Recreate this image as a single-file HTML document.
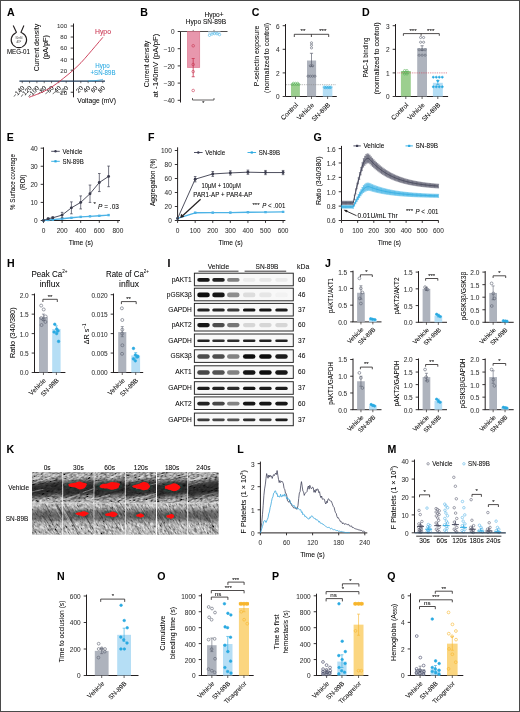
<!DOCTYPE html>
<html><head><meta charset="utf-8"><style>
html,body{margin:0;padding:0;background:#fff;}
svg{display:block;}
text{font-family:"Liberation Sans",sans-serif;}
</style></head><body>
<svg width="520" height="712" viewBox="0 0 520 712">
<rect x="0" y="0" width="520" height="712" fill="#fff"/>
<g opacity="0.999">
<text x="7.1" y="16.1" font-size="10.6" font-weight="bold" stroke="#231f20" stroke-width="0.06">A</text>
<path d="M13.2,25.5 L16.4,32.2 L15.6,33 A7.7,7.7 0 1 0 22.2,33 L21.0,32.3 L23.9,25.5" fill="none" stroke="#231f20" stroke-width="1.1" />
<text x="18.9" y="38.6" font-size="2.6" text-anchor="middle" fill="#777" stroke="#777" stroke-width="0.06">30mM</text>
<text x="18.9" y="43" font-size="2.6" text-anchor="middle" fill="#777" stroke="#777" stroke-width="0.06">ATP</text>
<text x="6.9" y="54.2" font-size="6.4" textLength="23.1" lengthAdjust="spacingAndGlyphs" stroke="#231f20" stroke-width="0.06">MEG-01</text>
<line x1="73.5" y1="23.5" x2="73.5" y2="97.3" stroke="#231f20" stroke-width="1" />
<line x1="70.7" y1="26" x2="73.5" y2="26" stroke="#231f20" stroke-width="0.9" />
<text x="67.1" y="28.4" font-size="6.1" text-anchor="end" fill="#3a3a3a" stroke="#3a3a3a" stroke-width="0.06">100</text>
<line x1="70.7" y1="37.04" x2="73.5" y2="37.04" stroke="#231f20" stroke-width="0.9" />
<text x="67.1" y="39.44" font-size="6.1" text-anchor="end" fill="#3a3a3a" stroke="#3a3a3a" stroke-width="0.06">80</text>
<line x1="70.7" y1="48.08" x2="73.5" y2="48.08" stroke="#231f20" stroke-width="0.9" />
<text x="67.1" y="50.48" font-size="6.1" text-anchor="end" fill="#3a3a3a" stroke="#3a3a3a" stroke-width="0.06">60</text>
<line x1="70.7" y1="59.12" x2="73.5" y2="59.12" stroke="#231f20" stroke-width="0.9" />
<text x="67.1" y="61.52" font-size="6.1" text-anchor="end" fill="#3a3a3a" stroke="#3a3a3a" stroke-width="0.06">40</text>
<line x1="70.7" y1="70.16" x2="73.5" y2="70.16" stroke="#231f20" stroke-width="0.9" />
<text x="67.1" y="72.56" font-size="6.1" text-anchor="end" fill="#3a3a3a" stroke="#3a3a3a" stroke-width="0.06">20</text>
<line x1="70.7" y1="92.24" x2="73.5" y2="92.24" stroke="#231f20" stroke-width="0.9" />
<text x="67.1" y="94.64" font-size="6.1" text-anchor="end" fill="#3a3a3a" stroke="#3a3a3a" stroke-width="0.06">−20</text>
<line x1="19.4" y1="81.2" x2="105" y2="81.2" stroke="#1f3a58" stroke-width="1.25" />
<line x1="22.26" y1="81.2" x2="22.26" y2="83.2" stroke="#231f20" stroke-width="0.6" />
<text x="24.86" y="88.4" font-size="6.2" text-anchor="end" transform="rotate(-45 24.86 88.4)" stroke="#231f20" stroke-width="0.06">−140</text>
<line x1="29.58" y1="81.2" x2="29.58" y2="83.2" stroke="#231f20" stroke-width="0.6" />
<text x="32.18" y="88.4" font-size="6.2" text-anchor="end" transform="rotate(-45 32.18 88.4)" stroke="#231f20" stroke-width="0.06">−120</text>
<line x1="36.9" y1="81.2" x2="36.9" y2="83.2" stroke="#231f20" stroke-width="0.6" />
<text x="39.5" y="88.4" font-size="6.2" text-anchor="end" transform="rotate(-45 39.5 88.4)" stroke="#231f20" stroke-width="0.06">−100</text>
<line x1="44.22" y1="81.2" x2="44.22" y2="83.2" stroke="#231f20" stroke-width="0.6" />
<text x="46.82" y="88.4" font-size="6.2" text-anchor="end" transform="rotate(-45 46.82 88.4)" stroke="#231f20" stroke-width="0.06">−80</text>
<line x1="51.54" y1="81.2" x2="51.54" y2="83.2" stroke="#231f20" stroke-width="0.6" />
<text x="54.14" y="88.4" font-size="6.2" text-anchor="end" transform="rotate(-45 54.14 88.4)" stroke="#231f20" stroke-width="0.06">−60</text>
<line x1="58.86" y1="81.2" x2="58.86" y2="83.2" stroke="#231f20" stroke-width="0.6" />
<text x="61.46" y="88.4" font-size="6.2" text-anchor="end" transform="rotate(-45 61.46 88.4)" stroke="#231f20" stroke-width="0.06">−40</text>
<line x1="66.18" y1="81.2" x2="66.18" y2="83.2" stroke="#231f20" stroke-width="0.6" />
<text x="68.78" y="88.4" font-size="6.2" text-anchor="end" transform="rotate(-45 68.78 88.4)" stroke="#231f20" stroke-width="0.06">−20</text>
<line x1="80.82" y1="81.2" x2="80.82" y2="83.2" stroke="#231f20" stroke-width="0.6" />
<text x="83.42" y="88.4" font-size="6.2" text-anchor="end" transform="rotate(-45 83.42 88.4)" stroke="#231f20" stroke-width="0.06">20</text>
<line x1="88.14" y1="81.2" x2="88.14" y2="83.2" stroke="#231f20" stroke-width="0.6" />
<text x="90.74" y="88.4" font-size="6.2" text-anchor="end" transform="rotate(-45 90.74 88.4)" stroke="#231f20" stroke-width="0.06">40</text>
<line x1="95.46" y1="81.2" x2="95.46" y2="83.2" stroke="#231f20" stroke-width="0.6" />
<text x="98.06" y="88.4" font-size="6.2" text-anchor="end" transform="rotate(-45 98.06 88.4)" stroke="#231f20" stroke-width="0.06">60</text>
<line x1="102.78" y1="81.2" x2="102.78" y2="83.2" stroke="#231f20" stroke-width="0.6" />
<text x="105.38" y="88.4" font-size="6.2" text-anchor="end" transform="rotate(-45 105.38 88.4)" stroke="#231f20" stroke-width="0.06">80</text>
<path d="M88,80.9 C95,80.9 99,80.3 103,79.3" fill="none" stroke="#29a9e1" stroke-width="0.7" />
<path d="M29,97.3 C31.17,96.47 38.17,94.05 42,92.3 C45.83,90.55 49,88.68 52,86.8 C55,84.92 57.5,82.9 60,81 C62.5,79.1 64.8,77.2 67,75.4 C69.2,73.6 70.87,72.32 73.2,70.2 C75.53,68.08 78.53,65.27 81,62.7 C83.47,60.13 85.67,57.48 88,54.8 C90.33,52.12 92.52,49.52 95,46.6 C97.48,43.68 101.58,38.85 102.9,37.3" fill="none" stroke="#c8334f" stroke-width="0.9" />
<text x="103" y="34.4" font-size="6.6" text-anchor="middle" fill="#c8334f" textLength="16" lengthAdjust="spacingAndGlyphs" stroke="#c8334f" stroke-width="0.06">Hypo</text>
<text x="102.5" y="68.4" font-size="6.6" text-anchor="middle" fill="#29a9e1" textLength="14.5" lengthAdjust="spacingAndGlyphs" stroke="#29a9e1" stroke-width="0.06">Hypo</text>
<text x="103" y="75.1" font-size="6.6" text-anchor="middle" fill="#29a9e1" textLength="25" lengthAdjust="spacingAndGlyphs" stroke="#29a9e1" stroke-width="0.06">+SN-89B</text>
<text x="77.3" y="102.5" font-size="7" textLength="38.7" lengthAdjust="spacingAndGlyphs" stroke="#231f20" stroke-width="0.06">Voltage (mV)</text>
<text x="38.6" y="47.5" font-size="7" text-anchor="middle" textLength="47.5" lengthAdjust="spacingAndGlyphs" transform="rotate(-90 38.6 47.5)" stroke="#231f20" stroke-width="0.06">Current density</text>
<text x="48.3" y="47.3" font-size="7" text-anchor="middle" textLength="24.5" lengthAdjust="spacingAndGlyphs" transform="rotate(-90 48.3 47.3)" stroke="#231f20" stroke-width="0.06">(pA/pF)</text>
<text x="140.3" y="16.1" font-size="10.6" font-weight="bold" stroke="#231f20" stroke-width="0.06">B</text>
<line x1="180.5" y1="31.5" x2="180.5" y2="102.5" stroke="#231f20" stroke-width="1" />
<line x1="177.7" y1="31.5" x2="180.5" y2="31.5" stroke="#231f20" stroke-width="0.9" />
<text x="174.7" y="34.44" font-size="6.5" text-anchor="end" fill="#333333" stroke="#333333" stroke-width="0.06">0</text>
<line x1="177.7" y1="48.7" x2="180.5" y2="48.7" stroke="#231f20" stroke-width="0.9" />
<text x="174.7" y="51.64" font-size="6.5" text-anchor="end" fill="#333333" stroke="#333333" stroke-width="0.06">−10</text>
<line x1="177.7" y1="65.9" x2="180.5" y2="65.9" stroke="#231f20" stroke-width="0.9" />
<text x="174.7" y="68.84" font-size="6.5" text-anchor="end" fill="#333333" stroke="#333333" stroke-width="0.06">−20</text>
<line x1="177.7" y1="83.1" x2="180.5" y2="83.1" stroke="#231f20" stroke-width="0.9" />
<text x="174.7" y="86.04" font-size="6.5" text-anchor="end" fill="#333333" stroke="#333333" stroke-width="0.06">−30</text>
<line x1="177.7" y1="100.3" x2="180.5" y2="100.3" stroke="#231f20" stroke-width="0.9" />
<text x="174.7" y="103.24" font-size="6.5" text-anchor="end" fill="#333333" stroke="#333333" stroke-width="0.06">−40</text>
<line x1="180.5" y1="31.5" x2="227.5" y2="31.5" stroke="#231f20" stroke-width="0.8" />
<line x1="193.2" y1="31.5" x2="193.2" y2="29.9" stroke="#231f20" stroke-width="0.6" />
<line x1="214" y1="31.5" x2="214" y2="29.9" stroke="#231f20" stroke-width="0.6" />
<rect x="187.4" y="31.5" width="12.4" height="36.12" fill="#e897ad" stroke="#d8657f" stroke-width="0.5" />
<line x1="193.2" y1="58.5" x2="193.2" y2="76.74" stroke="#c8334f" stroke-width="0.8" />
<line x1="191.7" y1="58.5" x2="194.7" y2="58.5" stroke="#c8334f" stroke-width="0.8" />
<line x1="191.7" y1="76.74" x2="194.7" y2="76.74" stroke="#c8334f" stroke-width="0.8" />
<circle cx="193.2" cy="45.78" r="1.3" fill="none" stroke="#c8334f" stroke-width="0.6" />
<circle cx="193.2" cy="64.52" r="1.3" fill="none" stroke="#c8334f" stroke-width="0.6" />
<circle cx="193.2" cy="71.58" r="1.3" fill="none" stroke="#c8334f" stroke-width="0.6" />
<circle cx="193.2" cy="90.5" r="1.3" fill="none" stroke="#c8334f" stroke-width="0.6" />
<rect x="208" y="31.5" width="12.5" height="2.2" fill="#d3ecfa" stroke="none" stroke-width="0.6" />
<circle cx="209.5" cy="35.28" r="1.2" fill="none" stroke="#29a9e1" stroke-width="0.5" />
<circle cx="212" cy="34.08" r="1.2" fill="none" stroke="#29a9e1" stroke-width="0.5" />
<circle cx="214.5" cy="33.56" r="1.2" fill="none" stroke="#29a9e1" stroke-width="0.5" />
<circle cx="217" cy="33.74" r="1.2" fill="none" stroke="#29a9e1" stroke-width="0.5" />
<circle cx="219.5" cy="34.6" r="1.2" fill="none" stroke="#29a9e1" stroke-width="0.5" />
<text x="193.5" y="23.8" font-size="6.6" text-anchor="middle" stroke="#231f20" stroke-width="0.06">Hypo</text>
<text x="214" y="16.6" font-size="6.6" text-anchor="middle" stroke="#231f20" stroke-width="0.06">Hypo+</text>
<text x="214.5" y="23.8" font-size="6.6" text-anchor="middle" stroke="#231f20" stroke-width="0.06">SN-89B</text>
<path d="M192.5,98 L192.5,100 L214,100 L214,98" fill="none" stroke="#231f20" stroke-width="0.7" />
<text x="203.3" y="104.5" font-size="5.5" text-anchor="middle" stroke="#231f20" stroke-width="0.06">*</text>
<text x="148.5" y="64" font-size="7" text-anchor="middle" textLength="46.5" lengthAdjust="spacingAndGlyphs" transform="rotate(-90 148.5 64)" stroke="#231f20" stroke-width="0.06">Current density</text>
<text x="158.3" y="65.6" font-size="7" text-anchor="middle" textLength="64" lengthAdjust="spacingAndGlyphs" transform="rotate(-90 158.3 65.6)" stroke="#231f20" stroke-width="0.06">at -140mV (pA/pF)</text>
<text x="251.8" y="16.1" font-size="10.6" font-weight="bold" stroke="#231f20" stroke-width="0.06">C</text>
<line x1="285.5" y1="24" x2="285.5" y2="96.5" stroke="#231f20" stroke-width="1" />
<line x1="282.7" y1="96.5" x2="285.5" y2="96.5" stroke="#231f20" stroke-width="0.9" />
<text x="279.7" y="99.44" font-size="6.5" text-anchor="end" fill="#333333" stroke="#333333" stroke-width="0.06">0</text>
<line x1="282.7" y1="72.9" x2="285.5" y2="72.9" stroke="#231f20" stroke-width="0.9" />
<text x="279.7" y="75.84" font-size="6.5" text-anchor="end" fill="#333333" stroke="#333333" stroke-width="0.06">2</text>
<line x1="282.7" y1="49.3" x2="285.5" y2="49.3" stroke="#231f20" stroke-width="0.9" />
<text x="279.7" y="52.24" font-size="6.5" text-anchor="end" fill="#333333" stroke="#333333" stroke-width="0.06">4</text>
<line x1="282.7" y1="25.7" x2="285.5" y2="25.7" stroke="#231f20" stroke-width="0.9" />
<text x="279.7" y="28.64" font-size="6.5" text-anchor="end" fill="#333333" stroke="#333333" stroke-width="0.06">6</text>
<line x1="285.5" y1="96.5" x2="336.8" y2="96.5" stroke="#231f20" stroke-width="1" />
<rect x="291" y="84.11" width="8.9" height="12.39" fill="#9ccf8f" stroke="none" stroke-width="0.6" />
<rect x="307" y="60.51" width="9.1" height="35.99" fill="#aeb3bd" stroke="none" stroke-width="0.6" />
<rect x="322.8" y="87.41" width="9.6" height="9.09" fill="#b5def5" stroke="none" stroke-width="0.6" />
<line x1="286" y1="84.7" x2="336" y2="84.7" stroke="#8a8a8a" stroke-width="0.7" stroke-dasharray="0.9 0.9"/>
<line x1="295.5" y1="96.5" x2="295.5" y2="99" stroke="#231f20" stroke-width="0.7" />
<line x1="311.5" y1="96.5" x2="311.5" y2="99" stroke="#231f20" stroke-width="0.7" />
<line x1="327.6" y1="96.5" x2="327.6" y2="99" stroke="#231f20" stroke-width="0.7" />
<line x1="311.5" y1="53.31" x2="311.5" y2="66.29" stroke="#5d6270" stroke-width="0.7" />
<line x1="309.9" y1="53.31" x2="313.1" y2="53.31" stroke="#5d6270" stroke-width="0.7" />
<line x1="309.9" y1="66.29" x2="313.1" y2="66.29" stroke="#5d6270" stroke-width="0.7" />
<circle cx="293.3" cy="83.28" r="1.1" fill="none" stroke="#5cb65a" stroke-width="0.6" />
<circle cx="295.5" cy="83.28" r="1.1" fill="none" stroke="#5cb65a" stroke-width="0.6" />
<circle cx="297.7" cy="83.28" r="1.1" fill="none" stroke="#5cb65a" stroke-width="0.6" />
<circle cx="292.2" cy="84.46" r="1.1" fill="none" stroke="#5cb65a" stroke-width="0.6" />
<circle cx="294.4" cy="84.46" r="1.1" fill="none" stroke="#5cb65a" stroke-width="0.6" />
<circle cx="296.6" cy="84.46" r="1.1" fill="none" stroke="#5cb65a" stroke-width="0.6" />
<circle cx="298.8" cy="84.46" r="1.1" fill="none" stroke="#5cb65a" stroke-width="0.6" />
<circle cx="311.5" cy="42.81" r="1.1" fill="none" stroke="#5d6270" stroke-width="0.6" />
<circle cx="311.5" cy="45.17" r="1.1" fill="none" stroke="#5d6270" stroke-width="0.6" />
<circle cx="311.5" cy="47.88" r="1.1" fill="none" stroke="#5d6270" stroke-width="0.6" />
<circle cx="310.35" cy="65.82" r="1.1" fill="none" stroke="#5d6270" stroke-width="0.6" />
<circle cx="312.65" cy="65.82" r="1.1" fill="none" stroke="#5d6270" stroke-width="0.6" />
<circle cx="308.05" cy="76.2" r="1.1" fill="none" stroke="#5d6270" stroke-width="0.6" />
<circle cx="310.35" cy="76.2" r="1.1" fill="none" stroke="#5d6270" stroke-width="0.6" />
<circle cx="312.65" cy="76.2" r="1.1" fill="none" stroke="#5d6270" stroke-width="0.6" />
<circle cx="314.95" cy="76.2" r="1.1" fill="none" stroke="#5d6270" stroke-width="0.6" />
<circle cx="324.15" cy="87.06" r="1.1" fill="none" stroke="#29a9e1" stroke-width="0.6" />
<circle cx="326.45" cy="87.06" r="1.1" fill="none" stroke="#29a9e1" stroke-width="0.6" />
<circle cx="328.75" cy="87.06" r="1.1" fill="none" stroke="#29a9e1" stroke-width="0.6" />
<circle cx="331.05" cy="87.06" r="1.1" fill="none" stroke="#29a9e1" stroke-width="0.6" />
<circle cx="325.3" cy="87.65" r="1.1" fill="none" stroke="#29a9e1" stroke-width="0.6" />
<circle cx="327.6" cy="87.65" r="1.1" fill="none" stroke="#29a9e1" stroke-width="0.6" />
<circle cx="329.9" cy="87.65" r="1.1" fill="none" stroke="#29a9e1" stroke-width="0.6" />
<path d="M294.3,37 L294.3,34.3 L328.7,34.3 L328.7,37 M311.4,34.3 L311.4,37" fill="none" stroke="#231f20" stroke-width="0.8" />
<text x="302.9" y="33.4" font-size="6.2" text-anchor="middle" stroke="#231f20" stroke-width="0.06">**</text>
<text x="322.8" y="33.4" font-size="6.2" text-anchor="middle" stroke="#231f20" stroke-width="0.06">***</text>
<text x="298.5" y="105.5" font-size="6.6" text-anchor="end" transform="rotate(-45 298.5 105.5)" stroke="#231f20" stroke-width="0.06">Control</text>
<text x="314.5" y="105.5" font-size="6.6" text-anchor="end" transform="rotate(-45 314.5 105.5)" stroke="#231f20" stroke-width="0.06">Vehicle</text>
<text x="330.6" y="105.5" font-size="6.6" text-anchor="end" transform="rotate(-45 330.6 105.5)" stroke="#231f20" stroke-width="0.06">SN-89B</text>
<text x="259.2" y="56" font-size="7.2" text-anchor="middle" textLength="60.6" lengthAdjust="spacingAndGlyphs" transform="rotate(-90 259.2 56)" stroke="#231f20" stroke-width="0.06">P-selectin exposure</text>
<text x="269" y="57.9" font-size="7.2" text-anchor="middle" textLength="70" lengthAdjust="spacingAndGlyphs" transform="rotate(-90 269 57.9)" stroke="#231f20" stroke-width="0.06">(normalized to control)</text>
<text x="362" y="16.1" font-size="10.6" font-weight="bold" stroke="#231f20" stroke-width="0.06">D</text>
<line x1="395.5" y1="24" x2="395.5" y2="96.5" stroke="#231f20" stroke-width="1" />
<line x1="392.7" y1="96.5" x2="395.5" y2="96.5" stroke="#231f20" stroke-width="0.9" />
<text x="389.7" y="99.44" font-size="6.5" text-anchor="end" fill="#333333" stroke="#333333" stroke-width="0.06">0</text>
<line x1="392.7" y1="72.9" x2="395.5" y2="72.9" stroke="#231f20" stroke-width="0.9" />
<text x="389.7" y="75.84" font-size="6.5" text-anchor="end" fill="#333333" stroke="#333333" stroke-width="0.06">1</text>
<line x1="392.7" y1="49.3" x2="395.5" y2="49.3" stroke="#231f20" stroke-width="0.9" />
<text x="389.7" y="52.24" font-size="6.5" text-anchor="end" fill="#333333" stroke="#333333" stroke-width="0.06">2</text>
<line x1="392.7" y1="25.7" x2="395.5" y2="25.7" stroke="#231f20" stroke-width="0.9" />
<text x="389.7" y="28.64" font-size="6.5" text-anchor="end" fill="#333333" stroke="#333333" stroke-width="0.06">3</text>
<line x1="395.5" y1="96.5" x2="448.1" y2="96.5" stroke="#231f20" stroke-width="1" />
<rect x="400.9" y="71.01" width="9.9" height="25.49" fill="#9ccf8f" stroke="none" stroke-width="0.6" />
<rect x="417.2" y="48.12" width="9.8" height="48.38" fill="#aeb3bd" stroke="none" stroke-width="0.6" />
<rect x="432.9" y="82.81" width="9.9" height="13.69" fill="#b5def5" stroke="none" stroke-width="0.6" />
<line x1="397.5" y1="72.9" x2="447.7" y2="72.9" stroke="#d0455a" stroke-width="0.7" stroke-dasharray="0.9 0.9"/>
<line x1="405.8" y1="96.5" x2="405.8" y2="99" stroke="#231f20" stroke-width="0.7" />
<line x1="422.1" y1="96.5" x2="422.1" y2="99" stroke="#231f20" stroke-width="0.7" />
<line x1="437.8" y1="96.5" x2="437.8" y2="99" stroke="#231f20" stroke-width="0.7" />
<line x1="422.1" y1="45.76" x2="422.1" y2="50.48" stroke="#5d6270" stroke-width="0.7" />
<line x1="420.5" y1="45.76" x2="423.7" y2="45.76" stroke="#5d6270" stroke-width="0.7" />
<line x1="420.5" y1="50.48" x2="423.7" y2="50.48" stroke="#5d6270" stroke-width="0.7" />
<line x1="437.8" y1="80.45" x2="437.8" y2="84.7" stroke="#29a9e1" stroke-width="0.7" />
<line x1="436.2" y1="80.45" x2="439.4" y2="80.45" stroke="#29a9e1" stroke-width="0.7" />
<line x1="436.2" y1="84.7" x2="439.4" y2="84.7" stroke="#29a9e1" stroke-width="0.7" />
<circle cx="404.65" cy="70.54" r="1.1" fill="none" stroke="#5cb65a" stroke-width="0.6" />
<circle cx="406.95" cy="70.54" r="1.1" fill="none" stroke="#5cb65a" stroke-width="0.6" />
<circle cx="403.5" cy="72.43" r="1.1" fill="none" stroke="#5cb65a" stroke-width="0.6" />
<circle cx="405.8" cy="72.43" r="1.1" fill="none" stroke="#5cb65a" stroke-width="0.6" />
<circle cx="408.1" cy="72.43" r="1.1" fill="none" stroke="#5cb65a" stroke-width="0.6" />
<circle cx="404.65" cy="74.08" r="1.1" fill="none" stroke="#5cb65a" stroke-width="0.6" />
<circle cx="406.95" cy="74.08" r="1.1" fill="none" stroke="#5cb65a" stroke-width="0.6" />
<circle cx="420.6" cy="37.5" r="1.1" fill="none" stroke="#5d6270" stroke-width="0.6" />
<circle cx="423.6" cy="37.5" r="1.1" fill="none" stroke="#5d6270" stroke-width="0.6" />
<circle cx="420.6" cy="42.22" r="1.1" fill="none" stroke="#5d6270" stroke-width="0.6" />
<circle cx="423.6" cy="42.22" r="1.1" fill="none" stroke="#5d6270" stroke-width="0.6" />
<circle cx="419.1" cy="49.77" r="1.1" fill="none" stroke="#5d6270" stroke-width="0.6" />
<circle cx="422.1" cy="49.77" r="1.1" fill="none" stroke="#5d6270" stroke-width="0.6" />
<circle cx="425.1" cy="49.77" r="1.1" fill="none" stroke="#5d6270" stroke-width="0.6" />
<circle cx="419.1" cy="55.2" r="1.1" fill="none" stroke="#5d6270" stroke-width="0.6" />
<circle cx="422.1" cy="55.2" r="1.1" fill="none" stroke="#5d6270" stroke-width="0.6" />
<circle cx="425.1" cy="55.2" r="1.1" fill="none" stroke="#5d6270" stroke-width="0.6" />
<circle cx="433.3" cy="77.15" r="1" fill="#29a9e1" stroke="#29a9e1" stroke-width="0.6" />
<circle cx="436.3" cy="77.15" r="1" fill="#29a9e1" stroke="#29a9e1" stroke-width="0.6" />
<circle cx="439.3" cy="77.15" r="1" fill="#29a9e1" stroke="#29a9e1" stroke-width="0.6" />
<circle cx="442.3" cy="77.15" r="1" fill="#29a9e1" stroke="#29a9e1" stroke-width="0.6" />
<circle cx="437.8" cy="80.92" r="1" fill="#29a9e1" stroke="#29a9e1" stroke-width="0.6" />
<circle cx="433.3" cy="86.82" r="1" fill="#29a9e1" stroke="#29a9e1" stroke-width="0.6" />
<circle cx="436.3" cy="86.82" r="1" fill="#29a9e1" stroke="#29a9e1" stroke-width="0.6" />
<circle cx="439.3" cy="86.82" r="1" fill="#29a9e1" stroke="#29a9e1" stroke-width="0.6" />
<circle cx="442.3" cy="86.82" r="1" fill="#29a9e1" stroke="#29a9e1" stroke-width="0.6" />
<path d="M403.4,35.8 L403.4,33.6 L439.3,33.6 L439.3,35.8 M421.1,33.6 L421.1,35.8" fill="none" stroke="#231f20" stroke-width="0.8" />
<text x="413" y="32.8" font-size="6.2" text-anchor="middle" stroke="#231f20" stroke-width="0.06">***</text>
<text x="430.7" y="32.8" font-size="6.2" text-anchor="middle" stroke="#231f20" stroke-width="0.06">***</text>
<text x="408.8" y="105.5" font-size="6.6" text-anchor="end" transform="rotate(-45 408.8 105.5)" stroke="#231f20" stroke-width="0.06">Control</text>
<text x="425.1" y="105.5" font-size="6.6" text-anchor="end" transform="rotate(-45 425.1 105.5)" stroke="#231f20" stroke-width="0.06">Vehicle</text>
<text x="440.8" y="105.5" font-size="6.6" text-anchor="end" transform="rotate(-45 440.8 105.5)" stroke="#231f20" stroke-width="0.06">SN-89B</text>
<text x="367.6" y="57.5" font-size="7.2" text-anchor="middle" textLength="40" lengthAdjust="spacingAndGlyphs" transform="rotate(-90 367.6 57.5)" stroke="#231f20" stroke-width="0.06">PAC-1 binding</text>
<text x="378.6" y="58.4" font-size="7.2" text-anchor="middle" textLength="72" lengthAdjust="spacingAndGlyphs" transform="rotate(-90 378.6 58.4)" stroke="#231f20" stroke-width="0.06">(normalized to control)</text>
<text x="6.7" y="141.3" font-size="10.6" font-weight="bold" stroke="#231f20" stroke-width="0.06">E</text>
<line x1="43.5" y1="147.3" x2="43.5" y2="220.5" stroke="#231f20" stroke-width="1" />
<line x1="40.7" y1="220.5" x2="43.5" y2="220.5" stroke="#231f20" stroke-width="0.9" />
<text x="37.7" y="223.44" font-size="6.5" text-anchor="end" fill="#333333" stroke="#333333" stroke-width="0.06">0</text>
<line x1="40.7" y1="202.42" x2="43.5" y2="202.42" stroke="#231f20" stroke-width="0.9" />
<text x="37.7" y="205.36" font-size="6.5" text-anchor="end" fill="#333333" stroke="#333333" stroke-width="0.06">10</text>
<line x1="40.7" y1="184.34" x2="43.5" y2="184.34" stroke="#231f20" stroke-width="0.9" />
<text x="37.7" y="187.28" font-size="6.5" text-anchor="end" fill="#333333" stroke="#333333" stroke-width="0.06">20</text>
<line x1="40.7" y1="166.26" x2="43.5" y2="166.26" stroke="#231f20" stroke-width="0.9" />
<text x="37.7" y="169.2" font-size="6.5" text-anchor="end" fill="#333333" stroke="#333333" stroke-width="0.06">30</text>
<line x1="40.7" y1="148.18" x2="43.5" y2="148.18" stroke="#231f20" stroke-width="0.9" />
<text x="37.7" y="151.12" font-size="6.5" text-anchor="end" fill="#333333" stroke="#333333" stroke-width="0.06">40</text>
<line x1="43.5" y1="220.5" x2="120" y2="220.5" stroke="#231f20" stroke-width="1" />
<line x1="43.5" y1="220.5" x2="43.5" y2="222.9" stroke="#231f20" stroke-width="0.9" />
<text x="43.5" y="232.58" font-size="6.5" text-anchor="middle" fill="#333333" stroke="#333333" stroke-width="0.06">0</text>
<line x1="62.1" y1="220.5" x2="62.1" y2="222.9" stroke="#231f20" stroke-width="0.9" />
<text x="62.1" y="232.58" font-size="6.5" text-anchor="middle" fill="#333333" stroke="#333333" stroke-width="0.06">200</text>
<line x1="80.7" y1="220.5" x2="80.7" y2="222.9" stroke="#231f20" stroke-width="0.9" />
<text x="80.7" y="232.58" font-size="6.5" text-anchor="middle" fill="#333333" stroke="#333333" stroke-width="0.06">400</text>
<line x1="99.3" y1="220.5" x2="99.3" y2="222.9" stroke="#231f20" stroke-width="0.9" />
<text x="99.3" y="232.58" font-size="6.5" text-anchor="middle" fill="#333333" stroke="#333333" stroke-width="0.06">600</text>
<line x1="117.9" y1="220.5" x2="117.9" y2="222.9" stroke="#231f20" stroke-width="0.9" />
<text x="117.9" y="232.58" font-size="6.5" text-anchor="middle" fill="#333333" stroke="#333333" stroke-width="0.06">800</text>
<polyline points="43.5,220.5 48.15,219.96 52.8,219.6 62.1,218.69 71.4,217.79 80.7,216.88 90,216.34 99.3,215.8 108.6,215.08" fill="none" stroke="#4cb3e6" stroke-width="1.4" stroke-linejoin="round" />
<rect x="42.3" y="219.3" width="2.4" height="2.4" fill="#4cb3e6" stroke="none" stroke-width="0.6" />
<rect x="46.95" y="218.76" width="2.4" height="2.4" fill="#4cb3e6" stroke="none" stroke-width="0.6" />
<rect x="51.6" y="218.4" width="2.4" height="2.4" fill="#4cb3e6" stroke="none" stroke-width="0.6" />
<rect x="60.9" y="217.49" width="2.4" height="2.4" fill="#4cb3e6" stroke="none" stroke-width="0.6" />
<rect x="70.2" y="216.59" width="2.4" height="2.4" fill="#4cb3e6" stroke="none" stroke-width="0.6" />
<rect x="79.5" y="215.68" width="2.4" height="2.4" fill="#4cb3e6" stroke="none" stroke-width="0.6" />
<rect x="88.8" y="215.14" width="2.4" height="2.4" fill="#4cb3e6" stroke="none" stroke-width="0.6" />
<rect x="98.1" y="214.6" width="2.4" height="2.4" fill="#4cb3e6" stroke="none" stroke-width="0.6" />
<rect x="107.4" y="213.88" width="2.4" height="2.4" fill="#4cb3e6" stroke="none" stroke-width="0.6" />
<polyline points="43.5,220.5 48.15,218.69 52.8,217.79 62.1,215.08 71.4,207.84 80.7,202.42 90,193.74 99.3,182.53 108.6,176.38" fill="none" stroke="#3a3b4c" stroke-width="0.9" stroke-linejoin="round" />
<line x1="48.15" y1="218.15" x2="48.15" y2="219.23" stroke="#3a3b4c" stroke-width="0.7" />
<line x1="46.85" y1="218.15" x2="49.45" y2="218.15" stroke="#3a3b4c" stroke-width="0.7" />
<line x1="46.85" y1="219.23" x2="49.45" y2="219.23" stroke="#3a3b4c" stroke-width="0.7" />
<line x1="52.8" y1="217.06" x2="52.8" y2="218.51" stroke="#3a3b4c" stroke-width="0.7" />
<line x1="51.5" y1="217.06" x2="54.1" y2="217.06" stroke="#3a3b4c" stroke-width="0.7" />
<line x1="51.5" y1="218.51" x2="54.1" y2="218.51" stroke="#3a3b4c" stroke-width="0.7" />
<line x1="62.1" y1="212.36" x2="62.1" y2="217.79" stroke="#3a3b4c" stroke-width="0.7" />
<line x1="60.8" y1="212.36" x2="63.4" y2="212.36" stroke="#3a3b4c" stroke-width="0.7" />
<line x1="60.8" y1="217.79" x2="63.4" y2="217.79" stroke="#3a3b4c" stroke-width="0.7" />
<line x1="71.4" y1="201.88" x2="71.4" y2="213.81" stroke="#3a3b4c" stroke-width="0.7" />
<line x1="70.1" y1="201.88" x2="72.7" y2="201.88" stroke="#3a3b4c" stroke-width="0.7" />
<line x1="70.1" y1="213.81" x2="72.7" y2="213.81" stroke="#3a3b4c" stroke-width="0.7" />
<line x1="80.7" y1="195.91" x2="80.7" y2="208.93" stroke="#3a3b4c" stroke-width="0.7" />
<line x1="79.4" y1="195.91" x2="82" y2="195.91" stroke="#3a3b4c" stroke-width="0.7" />
<line x1="79.4" y1="208.93" x2="82" y2="208.93" stroke="#3a3b4c" stroke-width="0.7" />
<line x1="90" y1="185.06" x2="90" y2="202.42" stroke="#3a3b4c" stroke-width="0.7" />
<line x1="88.7" y1="185.06" x2="91.3" y2="185.06" stroke="#3a3b4c" stroke-width="0.7" />
<line x1="88.7" y1="202.42" x2="91.3" y2="202.42" stroke="#3a3b4c" stroke-width="0.7" />
<line x1="99.3" y1="173.49" x2="99.3" y2="191.57" stroke="#3a3b4c" stroke-width="0.7" />
<line x1="98" y1="173.49" x2="100.6" y2="173.49" stroke="#3a3b4c" stroke-width="0.7" />
<line x1="98" y1="191.57" x2="100.6" y2="191.57" stroke="#3a3b4c" stroke-width="0.7" />
<line x1="108.6" y1="166.08" x2="108.6" y2="186.69" stroke="#3a3b4c" stroke-width="0.7" />
<line x1="107.3" y1="166.08" x2="109.9" y2="166.08" stroke="#3a3b4c" stroke-width="0.7" />
<line x1="107.3" y1="186.69" x2="109.9" y2="186.69" stroke="#3a3b4c" stroke-width="0.7" />
<circle cx="43.5" cy="220.5" r="1.45" fill="#3a3b4c" stroke="none" stroke-width="0.5" />
<circle cx="48.15" cy="218.69" r="1.45" fill="#3a3b4c" stroke="none" stroke-width="0.5" />
<circle cx="52.8" cy="217.79" r="1.45" fill="#3a3b4c" stroke="none" stroke-width="0.5" />
<circle cx="62.1" cy="215.08" r="1.45" fill="#3a3b4c" stroke="none" stroke-width="0.5" />
<circle cx="71.4" cy="207.84" r="1.45" fill="#3a3b4c" stroke="none" stroke-width="0.5" />
<circle cx="80.7" cy="202.42" r="1.45" fill="#3a3b4c" stroke="none" stroke-width="0.5" />
<circle cx="90" cy="193.74" r="1.45" fill="#3a3b4c" stroke="none" stroke-width="0.5" />
<circle cx="99.3" cy="182.53" r="1.45" fill="#3a3b4c" stroke="none" stroke-width="0.5" />
<circle cx="108.6" cy="176.38" r="1.45" fill="#3a3b4c" stroke="none" stroke-width="0.5" />
<line x1="51.2" y1="151.3" x2="59.8" y2="151.3" stroke="#3c3d52" stroke-width="0.9" />
<circle cx="55.5" cy="151.3" r="1.2" fill="#3c3d52" stroke="none" stroke-width="0.5" />
<text x="62.4" y="153.6" font-size="6.5" textLength="20" lengthAdjust="spacingAndGlyphs" stroke="#231f20" stroke-width="0.06">Vehicle</text>
<line x1="51.2" y1="161.3" x2="59.8" y2="161.3" stroke="#29a9e1" stroke-width="0.9" />
<rect x="54.4" y="160.2" width="2.2" height="2.2" fill="#29a9e1" stroke="none" stroke-width="0.6" />
<text x="62.4" y="163.6" font-size="6.5" textLength="21.3" lengthAdjust="spacingAndGlyphs" stroke="#231f20" stroke-width="0.06">SN-89B</text>
<text x="94.7" y="206.3" font-size="6" text-anchor="middle" stroke="#231f20" stroke-width="0.06">*</text>
<text x="98.1" y="209.2" font-size="6.5" textLength="20.8" lengthAdjust="spacingAndGlyphs" stroke="#231f20" stroke-width="0.06"><tspan font-style="italic">P</tspan> = .03</text>
<text x="68.7" y="245.2" font-size="7.5" textLength="24.3" lengthAdjust="spacingAndGlyphs" stroke="#231f20" stroke-width="0.06">Time (s)</text>
<text x="14.6" y="182" font-size="7.4" text-anchor="middle" textLength="56" lengthAdjust="spacingAndGlyphs" transform="rotate(-90 14.6 182)" stroke="#231f20" stroke-width="0.06">% Surface coverage</text>
<text x="25.2" y="182.3" font-size="7.4" text-anchor="middle" textLength="15.5" lengthAdjust="spacingAndGlyphs" transform="rotate(-90 25.2 182.3)" stroke="#231f20" stroke-width="0.06">(ROI)</text>
<text x="147.9" y="141.3" font-size="10.6" font-weight="bold" stroke="#231f20" stroke-width="0.06">F</text>
<line x1="177.6" y1="147.3" x2="177.6" y2="220.5" stroke="#231f20" stroke-width="1" />
<line x1="174.8" y1="220.5" x2="177.6" y2="220.5" stroke="#231f20" stroke-width="0.9" />
<text x="171.8" y="223.44" font-size="6.5" text-anchor="end" fill="#333333" stroke="#333333" stroke-width="0.06">0</text>
<line x1="174.8" y1="206.5" x2="177.6" y2="206.5" stroke="#231f20" stroke-width="0.9" />
<text x="171.8" y="209.44" font-size="6.5" text-anchor="end" fill="#333333" stroke="#333333" stroke-width="0.06">20</text>
<line x1="174.8" y1="192.5" x2="177.6" y2="192.5" stroke="#231f20" stroke-width="0.9" />
<text x="171.8" y="195.44" font-size="6.5" text-anchor="end" fill="#333333" stroke="#333333" stroke-width="0.06">40</text>
<line x1="174.8" y1="178.5" x2="177.6" y2="178.5" stroke="#231f20" stroke-width="0.9" />
<text x="171.8" y="181.44" font-size="6.5" text-anchor="end" fill="#333333" stroke="#333333" stroke-width="0.06">60</text>
<line x1="174.8" y1="164.5" x2="177.6" y2="164.5" stroke="#231f20" stroke-width="0.9" />
<text x="171.8" y="167.44" font-size="6.5" text-anchor="end" fill="#333333" stroke="#333333" stroke-width="0.06">80</text>
<line x1="174.8" y1="150.5" x2="177.6" y2="150.5" stroke="#231f20" stroke-width="0.9" />
<text x="171.8" y="153.44" font-size="6.5" text-anchor="end" fill="#333333" stroke="#333333" stroke-width="0.06">100</text>
<line x1="177.6" y1="220.5" x2="285.4" y2="220.5" stroke="#231f20" stroke-width="1" />
<line x1="177.6" y1="220.5" x2="177.6" y2="222.9" stroke="#231f20" stroke-width="0.9" />
<text x="177.6" y="232.58" font-size="6.5" text-anchor="middle" fill="#333333" stroke="#333333" stroke-width="0.06">0</text>
<line x1="195.18" y1="220.5" x2="195.18" y2="222.9" stroke="#231f20" stroke-width="0.9" />
<text x="195.18" y="232.58" font-size="6.5" text-anchor="middle" fill="#333333" stroke="#333333" stroke-width="0.06">100</text>
<line x1="212.76" y1="220.5" x2="212.76" y2="222.9" stroke="#231f20" stroke-width="0.9" />
<text x="212.76" y="232.58" font-size="6.5" text-anchor="middle" fill="#333333" stroke="#333333" stroke-width="0.06">200</text>
<line x1="230.34" y1="220.5" x2="230.34" y2="222.9" stroke="#231f20" stroke-width="0.9" />
<text x="230.34" y="232.58" font-size="6.5" text-anchor="middle" fill="#333333" stroke="#333333" stroke-width="0.06">300</text>
<line x1="247.92" y1="220.5" x2="247.92" y2="222.9" stroke="#231f20" stroke-width="0.9" />
<text x="247.92" y="232.58" font-size="6.5" text-anchor="middle" fill="#333333" stroke="#333333" stroke-width="0.06">400</text>
<line x1="265.5" y1="220.5" x2="265.5" y2="222.9" stroke="#231f20" stroke-width="0.9" />
<text x="265.5" y="232.58" font-size="6.5" text-anchor="middle" fill="#333333" stroke="#333333" stroke-width="0.06">500</text>
<line x1="283.08" y1="220.5" x2="283.08" y2="222.9" stroke="#231f20" stroke-width="0.9" />
<text x="283.08" y="232.58" font-size="6.5" text-anchor="middle" fill="#333333" stroke="#333333" stroke-width="0.06">600</text>
<polyline points="177.6,218.4 195.18,212.8 212.76,212.66 230.34,212.59 247.92,212.24 265.5,212.1 283.08,211.89" fill="none" stroke="#4cb3e6" stroke-width="1.4" stroke-linejoin="round" />
<line x1="195.18" y1="212.1" x2="195.18" y2="213.5" stroke="#4cb3e6" stroke-width="0.7" />
<line x1="193.88" y1="212.1" x2="196.48" y2="212.1" stroke="#4cb3e6" stroke-width="0.7" />
<line x1="193.88" y1="213.5" x2="196.48" y2="213.5" stroke="#4cb3e6" stroke-width="0.7" />
<line x1="212.76" y1="212.1" x2="212.76" y2="213.22" stroke="#4cb3e6" stroke-width="0.7" />
<line x1="211.46" y1="212.1" x2="214.06" y2="212.1" stroke="#4cb3e6" stroke-width="0.7" />
<line x1="211.46" y1="213.22" x2="214.06" y2="213.22" stroke="#4cb3e6" stroke-width="0.7" />
<line x1="230.34" y1="212.03" x2="230.34" y2="213.15" stroke="#4cb3e6" stroke-width="0.7" />
<line x1="229.04" y1="212.03" x2="231.64" y2="212.03" stroke="#4cb3e6" stroke-width="0.7" />
<line x1="229.04" y1="213.15" x2="231.64" y2="213.15" stroke="#4cb3e6" stroke-width="0.7" />
<line x1="247.92" y1="211.68" x2="247.92" y2="212.8" stroke="#4cb3e6" stroke-width="0.7" />
<line x1="246.62" y1="211.68" x2="249.22" y2="211.68" stroke="#4cb3e6" stroke-width="0.7" />
<line x1="246.62" y1="212.8" x2="249.22" y2="212.8" stroke="#4cb3e6" stroke-width="0.7" />
<line x1="265.5" y1="211.54" x2="265.5" y2="212.66" stroke="#4cb3e6" stroke-width="0.7" />
<line x1="264.2" y1="211.54" x2="266.8" y2="211.54" stroke="#4cb3e6" stroke-width="0.7" />
<line x1="264.2" y1="212.66" x2="266.8" y2="212.66" stroke="#4cb3e6" stroke-width="0.7" />
<line x1="283.08" y1="211.33" x2="283.08" y2="212.45" stroke="#4cb3e6" stroke-width="0.7" />
<line x1="281.78" y1="211.33" x2="284.38" y2="211.33" stroke="#4cb3e6" stroke-width="0.7" />
<line x1="281.78" y1="212.45" x2="284.38" y2="212.45" stroke="#4cb3e6" stroke-width="0.7" />
<rect x="176.5" y="217.3" width="2.2" height="2.2" fill="#4cb3e6" stroke="none" stroke-width="0.6" />
<rect x="194.08" y="211.7" width="2.2" height="2.2" fill="#4cb3e6" stroke="none" stroke-width="0.6" />
<rect x="211.66" y="211.56" width="2.2" height="2.2" fill="#4cb3e6" stroke="none" stroke-width="0.6" />
<rect x="229.24" y="211.49" width="2.2" height="2.2" fill="#4cb3e6" stroke="none" stroke-width="0.6" />
<rect x="246.82" y="211.14" width="2.2" height="2.2" fill="#4cb3e6" stroke="none" stroke-width="0.6" />
<rect x="264.4" y="211" width="2.2" height="2.2" fill="#4cb3e6" stroke="none" stroke-width="0.6" />
<rect x="281.98" y="210.79" width="2.2" height="2.2" fill="#4cb3e6" stroke="none" stroke-width="0.6" />
<polyline points="177.6,218.4 195.18,179.2 212.76,173.95 230.34,172.9 247.92,172.2 265.5,172.55 283.08,172.55" fill="none" stroke="#3a3b4c" stroke-width="0.9" stroke-linejoin="round" />
<line x1="195.18" y1="176.54" x2="195.18" y2="181.86" stroke="#3a3b4c" stroke-width="0.7" />
<line x1="193.88" y1="176.54" x2="196.48" y2="176.54" stroke="#3a3b4c" stroke-width="0.7" />
<line x1="193.88" y1="181.86" x2="196.48" y2="181.86" stroke="#3a3b4c" stroke-width="0.7" />
<line x1="212.76" y1="171.5" x2="212.76" y2="176.4" stroke="#3a3b4c" stroke-width="0.7" />
<line x1="211.46" y1="171.5" x2="214.06" y2="171.5" stroke="#3a3b4c" stroke-width="0.7" />
<line x1="211.46" y1="176.4" x2="214.06" y2="176.4" stroke="#3a3b4c" stroke-width="0.7" />
<line x1="230.34" y1="170.8" x2="230.34" y2="175" stroke="#3a3b4c" stroke-width="0.7" />
<line x1="229.04" y1="170.8" x2="231.64" y2="170.8" stroke="#3a3b4c" stroke-width="0.7" />
<line x1="229.04" y1="175" x2="231.64" y2="175" stroke="#3a3b4c" stroke-width="0.7" />
<line x1="247.92" y1="170.1" x2="247.92" y2="174.3" stroke="#3a3b4c" stroke-width="0.7" />
<line x1="246.62" y1="170.1" x2="249.22" y2="170.1" stroke="#3a3b4c" stroke-width="0.7" />
<line x1="246.62" y1="174.3" x2="249.22" y2="174.3" stroke="#3a3b4c" stroke-width="0.7" />
<line x1="265.5" y1="170.45" x2="265.5" y2="174.65" stroke="#3a3b4c" stroke-width="0.7" />
<line x1="264.2" y1="170.45" x2="266.8" y2="170.45" stroke="#3a3b4c" stroke-width="0.7" />
<line x1="264.2" y1="174.65" x2="266.8" y2="174.65" stroke="#3a3b4c" stroke-width="0.7" />
<line x1="283.08" y1="170.45" x2="283.08" y2="174.65" stroke="#3a3b4c" stroke-width="0.7" />
<line x1="281.78" y1="170.45" x2="284.38" y2="170.45" stroke="#3a3b4c" stroke-width="0.7" />
<line x1="281.78" y1="174.65" x2="284.38" y2="174.65" stroke="#3a3b4c" stroke-width="0.7" />
<circle cx="177.6" cy="218.4" r="1.45" fill="#3a3b4c" stroke="none" stroke-width="0.5" />
<circle cx="195.18" cy="179.2" r="1.45" fill="#3a3b4c" stroke="none" stroke-width="0.5" />
<circle cx="212.76" cy="173.95" r="1.45" fill="#3a3b4c" stroke="none" stroke-width="0.5" />
<circle cx="230.34" cy="172.9" r="1.45" fill="#3a3b4c" stroke="none" stroke-width="0.5" />
<circle cx="247.92" cy="172.2" r="1.45" fill="#3a3b4c" stroke="none" stroke-width="0.5" />
<circle cx="265.5" cy="172.55" r="1.45" fill="#3a3b4c" stroke="none" stroke-width="0.5" />
<circle cx="283.08" cy="172.55" r="1.45" fill="#3a3b4c" stroke="none" stroke-width="0.5" />
<line x1="194" y1="152.5" x2="202.6" y2="152.5" stroke="#3c3d52" stroke-width="0.9" />
<circle cx="198.3" cy="152.5" r="1.2" fill="#3c3d52" stroke="none" stroke-width="0.5" />
<text x="205.2" y="154.8" font-size="6.5" textLength="20" lengthAdjust="spacingAndGlyphs" stroke="#231f20" stroke-width="0.06">Vehicle</text>
<line x1="247.5" y1="152.5" x2="256.1" y2="152.5" stroke="#29a9e1" stroke-width="0.9" />
<rect x="250.7" y="151.4" width="2.2" height="2.2" fill="#29a9e1" stroke="none" stroke-width="0.6" />
<text x="258.7" y="154.8" font-size="6.5" textLength="21.3" lengthAdjust="spacingAndGlyphs" stroke="#231f20" stroke-width="0.06">SN-89B</text>
<text x="201.4" y="188" font-size="6.5" textLength="39.5" lengthAdjust="spacingAndGlyphs" stroke="#231f20" stroke-width="0.06">10μM + 100μM</text>
<text x="193.3" y="196.6" font-size="6.5" textLength="59" lengthAdjust="spacingAndGlyphs" stroke="#231f20" stroke-width="0.06">PAR1-AP + PAR4-AP</text>
<line x1="200.6" y1="199.2" x2="182.6" y2="215.7" stroke="#231f20" stroke-width="1.2" />
<path d="M180.2,217.9 L181.1,213.8 L184.3,216.7 Z" fill="#231f20" stroke="none" stroke-width="0.7" />
<text x="256" y="206.6" font-size="6" text-anchor="middle" stroke="#231f20" stroke-width="0.06">***</text>
<text x="262.3" y="207.8" font-size="6.5" textLength="23" lengthAdjust="spacingAndGlyphs" stroke="#231f20" stroke-width="0.06"><tspan font-style="italic">P</tspan> &lt; .001</text>
<text x="218.5" y="244.7" font-size="7.5" textLength="24.2" lengthAdjust="spacingAndGlyphs" stroke="#231f20" stroke-width="0.06">Time (s)</text>
<text x="155.4" y="182.3" font-size="7.4" text-anchor="middle" textLength="47.6" lengthAdjust="spacingAndGlyphs" transform="rotate(-90 155.4 182.3)" stroke="#231f20" stroke-width="0.06">Aggregation (%)</text>
<text x="313.4" y="141.3" font-size="10.6" font-weight="bold" stroke="#231f20" stroke-width="0.06">G</text>
<line x1="341.5" y1="145.9" x2="341.5" y2="220.5" stroke="#231f20" stroke-width="1" />
<line x1="338.7" y1="220.5" x2="341.5" y2="220.5" stroke="#231f20" stroke-width="0.9" />
<text x="335.7" y="223.44" font-size="6.5" text-anchor="end" fill="#333333" stroke="#333333" stroke-width="0.06">0.6</text>
<line x1="338.7" y1="206.12" x2="341.5" y2="206.12" stroke="#231f20" stroke-width="0.9" />
<text x="335.7" y="209.06" font-size="6.5" text-anchor="end" fill="#333333" stroke="#333333" stroke-width="0.06">0.8</text>
<line x1="338.7" y1="191.74" x2="341.5" y2="191.74" stroke="#231f20" stroke-width="0.9" />
<text x="335.7" y="194.68" font-size="6.5" text-anchor="end" fill="#333333" stroke="#333333" stroke-width="0.06">1.0</text>
<line x1="338.7" y1="177.36" x2="341.5" y2="177.36" stroke="#231f20" stroke-width="0.9" />
<text x="335.7" y="180.3" font-size="6.5" text-anchor="end" fill="#333333" stroke="#333333" stroke-width="0.06">1.2</text>
<line x1="338.7" y1="162.98" x2="341.5" y2="162.98" stroke="#231f20" stroke-width="0.9" />
<text x="335.7" y="165.92" font-size="6.5" text-anchor="end" fill="#333333" stroke="#333333" stroke-width="0.06">1.4</text>
<line x1="338.7" y1="148.6" x2="341.5" y2="148.6" stroke="#231f20" stroke-width="0.9" />
<text x="335.7" y="151.54" font-size="6.5" text-anchor="end" fill="#333333" stroke="#333333" stroke-width="0.06">1.6</text>
<line x1="341.5" y1="220.5" x2="438.6" y2="220.5" stroke="#231f20" stroke-width="1" />
<line x1="341.5" y1="220.5" x2="341.5" y2="222.9" stroke="#231f20" stroke-width="0.9" />
<text x="341.5" y="232.58" font-size="6.5" text-anchor="middle" fill="#333333" stroke="#333333" stroke-width="0.06">0</text>
<line x1="357.65" y1="220.5" x2="357.65" y2="222.9" stroke="#231f20" stroke-width="0.9" />
<text x="357.65" y="232.58" font-size="6.5" text-anchor="middle" fill="#333333" stroke="#333333" stroke-width="0.06">100</text>
<line x1="373.8" y1="220.5" x2="373.8" y2="222.9" stroke="#231f20" stroke-width="0.9" />
<text x="373.8" y="232.58" font-size="6.5" text-anchor="middle" fill="#333333" stroke="#333333" stroke-width="0.06">200</text>
<line x1="389.95" y1="220.5" x2="389.95" y2="222.9" stroke="#231f20" stroke-width="0.9" />
<text x="389.95" y="232.58" font-size="6.5" text-anchor="middle" fill="#333333" stroke="#333333" stroke-width="0.06">300</text>
<line x1="406.1" y1="220.5" x2="406.1" y2="222.9" stroke="#231f20" stroke-width="0.9" />
<text x="406.1" y="232.58" font-size="6.5" text-anchor="middle" fill="#333333" stroke="#333333" stroke-width="0.06">400</text>
<line x1="422.25" y1="220.5" x2="422.25" y2="222.9" stroke="#231f20" stroke-width="0.9" />
<text x="422.25" y="232.58" font-size="6.5" text-anchor="middle" fill="#333333" stroke="#333333" stroke-width="0.06">500</text>
<line x1="438.4" y1="220.5" x2="438.4" y2="222.9" stroke="#231f20" stroke-width="0.9" />
<text x="438.4" y="232.58" font-size="6.5" text-anchor="middle" fill="#333333" stroke="#333333" stroke-width="0.06">600</text>
<path d="M341.5,205.71 L342.15,205.71 L342.79,205.71 L343.44,205.71 L344.08,205.71 L344.73,205.71 L345.38,205.71 L346.02,205.71 L346.67,205.71 L347.31,205.71 L347.96,205.71 L348.61,205.71 L349.25,205.71 L349.9,205.71 L350.54,205.71 L351.19,205.71 L351.84,205.71 L352.48,205.61 L353.13,205.51 L353.77,204.43 L354.42,202.82 L355.07,201.37 L355.71,200 L356.36,198.68 L357,197.4 L357.65,196.16 L358.3,194.94 L358.94,193.74 L359.59,192.57 L360.23,191.41 L360.88,190.28 L361.53,189.15 L362.17,188.04 L362.82,186.95 L363.46,186.15 L364.11,185.58 L364.76,184.94 L365.4,184.41 L366.05,184.02 L366.69,183.78 L367.34,183.67 L367.99,183.64 L368.63,183.66 L369.28,183.83 L369.92,184.06 L370.57,184.35 L371.22,184.63 L371.86,184.9 L372.51,185.17 L373.15,185.43 L373.8,185.69 L374.45,185.93 L375.09,186.17 L375.74,186.41 L376.38,186.64 L377.03,186.86 L377.68,187.08 L378.32,187.29 L378.97,187.5 L379.61,187.7 L380.26,187.89 L380.91,188.08 L381.55,188.27 L382.2,188.45 L382.84,188.63 L383.49,188.8 L384.14,188.97 L384.78,189.13 L385.43,189.29 L386.07,189.44 L386.72,189.59 L387.37,189.74 L388.01,189.88 L388.66,190.02 L389.3,190.16 L389.95,190.29 L390.6,190.42 L391.24,190.54 L391.89,190.67 L392.53,190.78 L393.18,190.9 L393.83,191.01 L394.47,191.12 L395.12,191.23 L395.76,191.33 L396.41,191.44 L397.06,191.54 L397.7,191.63 L398.35,191.73 L398.99,191.82 L399.64,191.91 L400.29,191.99 L400.93,192.08 L401.58,192.16 L402.22,192.24 L402.87,192.32 L403.52,192.4 L404.16,192.47 L404.81,192.54 L405.45,192.61 L406.1,192.68 L406.75,192.75 L407.39,192.81 L408.04,192.88 L408.68,192.94 L409.33,193 L409.98,193.06 L410.62,193.12 L411.27,193.17 L411.91,193.23 L412.56,193.28 L413.21,193.33 L413.85,193.38 L414.5,193.43 L415.14,193.48 L415.79,193.52 L416.44,193.57 L417.08,193.61 L417.73,193.66 L418.37,193.7 L419.02,193.74 L419.67,193.78 L420.31,193.82 L420.96,193.85 L421.6,193.89 L422.25,193.93 L422.9,193.96 L423.54,194 L424.19,194.03 L424.83,194.06 L425.48,194.09 L426.13,194.12 L426.77,194.15 L427.42,194.18 L428.06,194.21 L428.71,194.24 L429.36,194.26 L430,194.29 L430.65,194.32 L431.29,194.34 L431.94,194.36 L432.59,194.39 L433.23,194.41 L433.88,194.43 L434.52,194.45 L435.17,194.48 L435.82,194.5 L436.46,194.52 L437.11,194.54 L437.75,194.56 L438.4,194.57 L438.4,197.14 L437.75,197.13 L437.11,197.11 L436.46,197.1 L435.82,197.09 L435.17,197.08 L434.52,197.06 L433.88,197.05 L433.23,197.04 L432.59,197.02 L431.94,197.01 L431.29,196.99 L430.65,196.98 L430,196.96 L429.36,196.94 L428.71,196.93 L428.06,196.91 L427.42,196.89 L426.77,196.87 L426.13,196.85 L425.48,196.83 L424.83,196.81 L424.19,196.79 L423.54,196.77 L422.9,196.75 L422.25,196.73 L421.6,196.7 L420.96,196.68 L420.31,196.66 L419.67,196.63 L419.02,196.61 L418.37,196.58 L417.73,196.55 L417.08,196.53 L416.44,196.5 L415.79,196.47 L415.14,196.44 L414.5,196.41 L413.85,196.37 L413.21,196.34 L412.56,196.31 L411.91,196.27 L411.27,196.24 L410.62,196.2 L409.98,196.16 L409.33,196.12 L408.68,196.08 L408.04,196.04 L407.39,196 L406.75,195.96 L406.1,195.91 L405.45,195.87 L404.81,195.82 L404.16,195.77 L403.52,195.72 L402.87,195.67 L402.22,195.62 L401.58,195.57 L400.93,195.51 L400.29,195.45 L399.64,195.39 L398.99,195.33 L398.35,195.27 L397.7,195.21 L397.06,195.14 L396.41,195.08 L395.76,195.01 L395.12,194.94 L394.47,194.86 L393.83,194.79 L393.18,194.71 L392.53,194.63 L391.89,194.55 L391.24,194.47 L390.6,194.38 L389.95,194.29 L389.3,194.2 L388.66,194.11 L388.01,194.01 L387.37,193.92 L386.72,193.82 L386.07,193.71 L385.43,193.6 L384.78,193.49 L384.14,193.38 L383.49,193.27 L382.84,193.15 L382.2,193.02 L381.55,192.9 L380.91,192.77 L380.26,192.64 L379.61,192.5 L378.97,192.36 L378.32,192.21 L377.68,192.07 L377.03,191.91 L376.38,191.76 L375.74,191.6 L375.09,191.43 L374.45,191.26 L373.8,191.09 L373.15,190.91 L372.51,190.72 L371.86,190.53 L371.22,190.34 L370.57,190.14 L369.92,189.93 L369.28,189.79 L368.63,189.71 L367.99,189.77 L367.34,189.9 L366.69,190.1 L366.05,190.44 L365.4,190.78 L364.76,191.11 L364.11,191.56 L363.46,191.94 L362.82,192.54 L362.17,193.44 L361.53,194.35 L360.88,195.28 L360.23,196.22 L359.59,197.18 L358.94,198.16 L358.3,199.16 L357.65,200.18 L357,201.23 L356.36,202.32 L355.71,203.44 L355.07,204.61 L354.42,205.87 L353.77,207.29 L353.13,208.17 L352.48,208.07 L351.84,207.97 L351.19,207.97 L350.54,207.97 L349.9,207.97 L349.25,207.97 L348.61,207.97 L347.96,207.97 L347.31,207.97 L346.67,207.97 L346.02,207.97 L345.38,207.97 L344.73,207.97 L344.08,207.97 L343.44,207.97 L342.79,207.97 L342.15,207.97 L341.5,207.97Z" fill="#29a9e1" stroke="none" stroke-width="0.7" fill-opacity="0.55"/>
<line x1="341.5" y1="205.48" x2="341.5" y2="208.2" stroke="#29a9e1" stroke-width="0.45" />
<line x1="340.8" y1="205.48" x2="342.2" y2="205.48" stroke="#29a9e1" stroke-width="0.45" />
<line x1="340.8" y1="208.2" x2="342.2" y2="208.2" stroke="#29a9e1" stroke-width="0.45" />
<line x1="342.79" y1="205.48" x2="342.79" y2="208.2" stroke="#29a9e1" stroke-width="0.45" />
<line x1="342.09" y1="205.48" x2="343.49" y2="205.48" stroke="#29a9e1" stroke-width="0.45" />
<line x1="342.09" y1="208.2" x2="343.49" y2="208.2" stroke="#29a9e1" stroke-width="0.45" />
<line x1="344.08" y1="205.48" x2="344.08" y2="208.2" stroke="#29a9e1" stroke-width="0.45" />
<line x1="343.38" y1="205.48" x2="344.78" y2="205.48" stroke="#29a9e1" stroke-width="0.45" />
<line x1="343.38" y1="208.2" x2="344.78" y2="208.2" stroke="#29a9e1" stroke-width="0.45" />
<line x1="345.38" y1="205.48" x2="345.38" y2="208.2" stroke="#29a9e1" stroke-width="0.45" />
<line x1="344.68" y1="205.48" x2="346.08" y2="205.48" stroke="#29a9e1" stroke-width="0.45" />
<line x1="344.68" y1="208.2" x2="346.08" y2="208.2" stroke="#29a9e1" stroke-width="0.45" />
<line x1="346.67" y1="205.48" x2="346.67" y2="208.2" stroke="#29a9e1" stroke-width="0.45" />
<line x1="345.97" y1="205.48" x2="347.37" y2="205.48" stroke="#29a9e1" stroke-width="0.45" />
<line x1="345.97" y1="208.2" x2="347.37" y2="208.2" stroke="#29a9e1" stroke-width="0.45" />
<line x1="347.96" y1="205.48" x2="347.96" y2="208.2" stroke="#29a9e1" stroke-width="0.45" />
<line x1="347.26" y1="205.48" x2="348.66" y2="205.48" stroke="#29a9e1" stroke-width="0.45" />
<line x1="347.26" y1="208.2" x2="348.66" y2="208.2" stroke="#29a9e1" stroke-width="0.45" />
<line x1="349.25" y1="205.48" x2="349.25" y2="208.2" stroke="#29a9e1" stroke-width="0.45" />
<line x1="348.55" y1="205.48" x2="349.95" y2="205.48" stroke="#29a9e1" stroke-width="0.45" />
<line x1="348.55" y1="208.2" x2="349.95" y2="208.2" stroke="#29a9e1" stroke-width="0.45" />
<line x1="350.54" y1="205.48" x2="350.54" y2="208.2" stroke="#29a9e1" stroke-width="0.45" />
<line x1="349.84" y1="205.48" x2="351.24" y2="205.48" stroke="#29a9e1" stroke-width="0.45" />
<line x1="349.84" y1="208.2" x2="351.24" y2="208.2" stroke="#29a9e1" stroke-width="0.45" />
<line x1="351.84" y1="205.48" x2="351.84" y2="208.2" stroke="#29a9e1" stroke-width="0.45" />
<line x1="351.14" y1="205.48" x2="352.54" y2="205.48" stroke="#29a9e1" stroke-width="0.45" />
<line x1="351.14" y1="208.2" x2="352.54" y2="208.2" stroke="#29a9e1" stroke-width="0.45" />
<line x1="353.13" y1="205.25" x2="353.13" y2="208.43" stroke="#29a9e1" stroke-width="0.45" />
<line x1="352.43" y1="205.25" x2="353.83" y2="205.25" stroke="#29a9e1" stroke-width="0.45" />
<line x1="352.43" y1="208.43" x2="353.83" y2="208.43" stroke="#29a9e1" stroke-width="0.45" />
<line x1="354.42" y1="202.52" x2="354.42" y2="206.18" stroke="#29a9e1" stroke-width="0.45" />
<line x1="353.72" y1="202.52" x2="355.12" y2="202.52" stroke="#29a9e1" stroke-width="0.45" />
<line x1="353.72" y1="206.18" x2="355.12" y2="206.18" stroke="#29a9e1" stroke-width="0.45" />
<line x1="355.71" y1="199.65" x2="355.71" y2="203.78" stroke="#29a9e1" stroke-width="0.45" />
<line x1="355.01" y1="199.65" x2="356.41" y2="199.65" stroke="#29a9e1" stroke-width="0.45" />
<line x1="355.01" y1="203.78" x2="356.41" y2="203.78" stroke="#29a9e1" stroke-width="0.45" />
<line x1="357" y1="197.02" x2="357" y2="201.62" stroke="#29a9e1" stroke-width="0.45" />
<line x1="356.3" y1="197.02" x2="357.7" y2="197.02" stroke="#29a9e1" stroke-width="0.45" />
<line x1="356.3" y1="201.62" x2="357.7" y2="201.62" stroke="#29a9e1" stroke-width="0.45" />
<line x1="358.3" y1="194.52" x2="358.3" y2="199.58" stroke="#29a9e1" stroke-width="0.45" />
<line x1="357.6" y1="194.52" x2="359" y2="194.52" stroke="#29a9e1" stroke-width="0.45" />
<line x1="357.6" y1="199.58" x2="359" y2="199.58" stroke="#29a9e1" stroke-width="0.45" />
<line x1="359.59" y1="192.11" x2="359.59" y2="197.64" stroke="#29a9e1" stroke-width="0.45" />
<line x1="358.89" y1="192.11" x2="360.29" y2="192.11" stroke="#29a9e1" stroke-width="0.45" />
<line x1="358.89" y1="197.64" x2="360.29" y2="197.64" stroke="#29a9e1" stroke-width="0.45" />
<line x1="360.88" y1="189.78" x2="360.88" y2="195.78" stroke="#29a9e1" stroke-width="0.45" />
<line x1="360.18" y1="189.78" x2="361.58" y2="189.78" stroke="#29a9e1" stroke-width="0.45" />
<line x1="360.18" y1="195.78" x2="361.58" y2="195.78" stroke="#29a9e1" stroke-width="0.45" />
<line x1="362.17" y1="187.5" x2="362.17" y2="193.98" stroke="#29a9e1" stroke-width="0.45" />
<line x1="361.47" y1="187.5" x2="362.87" y2="187.5" stroke="#29a9e1" stroke-width="0.45" />
<line x1="361.47" y1="193.98" x2="362.87" y2="193.98" stroke="#29a9e1" stroke-width="0.45" />
<line x1="363.46" y1="185.57" x2="363.46" y2="192.52" stroke="#29a9e1" stroke-width="0.45" />
<line x1="362.76" y1="185.57" x2="364.16" y2="185.57" stroke="#29a9e1" stroke-width="0.45" />
<line x1="362.76" y1="192.52" x2="364.16" y2="192.52" stroke="#29a9e1" stroke-width="0.45" />
<line x1="364.76" y1="184.32" x2="364.76" y2="191.73" stroke="#29a9e1" stroke-width="0.45" />
<line x1="364.06" y1="184.32" x2="365.46" y2="184.32" stroke="#29a9e1" stroke-width="0.45" />
<line x1="364.06" y1="191.73" x2="365.46" y2="191.73" stroke="#29a9e1" stroke-width="0.45" />
<line x1="366.05" y1="183.38" x2="366.05" y2="191.08" stroke="#29a9e1" stroke-width="0.45" />
<line x1="365.35" y1="183.38" x2="366.75" y2="183.38" stroke="#29a9e1" stroke-width="0.45" />
<line x1="365.35" y1="191.08" x2="366.75" y2="191.08" stroke="#29a9e1" stroke-width="0.45" />
<line x1="367.34" y1="183.05" x2="367.34" y2="190.53" stroke="#29a9e1" stroke-width="0.45" />
<line x1="366.64" y1="183.05" x2="368.04" y2="183.05" stroke="#29a9e1" stroke-width="0.45" />
<line x1="366.64" y1="190.53" x2="368.04" y2="190.53" stroke="#29a9e1" stroke-width="0.45" />
<line x1="368.63" y1="183.06" x2="368.63" y2="190.32" stroke="#29a9e1" stroke-width="0.45" />
<line x1="367.93" y1="183.06" x2="369.33" y2="183.06" stroke="#29a9e1" stroke-width="0.45" />
<line x1="367.93" y1="190.32" x2="369.33" y2="190.32" stroke="#29a9e1" stroke-width="0.45" />
<line x1="369.92" y1="183.47" x2="369.92" y2="190.52" stroke="#29a9e1" stroke-width="0.45" />
<line x1="369.22" y1="183.47" x2="370.62" y2="183.47" stroke="#29a9e1" stroke-width="0.45" />
<line x1="369.22" y1="190.52" x2="370.62" y2="190.52" stroke="#29a9e1" stroke-width="0.45" />
<line x1="371.22" y1="184.06" x2="371.22" y2="190.91" stroke="#29a9e1" stroke-width="0.45" />
<line x1="370.52" y1="184.06" x2="371.92" y2="184.06" stroke="#29a9e1" stroke-width="0.45" />
<line x1="370.52" y1="190.91" x2="371.92" y2="190.91" stroke="#29a9e1" stroke-width="0.45" />
<line x1="372.51" y1="184.62" x2="372.51" y2="191.28" stroke="#29a9e1" stroke-width="0.45" />
<line x1="371.81" y1="184.62" x2="373.21" y2="184.62" stroke="#29a9e1" stroke-width="0.45" />
<line x1="371.81" y1="191.28" x2="373.21" y2="191.28" stroke="#29a9e1" stroke-width="0.45" />
<line x1="373.8" y1="185.15" x2="373.8" y2="191.62" stroke="#29a9e1" stroke-width="0.45" />
<line x1="373.1" y1="185.15" x2="374.5" y2="185.15" stroke="#29a9e1" stroke-width="0.45" />
<line x1="373.1" y1="191.62" x2="374.5" y2="191.62" stroke="#29a9e1" stroke-width="0.45" />
<line x1="375.09" y1="185.65" x2="375.09" y2="191.96" stroke="#29a9e1" stroke-width="0.45" />
<line x1="374.39" y1="185.65" x2="375.79" y2="185.65" stroke="#29a9e1" stroke-width="0.45" />
<line x1="374.39" y1="191.96" x2="375.79" y2="191.96" stroke="#29a9e1" stroke-width="0.45" />
<line x1="376.38" y1="186.13" x2="376.38" y2="192.27" stroke="#29a9e1" stroke-width="0.45" />
<line x1="375.68" y1="186.13" x2="377.08" y2="186.13" stroke="#29a9e1" stroke-width="0.45" />
<line x1="375.68" y1="192.27" x2="377.08" y2="192.27" stroke="#29a9e1" stroke-width="0.45" />
<line x1="377.68" y1="186.58" x2="377.68" y2="192.56" stroke="#29a9e1" stroke-width="0.45" />
<line x1="376.98" y1="186.58" x2="378.38" y2="186.58" stroke="#29a9e1" stroke-width="0.45" />
<line x1="376.98" y1="192.56" x2="378.38" y2="192.56" stroke="#29a9e1" stroke-width="0.45" />
<line x1="378.97" y1="187.01" x2="378.97" y2="192.84" stroke="#29a9e1" stroke-width="0.45" />
<line x1="378.27" y1="187.01" x2="379.67" y2="187.01" stroke="#29a9e1" stroke-width="0.45" />
<line x1="378.27" y1="192.84" x2="379.67" y2="192.84" stroke="#29a9e1" stroke-width="0.45" />
<line x1="380.26" y1="187.42" x2="380.26" y2="193.11" stroke="#29a9e1" stroke-width="0.45" />
<line x1="379.56" y1="187.42" x2="380.96" y2="187.42" stroke="#29a9e1" stroke-width="0.45" />
<line x1="379.56" y1="193.11" x2="380.96" y2="193.11" stroke="#29a9e1" stroke-width="0.45" />
<line x1="381.55" y1="187.81" x2="381.55" y2="193.36" stroke="#29a9e1" stroke-width="0.45" />
<line x1="380.85" y1="187.81" x2="382.25" y2="187.81" stroke="#29a9e1" stroke-width="0.45" />
<line x1="380.85" y1="193.36" x2="382.25" y2="193.36" stroke="#29a9e1" stroke-width="0.45" />
<line x1="382.84" y1="188.17" x2="382.84" y2="193.6" stroke="#29a9e1" stroke-width="0.45" />
<line x1="382.14" y1="188.17" x2="383.54" y2="188.17" stroke="#29a9e1" stroke-width="0.45" />
<line x1="382.14" y1="193.6" x2="383.54" y2="193.6" stroke="#29a9e1" stroke-width="0.45" />
<line x1="384.14" y1="188.52" x2="384.14" y2="193.82" stroke="#29a9e1" stroke-width="0.45" />
<line x1="383.44" y1="188.52" x2="384.84" y2="188.52" stroke="#29a9e1" stroke-width="0.45" />
<line x1="383.44" y1="193.82" x2="384.84" y2="193.82" stroke="#29a9e1" stroke-width="0.45" />
<line x1="385.43" y1="188.86" x2="385.43" y2="194.04" stroke="#29a9e1" stroke-width="0.45" />
<line x1="384.73" y1="188.86" x2="386.13" y2="188.86" stroke="#29a9e1" stroke-width="0.45" />
<line x1="384.73" y1="194.04" x2="386.13" y2="194.04" stroke="#29a9e1" stroke-width="0.45" />
<line x1="386.72" y1="189.17" x2="386.72" y2="194.24" stroke="#29a9e1" stroke-width="0.45" />
<line x1="386.02" y1="189.17" x2="387.42" y2="189.17" stroke="#29a9e1" stroke-width="0.45" />
<line x1="386.02" y1="194.24" x2="387.42" y2="194.24" stroke="#29a9e1" stroke-width="0.45" />
<line x1="388.01" y1="189.47" x2="388.01" y2="194.43" stroke="#29a9e1" stroke-width="0.45" />
<line x1="387.31" y1="189.47" x2="388.71" y2="189.47" stroke="#29a9e1" stroke-width="0.45" />
<line x1="387.31" y1="194.43" x2="388.71" y2="194.43" stroke="#29a9e1" stroke-width="0.45" />
<line x1="389.3" y1="189.75" x2="389.3" y2="194.61" stroke="#29a9e1" stroke-width="0.45" />
<line x1="388.6" y1="189.75" x2="390" y2="189.75" stroke="#29a9e1" stroke-width="0.45" />
<line x1="388.6" y1="194.61" x2="390" y2="194.61" stroke="#29a9e1" stroke-width="0.45" />
<line x1="390.6" y1="190.02" x2="390.6" y2="194.78" stroke="#29a9e1" stroke-width="0.45" />
<line x1="389.9" y1="190.02" x2="391.3" y2="190.02" stroke="#29a9e1" stroke-width="0.45" />
<line x1="389.9" y1="194.78" x2="391.3" y2="194.78" stroke="#29a9e1" stroke-width="0.45" />
<line x1="391.89" y1="190.28" x2="391.89" y2="194.94" stroke="#29a9e1" stroke-width="0.45" />
<line x1="391.19" y1="190.28" x2="392.59" y2="190.28" stroke="#29a9e1" stroke-width="0.45" />
<line x1="391.19" y1="194.94" x2="392.59" y2="194.94" stroke="#29a9e1" stroke-width="0.45" />
<line x1="393.18" y1="190.52" x2="393.18" y2="195.09" stroke="#29a9e1" stroke-width="0.45" />
<line x1="392.48" y1="190.52" x2="393.88" y2="190.52" stroke="#29a9e1" stroke-width="0.45" />
<line x1="392.48" y1="195.09" x2="393.88" y2="195.09" stroke="#29a9e1" stroke-width="0.45" />
<line x1="394.47" y1="190.75" x2="394.47" y2="195.24" stroke="#29a9e1" stroke-width="0.45" />
<line x1="393.77" y1="190.75" x2="395.17" y2="190.75" stroke="#29a9e1" stroke-width="0.45" />
<line x1="393.77" y1="195.24" x2="395.17" y2="195.24" stroke="#29a9e1" stroke-width="0.45" />
<line x1="395.76" y1="190.97" x2="395.76" y2="195.38" stroke="#29a9e1" stroke-width="0.45" />
<line x1="395.06" y1="190.97" x2="396.46" y2="190.97" stroke="#29a9e1" stroke-width="0.45" />
<line x1="395.06" y1="195.38" x2="396.46" y2="195.38" stroke="#29a9e1" stroke-width="0.45" />
<line x1="397.06" y1="191.17" x2="397.06" y2="195.5" stroke="#29a9e1" stroke-width="0.45" />
<line x1="396.36" y1="191.17" x2="397.76" y2="191.17" stroke="#29a9e1" stroke-width="0.45" />
<line x1="396.36" y1="195.5" x2="397.76" y2="195.5" stroke="#29a9e1" stroke-width="0.45" />
<line x1="398.35" y1="191.37" x2="398.35" y2="195.63" stroke="#29a9e1" stroke-width="0.45" />
<line x1="397.65" y1="191.37" x2="399.05" y2="191.37" stroke="#29a9e1" stroke-width="0.45" />
<line x1="397.65" y1="195.63" x2="399.05" y2="195.63" stroke="#29a9e1" stroke-width="0.45" />
<line x1="399.64" y1="191.56" x2="399.64" y2="195.74" stroke="#29a9e1" stroke-width="0.45" />
<line x1="398.94" y1="191.56" x2="400.34" y2="191.56" stroke="#29a9e1" stroke-width="0.45" />
<line x1="398.94" y1="195.74" x2="400.34" y2="195.74" stroke="#29a9e1" stroke-width="0.45" />
<line x1="400.93" y1="191.74" x2="400.93" y2="195.85" stroke="#29a9e1" stroke-width="0.45" />
<line x1="400.23" y1="191.74" x2="401.63" y2="191.74" stroke="#29a9e1" stroke-width="0.45" />
<line x1="400.23" y1="195.85" x2="401.63" y2="195.85" stroke="#29a9e1" stroke-width="0.45" />
<line x1="402.22" y1="191.9" x2="402.22" y2="195.96" stroke="#29a9e1" stroke-width="0.45" />
<line x1="401.52" y1="191.9" x2="402.92" y2="191.9" stroke="#29a9e1" stroke-width="0.45" />
<line x1="401.52" y1="195.96" x2="402.92" y2="195.96" stroke="#29a9e1" stroke-width="0.45" />
<line x1="403.52" y1="192.06" x2="403.52" y2="196.06" stroke="#29a9e1" stroke-width="0.45" />
<line x1="402.82" y1="192.06" x2="404.22" y2="192.06" stroke="#29a9e1" stroke-width="0.45" />
<line x1="402.82" y1="196.06" x2="404.22" y2="196.06" stroke="#29a9e1" stroke-width="0.45" />
<line x1="404.81" y1="192.21" x2="404.81" y2="196.15" stroke="#29a9e1" stroke-width="0.45" />
<line x1="404.11" y1="192.21" x2="405.51" y2="192.21" stroke="#29a9e1" stroke-width="0.45" />
<line x1="404.11" y1="196.15" x2="405.51" y2="196.15" stroke="#29a9e1" stroke-width="0.45" />
<line x1="406.1" y1="192.36" x2="406.1" y2="196.24" stroke="#29a9e1" stroke-width="0.45" />
<line x1="405.4" y1="192.36" x2="406.8" y2="192.36" stroke="#29a9e1" stroke-width="0.45" />
<line x1="405.4" y1="196.24" x2="406.8" y2="196.24" stroke="#29a9e1" stroke-width="0.45" />
<line x1="407.39" y1="192.5" x2="407.39" y2="196.32" stroke="#29a9e1" stroke-width="0.45" />
<line x1="406.69" y1="192.5" x2="408.09" y2="192.5" stroke="#29a9e1" stroke-width="0.45" />
<line x1="406.69" y1="196.32" x2="408.09" y2="196.32" stroke="#29a9e1" stroke-width="0.45" />
<line x1="408.68" y1="192.62" x2="408.68" y2="196.4" stroke="#29a9e1" stroke-width="0.45" />
<line x1="407.98" y1="192.62" x2="409.38" y2="192.62" stroke="#29a9e1" stroke-width="0.45" />
<line x1="407.98" y1="196.4" x2="409.38" y2="196.4" stroke="#29a9e1" stroke-width="0.45" />
<line x1="409.98" y1="192.75" x2="409.98" y2="196.47" stroke="#29a9e1" stroke-width="0.45" />
<line x1="409.28" y1="192.75" x2="410.68" y2="192.75" stroke="#29a9e1" stroke-width="0.45" />
<line x1="409.28" y1="196.47" x2="410.68" y2="196.47" stroke="#29a9e1" stroke-width="0.45" />
<line x1="411.27" y1="192.86" x2="411.27" y2="196.54" stroke="#29a9e1" stroke-width="0.45" />
<line x1="410.57" y1="192.86" x2="411.97" y2="192.86" stroke="#29a9e1" stroke-width="0.45" />
<line x1="410.57" y1="196.54" x2="411.97" y2="196.54" stroke="#29a9e1" stroke-width="0.45" />
<line x1="412.56" y1="192.98" x2="412.56" y2="196.61" stroke="#29a9e1" stroke-width="0.45" />
<line x1="411.86" y1="192.98" x2="413.26" y2="192.98" stroke="#29a9e1" stroke-width="0.45" />
<line x1="411.86" y1="196.61" x2="413.26" y2="196.61" stroke="#29a9e1" stroke-width="0.45" />
<line x1="413.85" y1="193.08" x2="413.85" y2="196.67" stroke="#29a9e1" stroke-width="0.45" />
<line x1="413.15" y1="193.08" x2="414.55" y2="193.08" stroke="#29a9e1" stroke-width="0.45" />
<line x1="413.15" y1="196.67" x2="414.55" y2="196.67" stroke="#29a9e1" stroke-width="0.45" />
<line x1="415.14" y1="193.18" x2="415.14" y2="196.73" stroke="#29a9e1" stroke-width="0.45" />
<line x1="414.44" y1="193.18" x2="415.84" y2="193.18" stroke="#29a9e1" stroke-width="0.45" />
<line x1="414.44" y1="196.73" x2="415.84" y2="196.73" stroke="#29a9e1" stroke-width="0.45" />
<line x1="416.44" y1="193.28" x2="416.44" y2="196.79" stroke="#29a9e1" stroke-width="0.45" />
<line x1="415.74" y1="193.28" x2="417.14" y2="193.28" stroke="#29a9e1" stroke-width="0.45" />
<line x1="415.74" y1="196.79" x2="417.14" y2="196.79" stroke="#29a9e1" stroke-width="0.45" />
<line x1="417.73" y1="193.37" x2="417.73" y2="196.84" stroke="#29a9e1" stroke-width="0.45" />
<line x1="417.03" y1="193.37" x2="418.43" y2="193.37" stroke="#29a9e1" stroke-width="0.45" />
<line x1="417.03" y1="196.84" x2="418.43" y2="196.84" stroke="#29a9e1" stroke-width="0.45" />
<line x1="419.02" y1="193.45" x2="419.02" y2="196.89" stroke="#29a9e1" stroke-width="0.45" />
<line x1="418.32" y1="193.45" x2="419.72" y2="193.45" stroke="#29a9e1" stroke-width="0.45" />
<line x1="418.32" y1="196.89" x2="419.72" y2="196.89" stroke="#29a9e1" stroke-width="0.45" />
<line x1="420.31" y1="193.53" x2="420.31" y2="196.94" stroke="#29a9e1" stroke-width="0.45" />
<line x1="419.61" y1="193.53" x2="421.01" y2="193.53" stroke="#29a9e1" stroke-width="0.45" />
<line x1="419.61" y1="196.94" x2="421.01" y2="196.94" stroke="#29a9e1" stroke-width="0.45" />
<line x1="421.6" y1="193.61" x2="421.6" y2="196.99" stroke="#29a9e1" stroke-width="0.45" />
<line x1="420.9" y1="193.61" x2="422.3" y2="193.61" stroke="#29a9e1" stroke-width="0.45" />
<line x1="420.9" y1="196.99" x2="422.3" y2="196.99" stroke="#29a9e1" stroke-width="0.45" />
<line x1="422.9" y1="193.68" x2="422.9" y2="197.03" stroke="#29a9e1" stroke-width="0.45" />
<line x1="422.2" y1="193.68" x2="423.6" y2="193.68" stroke="#29a9e1" stroke-width="0.45" />
<line x1="422.2" y1="197.03" x2="423.6" y2="197.03" stroke="#29a9e1" stroke-width="0.45" />
<line x1="424.19" y1="193.75" x2="424.19" y2="197.07" stroke="#29a9e1" stroke-width="0.45" />
<line x1="423.49" y1="193.75" x2="424.89" y2="193.75" stroke="#29a9e1" stroke-width="0.45" />
<line x1="423.49" y1="197.07" x2="424.89" y2="197.07" stroke="#29a9e1" stroke-width="0.45" />
<line x1="425.48" y1="193.82" x2="425.48" y2="197.11" stroke="#29a9e1" stroke-width="0.45" />
<line x1="424.78" y1="193.82" x2="426.18" y2="193.82" stroke="#29a9e1" stroke-width="0.45" />
<line x1="424.78" y1="197.11" x2="426.18" y2="197.11" stroke="#29a9e1" stroke-width="0.45" />
<line x1="426.77" y1="193.88" x2="426.77" y2="197.14" stroke="#29a9e1" stroke-width="0.45" />
<line x1="426.07" y1="193.88" x2="427.47" y2="193.88" stroke="#29a9e1" stroke-width="0.45" />
<line x1="426.07" y1="197.14" x2="427.47" y2="197.14" stroke="#29a9e1" stroke-width="0.45" />
<line x1="428.06" y1="193.94" x2="428.06" y2="197.18" stroke="#29a9e1" stroke-width="0.45" />
<line x1="427.36" y1="193.94" x2="428.76" y2="193.94" stroke="#29a9e1" stroke-width="0.45" />
<line x1="427.36" y1="197.18" x2="428.76" y2="197.18" stroke="#29a9e1" stroke-width="0.45" />
<line x1="429.36" y1="194" x2="429.36" y2="197.21" stroke="#29a9e1" stroke-width="0.45" />
<line x1="428.66" y1="194" x2="430.06" y2="194" stroke="#29a9e1" stroke-width="0.45" />
<line x1="428.66" y1="197.21" x2="430.06" y2="197.21" stroke="#29a9e1" stroke-width="0.45" />
<line x1="430.65" y1="194.05" x2="430.65" y2="197.24" stroke="#29a9e1" stroke-width="0.45" />
<line x1="429.95" y1="194.05" x2="431.35" y2="194.05" stroke="#29a9e1" stroke-width="0.45" />
<line x1="429.95" y1="197.24" x2="431.35" y2="197.24" stroke="#29a9e1" stroke-width="0.45" />
<line x1="431.94" y1="194.1" x2="431.94" y2="197.27" stroke="#29a9e1" stroke-width="0.45" />
<line x1="431.24" y1="194.1" x2="432.64" y2="194.1" stroke="#29a9e1" stroke-width="0.45" />
<line x1="431.24" y1="197.27" x2="432.64" y2="197.27" stroke="#29a9e1" stroke-width="0.45" />
<line x1="433.23" y1="194.15" x2="433.23" y2="197.3" stroke="#29a9e1" stroke-width="0.45" />
<line x1="432.53" y1="194.15" x2="433.93" y2="194.15" stroke="#29a9e1" stroke-width="0.45" />
<line x1="432.53" y1="197.3" x2="433.93" y2="197.3" stroke="#29a9e1" stroke-width="0.45" />
<line x1="434.52" y1="194.19" x2="434.52" y2="197.32" stroke="#29a9e1" stroke-width="0.45" />
<line x1="433.82" y1="194.19" x2="435.22" y2="194.19" stroke="#29a9e1" stroke-width="0.45" />
<line x1="433.82" y1="197.32" x2="435.22" y2="197.32" stroke="#29a9e1" stroke-width="0.45" />
<line x1="435.82" y1="194.24" x2="435.82" y2="197.35" stroke="#29a9e1" stroke-width="0.45" />
<line x1="435.12" y1="194.24" x2="436.52" y2="194.24" stroke="#29a9e1" stroke-width="0.45" />
<line x1="435.12" y1="197.35" x2="436.52" y2="197.35" stroke="#29a9e1" stroke-width="0.45" />
<line x1="437.11" y1="194.28" x2="437.11" y2="197.37" stroke="#29a9e1" stroke-width="0.45" />
<line x1="436.41" y1="194.28" x2="437.81" y2="194.28" stroke="#29a9e1" stroke-width="0.45" />
<line x1="436.41" y1="197.37" x2="437.81" y2="197.37" stroke="#29a9e1" stroke-width="0.45" />
<line x1="438.4" y1="194.32" x2="438.4" y2="197.39" stroke="#29a9e1" stroke-width="0.45" />
<line x1="437.7" y1="194.32" x2="439.1" y2="194.32" stroke="#29a9e1" stroke-width="0.45" />
<line x1="437.7" y1="197.39" x2="439.1" y2="197.39" stroke="#29a9e1" stroke-width="0.45" />
<polyline points="341.5,206.84 342.15,206.84 342.79,206.84 343.44,206.84 344.08,206.84 344.73,206.84 345.38,206.84 346.02,206.84 346.67,206.84 347.31,206.84 347.96,206.84 348.61,206.84 349.25,206.84 349.9,206.84 350.54,206.84 351.19,206.84 351.84,206.84 352.48,206.84 353.13,206.84 353.77,205.86 354.42,204.35 355.07,202.99 355.71,201.72 356.36,200.5 357,199.32 357.65,198.17 358.3,197.05 358.94,195.95 359.59,194.88 360.23,193.82 360.88,192.78 361.53,191.75 362.17,190.74 362.82,189.74 363.46,189.04 364.11,188.57 364.76,188.03 365.4,187.59 366.05,187.23 366.69,186.94 367.34,186.79 367.99,186.71 368.63,186.69 369.28,186.81 369.92,186.99 370.57,187.24 371.22,187.48 371.86,187.72 372.51,187.95 373.15,188.17 373.8,188.39 374.45,188.6 375.09,188.8 375.74,189 376.38,189.2 377.03,189.39 377.68,189.57 378.32,189.75 378.97,189.93 379.61,190.1 380.26,190.26 380.91,190.43 381.55,190.58 382.2,190.74 382.84,190.89 383.49,191.03 384.14,191.17 384.78,191.31 385.43,191.45 386.07,191.58 386.72,191.7 387.37,191.83 388.01,191.95 388.66,192.07 389.3,192.18 389.95,192.29 390.6,192.4 391.24,192.51 391.89,192.61 392.53,192.71 393.18,192.81 393.83,192.9 394.47,192.99 395.12,193.08 395.76,193.17 396.41,193.26 397.06,193.34 397.7,193.42 398.35,193.5 398.99,193.58 399.64,193.65 400.29,193.72 400.93,193.79 401.58,193.86 402.22,193.93 402.87,194 403.52,194.06 404.16,194.12 404.81,194.18 405.45,194.24 406.1,194.3 406.75,194.35 407.39,194.41 408.04,194.46 408.68,194.51 409.33,194.56 409.98,194.61 410.62,194.66 411.27,194.7 411.91,194.75 412.56,194.79 413.21,194.84 413.85,194.88 414.5,194.92 415.14,194.96 415.79,194.99 416.44,195.03 417.08,195.07 417.73,195.1 418.37,195.14 419.02,195.17 419.67,195.2 420.31,195.24 420.96,195.27 421.6,195.3 422.25,195.33 422.9,195.36 423.54,195.38 424.19,195.41 424.83,195.44 425.48,195.46 426.13,195.49 426.77,195.51 427.42,195.54 428.06,195.56 428.71,195.58 429.36,195.6 430,195.62 430.65,195.65 431.29,195.67 431.94,195.69 432.59,195.7 433.23,195.72 433.88,195.74 434.52,195.76 435.17,195.78 435.82,195.79 436.46,195.81 437.11,195.83 437.75,195.84 438.4,195.86" fill="none" stroke="#29a9e1" stroke-width="0.8" stroke-linejoin="round" />
<path d="M341.5,201.5 L342.15,201.5 L342.79,201.5 L343.44,201.5 L344.08,201.5 L344.73,201.5 L345.38,201.5 L346.02,201.5 L346.67,201.5 L347.31,201.5 L347.96,201.5 L348.61,201.5 L349.25,201.5 L349.9,201.5 L350.54,201.5 L351.19,201.5 L351.84,201.5 L352.48,201.38 L353.13,201.26 L353.77,198.94 L354.42,195.41 L355.07,192.25 L355.71,189.26 L356.36,186.4 L357,183.62 L357.65,180.92 L358.3,178.28 L358.94,175.69 L359.59,173.15 L360.23,170.65 L360.88,168.19 L361.53,165.76 L362.17,163.37 L362.82,161 L363.46,159.36 L364.11,158.26 L364.76,156.99 L365.4,155.99 L366.05,155.25 L366.69,154.76 L367.34,154.61 L367.99,154.63 L368.63,154.79 L369.28,155.29 L369.92,155.93 L370.57,156.73 L371.22,157.5 L371.86,158.26 L372.51,158.99 L373.15,159.71 L373.8,160.4 L374.45,161.08 L375.09,161.74 L375.74,162.38 L376.38,163.01 L377.03,163.62 L377.68,164.22 L378.32,164.79 L378.97,165.36 L379.61,165.91 L380.26,166.44 L380.91,166.96 L381.55,167.47 L382.2,167.96 L382.84,168.44 L383.49,168.91 L384.14,169.37 L384.78,169.81 L385.43,170.24 L386.07,170.67 L386.72,171.08 L387.37,171.48 L388.01,171.86 L388.66,172.24 L389.3,172.61 L389.95,172.97 L390.6,173.32 L391.24,173.66 L391.89,174 L392.53,174.32 L393.18,174.63 L393.83,174.94 L394.47,175.24 L395.12,175.53 L395.76,175.81 L396.41,176.09 L397.06,176.36 L397.7,176.62 L398.35,176.88 L398.99,177.12 L399.64,177.37 L400.29,177.6 L400.93,177.83 L401.58,178.05 L402.22,178.27 L402.87,178.48 L403.52,178.69 L404.16,178.89 L404.81,179.09 L405.45,179.28 L406.1,179.46 L406.75,179.64 L407.39,179.82 L408.04,179.99 L408.68,180.16 L409.33,180.32 L409.98,180.48 L410.62,180.63 L411.27,180.78 L411.91,180.93 L412.56,181.07 L413.21,181.21 L413.85,181.35 L414.5,181.48 L415.14,181.61 L415.79,181.73 L416.44,181.85 L417.08,181.97 L417.73,182.09 L418.37,182.2 L419.02,182.31 L419.67,182.41 L420.31,182.52 L420.96,182.62 L421.6,182.72 L422.25,182.81 L422.9,182.91 L423.54,183 L424.19,183.09 L424.83,183.17 L425.48,183.26 L426.13,183.34 L426.77,183.42 L427.42,183.5 L428.06,183.57 L428.71,183.65 L429.36,183.72 L430,183.79 L430.65,183.86 L431.29,183.92 L431.94,183.99 L432.59,184.05 L433.23,184.11 L433.88,184.17 L434.52,184.23 L435.17,184.28 L435.82,184.34 L436.46,184.39 L437.11,184.45 L437.75,184.5 L438.4,184.55 L438.4,187.68 L437.75,187.64 L437.11,187.6 L436.46,187.55 L435.82,187.51 L435.17,187.46 L434.52,187.42 L433.88,187.37 L433.23,187.32 L432.59,187.27 L431.94,187.22 L431.29,187.16 L430.65,187.11 L430,187.05 L429.36,186.99 L428.71,186.93 L428.06,186.87 L427.42,186.81 L426.77,186.74 L426.13,186.68 L425.48,186.61 L424.83,186.54 L424.19,186.47 L423.54,186.39 L422.9,186.32 L422.25,186.24 L421.6,186.16 L420.96,186.08 L420.31,185.99 L419.67,185.9 L419.02,185.81 L418.37,185.72 L417.73,185.63 L417.08,185.53 L416.44,185.43 L415.79,185.33 L415.14,185.22 L414.5,185.12 L413.85,185 L413.21,184.89 L412.56,184.77 L411.91,184.65 L411.27,184.53 L410.62,184.4 L409.98,184.27 L409.33,184.14 L408.68,184 L408.04,183.86 L407.39,183.71 L406.75,183.57 L406.1,183.41 L405.45,183.25 L404.81,183.09 L404.16,182.93 L403.52,182.76 L402.87,182.58 L402.22,182.4 L401.58,182.21 L400.93,182.02 L400.29,181.83 L399.64,181.63 L398.99,181.42 L398.35,181.21 L397.7,180.99 L397.06,180.77 L396.41,180.54 L395.76,180.3 L395.12,180.06 L394.47,179.81 L393.83,179.56 L393.18,179.29 L392.53,179.02 L391.89,178.75 L391.24,178.46 L390.6,178.17 L389.95,177.87 L389.3,177.56 L388.66,177.24 L388.01,176.92 L387.37,176.58 L386.72,176.24 L386.07,175.88 L385.43,175.52 L384.78,175.15 L384.14,174.76 L383.49,174.37 L382.84,173.97 L382.2,173.55 L381.55,173.13 L380.91,172.69 L380.26,172.24 L379.61,171.77 L378.97,171.3 L378.32,170.81 L377.68,170.31 L377.03,169.79 L376.38,169.27 L375.74,168.72 L375.09,168.16 L374.45,167.59 L373.8,167 L373.15,166.4 L372.51,165.77 L371.86,165.14 L371.22,164.48 L370.57,163.8 L369.92,163.11 L369.28,162.57 L368.63,162.19 L367.99,162.13 L367.34,162.23 L366.69,162.5 L366.05,163.1 L365.4,163.78 L364.76,164.54 L364.11,165.57 L363.46,166.43 L362.82,167.83 L362.17,169.96 L361.53,172.12 L360.88,174.31 L360.23,176.53 L359.59,178.79 L358.94,181.09 L358.3,183.44 L357.65,185.84 L357,188.31 L356.36,190.84 L355.71,193.46 L355.07,196.21 L354.42,199.14 L353.77,202.42 L353.13,204.51 L352.48,204.39 L351.84,204.27 L351.19,204.27 L350.54,204.27 L349.9,204.27 L349.25,204.27 L348.61,204.27 L347.96,204.27 L347.31,204.27 L346.67,204.27 L346.02,204.27 L345.38,204.27 L344.73,204.27 L344.08,204.27 L343.44,204.27 L342.79,204.27 L342.15,204.27 L341.5,204.27Z" fill="#3c3d52" stroke="none" stroke-width="0.7" fill-opacity="0.5"/>
<line x1="341.5" y1="201.22" x2="341.5" y2="204.55" stroke="#3c3d52" stroke-width="0.45" />
<line x1="340.8" y1="201.22" x2="342.2" y2="201.22" stroke="#3c3d52" stroke-width="0.45" />
<line x1="340.8" y1="204.55" x2="342.2" y2="204.55" stroke="#3c3d52" stroke-width="0.45" />
<line x1="342.79" y1="201.22" x2="342.79" y2="204.55" stroke="#3c3d52" stroke-width="0.45" />
<line x1="342.09" y1="201.22" x2="343.49" y2="201.22" stroke="#3c3d52" stroke-width="0.45" />
<line x1="342.09" y1="204.55" x2="343.49" y2="204.55" stroke="#3c3d52" stroke-width="0.45" />
<line x1="344.08" y1="201.22" x2="344.08" y2="204.55" stroke="#3c3d52" stroke-width="0.45" />
<line x1="343.38" y1="201.22" x2="344.78" y2="201.22" stroke="#3c3d52" stroke-width="0.45" />
<line x1="343.38" y1="204.55" x2="344.78" y2="204.55" stroke="#3c3d52" stroke-width="0.45" />
<line x1="345.38" y1="201.22" x2="345.38" y2="204.55" stroke="#3c3d52" stroke-width="0.45" />
<line x1="344.68" y1="201.22" x2="346.08" y2="201.22" stroke="#3c3d52" stroke-width="0.45" />
<line x1="344.68" y1="204.55" x2="346.08" y2="204.55" stroke="#3c3d52" stroke-width="0.45" />
<line x1="346.67" y1="201.22" x2="346.67" y2="204.55" stroke="#3c3d52" stroke-width="0.45" />
<line x1="345.97" y1="201.22" x2="347.37" y2="201.22" stroke="#3c3d52" stroke-width="0.45" />
<line x1="345.97" y1="204.55" x2="347.37" y2="204.55" stroke="#3c3d52" stroke-width="0.45" />
<line x1="347.96" y1="201.22" x2="347.96" y2="204.55" stroke="#3c3d52" stroke-width="0.45" />
<line x1="347.26" y1="201.22" x2="348.66" y2="201.22" stroke="#3c3d52" stroke-width="0.45" />
<line x1="347.26" y1="204.55" x2="348.66" y2="204.55" stroke="#3c3d52" stroke-width="0.45" />
<line x1="349.25" y1="201.22" x2="349.25" y2="204.55" stroke="#3c3d52" stroke-width="0.45" />
<line x1="348.55" y1="201.22" x2="349.95" y2="201.22" stroke="#3c3d52" stroke-width="0.45" />
<line x1="348.55" y1="204.55" x2="349.95" y2="204.55" stroke="#3c3d52" stroke-width="0.45" />
<line x1="350.54" y1="201.22" x2="350.54" y2="204.55" stroke="#3c3d52" stroke-width="0.45" />
<line x1="349.84" y1="201.22" x2="351.24" y2="201.22" stroke="#3c3d52" stroke-width="0.45" />
<line x1="349.84" y1="204.55" x2="351.24" y2="204.55" stroke="#3c3d52" stroke-width="0.45" />
<line x1="351.84" y1="201.22" x2="351.84" y2="204.55" stroke="#3c3d52" stroke-width="0.45" />
<line x1="351.14" y1="201.22" x2="352.54" y2="201.22" stroke="#3c3d52" stroke-width="0.45" />
<line x1="351.14" y1="204.55" x2="352.54" y2="204.55" stroke="#3c3d52" stroke-width="0.45" />
<line x1="353.13" y1="200.94" x2="353.13" y2="204.83" stroke="#3c3d52" stroke-width="0.45" />
<line x1="352.43" y1="200.94" x2="353.83" y2="200.94" stroke="#3c3d52" stroke-width="0.45" />
<line x1="352.43" y1="204.83" x2="353.83" y2="204.83" stroke="#3c3d52" stroke-width="0.45" />
<line x1="354.42" y1="195.04" x2="354.42" y2="199.51" stroke="#3c3d52" stroke-width="0.45" />
<line x1="353.72" y1="195.04" x2="355.12" y2="195.04" stroke="#3c3d52" stroke-width="0.45" />
<line x1="353.72" y1="199.51" x2="355.12" y2="199.51" stroke="#3c3d52" stroke-width="0.45" />
<line x1="355.71" y1="188.84" x2="355.71" y2="193.88" stroke="#3c3d52" stroke-width="0.45" />
<line x1="355.01" y1="188.84" x2="356.41" y2="188.84" stroke="#3c3d52" stroke-width="0.45" />
<line x1="355.01" y1="193.88" x2="356.41" y2="193.88" stroke="#3c3d52" stroke-width="0.45" />
<line x1="357" y1="183.16" x2="357" y2="188.77" stroke="#3c3d52" stroke-width="0.45" />
<line x1="356.3" y1="183.16" x2="357.7" y2="183.16" stroke="#3c3d52" stroke-width="0.45" />
<line x1="356.3" y1="188.77" x2="357.7" y2="188.77" stroke="#3c3d52" stroke-width="0.45" />
<line x1="358.3" y1="177.77" x2="358.3" y2="183.96" stroke="#3c3d52" stroke-width="0.45" />
<line x1="357.6" y1="177.77" x2="359" y2="177.77" stroke="#3c3d52" stroke-width="0.45" />
<line x1="357.6" y1="183.96" x2="359" y2="183.96" stroke="#3c3d52" stroke-width="0.45" />
<line x1="359.59" y1="172.58" x2="359.59" y2="179.35" stroke="#3c3d52" stroke-width="0.45" />
<line x1="358.89" y1="172.58" x2="360.29" y2="172.58" stroke="#3c3d52" stroke-width="0.45" />
<line x1="358.89" y1="179.35" x2="360.29" y2="179.35" stroke="#3c3d52" stroke-width="0.45" />
<line x1="360.88" y1="167.58" x2="360.88" y2="174.92" stroke="#3c3d52" stroke-width="0.45" />
<line x1="360.18" y1="167.58" x2="361.58" y2="167.58" stroke="#3c3d52" stroke-width="0.45" />
<line x1="360.18" y1="174.92" x2="361.58" y2="174.92" stroke="#3c3d52" stroke-width="0.45" />
<line x1="362.17" y1="162.71" x2="362.17" y2="170.62" stroke="#3c3d52" stroke-width="0.45" />
<line x1="361.47" y1="162.71" x2="362.87" y2="162.71" stroke="#3c3d52" stroke-width="0.45" />
<line x1="361.47" y1="170.62" x2="362.87" y2="170.62" stroke="#3c3d52" stroke-width="0.45" />
<line x1="363.46" y1="158.65" x2="363.46" y2="167.14" stroke="#3c3d52" stroke-width="0.45" />
<line x1="362.76" y1="158.65" x2="364.16" y2="158.65" stroke="#3c3d52" stroke-width="0.45" />
<line x1="362.76" y1="167.14" x2="364.16" y2="167.14" stroke="#3c3d52" stroke-width="0.45" />
<line x1="364.76" y1="156.24" x2="364.76" y2="165.3" stroke="#3c3d52" stroke-width="0.45" />
<line x1="364.06" y1="156.24" x2="365.46" y2="156.24" stroke="#3c3d52" stroke-width="0.45" />
<line x1="364.06" y1="165.3" x2="365.46" y2="165.3" stroke="#3c3d52" stroke-width="0.45" />
<line x1="366.05" y1="154.46" x2="366.05" y2="163.88" stroke="#3c3d52" stroke-width="0.45" />
<line x1="365.35" y1="154.46" x2="366.75" y2="154.46" stroke="#3c3d52" stroke-width="0.45" />
<line x1="365.35" y1="163.88" x2="366.75" y2="163.88" stroke="#3c3d52" stroke-width="0.45" />
<line x1="367.34" y1="153.85" x2="367.34" y2="162.99" stroke="#3c3d52" stroke-width="0.45" />
<line x1="366.64" y1="153.85" x2="368.04" y2="153.85" stroke="#3c3d52" stroke-width="0.45" />
<line x1="366.64" y1="162.99" x2="368.04" y2="162.99" stroke="#3c3d52" stroke-width="0.45" />
<line x1="368.63" y1="154.05" x2="368.63" y2="162.93" stroke="#3c3d52" stroke-width="0.45" />
<line x1="367.93" y1="154.05" x2="369.33" y2="154.05" stroke="#3c3d52" stroke-width="0.45" />
<line x1="367.93" y1="162.93" x2="369.33" y2="162.93" stroke="#3c3d52" stroke-width="0.45" />
<line x1="369.92" y1="155.21" x2="369.92" y2="163.83" stroke="#3c3d52" stroke-width="0.45" />
<line x1="369.22" y1="155.21" x2="370.62" y2="155.21" stroke="#3c3d52" stroke-width="0.45" />
<line x1="369.22" y1="163.83" x2="370.62" y2="163.83" stroke="#3c3d52" stroke-width="0.45" />
<line x1="371.22" y1="156.8" x2="371.22" y2="165.18" stroke="#3c3d52" stroke-width="0.45" />
<line x1="370.52" y1="156.8" x2="371.92" y2="156.8" stroke="#3c3d52" stroke-width="0.45" />
<line x1="370.52" y1="165.18" x2="371.92" y2="165.18" stroke="#3c3d52" stroke-width="0.45" />
<line x1="372.51" y1="158.31" x2="372.51" y2="166.45" stroke="#3c3d52" stroke-width="0.45" />
<line x1="371.81" y1="158.31" x2="373.21" y2="158.31" stroke="#3c3d52" stroke-width="0.45" />
<line x1="371.81" y1="166.45" x2="373.21" y2="166.45" stroke="#3c3d52" stroke-width="0.45" />
<line x1="373.8" y1="159.74" x2="373.8" y2="167.66" stroke="#3c3d52" stroke-width="0.45" />
<line x1="373.1" y1="159.74" x2="374.5" y2="159.74" stroke="#3c3d52" stroke-width="0.45" />
<line x1="373.1" y1="167.66" x2="374.5" y2="167.66" stroke="#3c3d52" stroke-width="0.45" />
<line x1="375.09" y1="161.1" x2="375.09" y2="168.81" stroke="#3c3d52" stroke-width="0.45" />
<line x1="374.39" y1="161.1" x2="375.79" y2="161.1" stroke="#3c3d52" stroke-width="0.45" />
<line x1="374.39" y1="168.81" x2="375.79" y2="168.81" stroke="#3c3d52" stroke-width="0.45" />
<line x1="376.38" y1="162.39" x2="376.38" y2="169.89" stroke="#3c3d52" stroke-width="0.45" />
<line x1="375.68" y1="162.39" x2="377.08" y2="162.39" stroke="#3c3d52" stroke-width="0.45" />
<line x1="375.68" y1="169.89" x2="377.08" y2="169.89" stroke="#3c3d52" stroke-width="0.45" />
<line x1="377.68" y1="163.61" x2="377.68" y2="170.92" stroke="#3c3d52" stroke-width="0.45" />
<line x1="376.98" y1="163.61" x2="378.38" y2="163.61" stroke="#3c3d52" stroke-width="0.45" />
<line x1="376.98" y1="170.92" x2="378.38" y2="170.92" stroke="#3c3d52" stroke-width="0.45" />
<line x1="378.97" y1="164.76" x2="378.97" y2="171.89" stroke="#3c3d52" stroke-width="0.45" />
<line x1="378.27" y1="164.76" x2="379.67" y2="164.76" stroke="#3c3d52" stroke-width="0.45" />
<line x1="378.27" y1="171.89" x2="379.67" y2="171.89" stroke="#3c3d52" stroke-width="0.45" />
<line x1="380.26" y1="165.86" x2="380.26" y2="172.82" stroke="#3c3d52" stroke-width="0.45" />
<line x1="379.56" y1="165.86" x2="380.96" y2="165.86" stroke="#3c3d52" stroke-width="0.45" />
<line x1="379.56" y1="172.82" x2="380.96" y2="172.82" stroke="#3c3d52" stroke-width="0.45" />
<line x1="381.55" y1="166.9" x2="381.55" y2="173.69" stroke="#3c3d52" stroke-width="0.45" />
<line x1="380.85" y1="166.9" x2="382.25" y2="166.9" stroke="#3c3d52" stroke-width="0.45" />
<line x1="380.85" y1="173.69" x2="382.25" y2="173.69" stroke="#3c3d52" stroke-width="0.45" />
<line x1="382.84" y1="167.89" x2="382.84" y2="174.52" stroke="#3c3d52" stroke-width="0.45" />
<line x1="382.14" y1="167.89" x2="383.54" y2="167.89" stroke="#3c3d52" stroke-width="0.45" />
<line x1="382.14" y1="174.52" x2="383.54" y2="174.52" stroke="#3c3d52" stroke-width="0.45" />
<line x1="384.14" y1="168.83" x2="384.14" y2="175.3" stroke="#3c3d52" stroke-width="0.45" />
<line x1="383.44" y1="168.83" x2="384.84" y2="168.83" stroke="#3c3d52" stroke-width="0.45" />
<line x1="383.44" y1="175.3" x2="384.84" y2="175.3" stroke="#3c3d52" stroke-width="0.45" />
<line x1="385.43" y1="169.72" x2="385.43" y2="176.05" stroke="#3c3d52" stroke-width="0.45" />
<line x1="384.73" y1="169.72" x2="386.13" y2="169.72" stroke="#3c3d52" stroke-width="0.45" />
<line x1="384.73" y1="176.05" x2="386.13" y2="176.05" stroke="#3c3d52" stroke-width="0.45" />
<line x1="386.72" y1="170.56" x2="386.72" y2="176.75" stroke="#3c3d52" stroke-width="0.45" />
<line x1="386.02" y1="170.56" x2="387.42" y2="170.56" stroke="#3c3d52" stroke-width="0.45" />
<line x1="386.02" y1="176.75" x2="387.42" y2="176.75" stroke="#3c3d52" stroke-width="0.45" />
<line x1="388.01" y1="171.36" x2="388.01" y2="177.42" stroke="#3c3d52" stroke-width="0.45" />
<line x1="387.31" y1="171.36" x2="388.71" y2="171.36" stroke="#3c3d52" stroke-width="0.45" />
<line x1="387.31" y1="177.42" x2="388.71" y2="177.42" stroke="#3c3d52" stroke-width="0.45" />
<line x1="389.3" y1="172.12" x2="389.3" y2="178.05" stroke="#3c3d52" stroke-width="0.45" />
<line x1="388.6" y1="172.12" x2="390" y2="172.12" stroke="#3c3d52" stroke-width="0.45" />
<line x1="388.6" y1="178.05" x2="390" y2="178.05" stroke="#3c3d52" stroke-width="0.45" />
<line x1="390.6" y1="172.84" x2="390.6" y2="178.65" stroke="#3c3d52" stroke-width="0.45" />
<line x1="389.9" y1="172.84" x2="391.3" y2="172.84" stroke="#3c3d52" stroke-width="0.45" />
<line x1="389.9" y1="178.65" x2="391.3" y2="178.65" stroke="#3c3d52" stroke-width="0.45" />
<line x1="391.89" y1="173.52" x2="391.89" y2="179.22" stroke="#3c3d52" stroke-width="0.45" />
<line x1="391.19" y1="173.52" x2="392.59" y2="173.52" stroke="#3c3d52" stroke-width="0.45" />
<line x1="391.19" y1="179.22" x2="392.59" y2="179.22" stroke="#3c3d52" stroke-width="0.45" />
<line x1="393.18" y1="174.17" x2="393.18" y2="179.76" stroke="#3c3d52" stroke-width="0.45" />
<line x1="392.48" y1="174.17" x2="393.88" y2="174.17" stroke="#3c3d52" stroke-width="0.45" />
<line x1="392.48" y1="179.76" x2="393.88" y2="179.76" stroke="#3c3d52" stroke-width="0.45" />
<line x1="394.47" y1="174.78" x2="394.47" y2="180.27" stroke="#3c3d52" stroke-width="0.45" />
<line x1="393.77" y1="174.78" x2="395.17" y2="174.78" stroke="#3c3d52" stroke-width="0.45" />
<line x1="393.77" y1="180.27" x2="395.17" y2="180.27" stroke="#3c3d52" stroke-width="0.45" />
<line x1="395.76" y1="175.36" x2="395.76" y2="180.75" stroke="#3c3d52" stroke-width="0.45" />
<line x1="395.06" y1="175.36" x2="396.46" y2="175.36" stroke="#3c3d52" stroke-width="0.45" />
<line x1="395.06" y1="180.75" x2="396.46" y2="180.75" stroke="#3c3d52" stroke-width="0.45" />
<line x1="397.06" y1="175.92" x2="397.06" y2="181.21" stroke="#3c3d52" stroke-width="0.45" />
<line x1="396.36" y1="175.92" x2="397.76" y2="175.92" stroke="#3c3d52" stroke-width="0.45" />
<line x1="396.36" y1="181.21" x2="397.76" y2="181.21" stroke="#3c3d52" stroke-width="0.45" />
<line x1="398.35" y1="176.44" x2="398.35" y2="181.64" stroke="#3c3d52" stroke-width="0.45" />
<line x1="397.65" y1="176.44" x2="399.05" y2="176.44" stroke="#3c3d52" stroke-width="0.45" />
<line x1="397.65" y1="181.64" x2="399.05" y2="181.64" stroke="#3c3d52" stroke-width="0.45" />
<line x1="399.64" y1="176.94" x2="399.64" y2="182.05" stroke="#3c3d52" stroke-width="0.45" />
<line x1="398.94" y1="176.94" x2="400.34" y2="176.94" stroke="#3c3d52" stroke-width="0.45" />
<line x1="398.94" y1="182.05" x2="400.34" y2="182.05" stroke="#3c3d52" stroke-width="0.45" />
<line x1="400.93" y1="177.41" x2="400.93" y2="182.44" stroke="#3c3d52" stroke-width="0.45" />
<line x1="400.23" y1="177.41" x2="401.63" y2="177.41" stroke="#3c3d52" stroke-width="0.45" />
<line x1="400.23" y1="182.44" x2="401.63" y2="182.44" stroke="#3c3d52" stroke-width="0.45" />
<line x1="402.22" y1="177.86" x2="402.22" y2="182.81" stroke="#3c3d52" stroke-width="0.45" />
<line x1="401.52" y1="177.86" x2="402.92" y2="177.86" stroke="#3c3d52" stroke-width="0.45" />
<line x1="401.52" y1="182.81" x2="402.92" y2="182.81" stroke="#3c3d52" stroke-width="0.45" />
<line x1="403.52" y1="178.28" x2="403.52" y2="183.16" stroke="#3c3d52" stroke-width="0.45" />
<line x1="402.82" y1="178.28" x2="404.22" y2="178.28" stroke="#3c3d52" stroke-width="0.45" />
<line x1="402.82" y1="183.16" x2="404.22" y2="183.16" stroke="#3c3d52" stroke-width="0.45" />
<line x1="404.81" y1="178.69" x2="404.81" y2="183.49" stroke="#3c3d52" stroke-width="0.45" />
<line x1="404.11" y1="178.69" x2="405.51" y2="178.69" stroke="#3c3d52" stroke-width="0.45" />
<line x1="404.11" y1="183.49" x2="405.51" y2="183.49" stroke="#3c3d52" stroke-width="0.45" />
<line x1="406.1" y1="179.07" x2="406.1" y2="183.81" stroke="#3c3d52" stroke-width="0.45" />
<line x1="405.4" y1="179.07" x2="406.8" y2="179.07" stroke="#3c3d52" stroke-width="0.45" />
<line x1="405.4" y1="183.81" x2="406.8" y2="183.81" stroke="#3c3d52" stroke-width="0.45" />
<line x1="407.39" y1="179.43" x2="407.39" y2="184.1" stroke="#3c3d52" stroke-width="0.45" />
<line x1="406.69" y1="179.43" x2="408.09" y2="179.43" stroke="#3c3d52" stroke-width="0.45" />
<line x1="406.69" y1="184.1" x2="408.09" y2="184.1" stroke="#3c3d52" stroke-width="0.45" />
<line x1="408.68" y1="179.77" x2="408.68" y2="184.39" stroke="#3c3d52" stroke-width="0.45" />
<line x1="407.98" y1="179.77" x2="409.38" y2="179.77" stroke="#3c3d52" stroke-width="0.45" />
<line x1="407.98" y1="184.39" x2="409.38" y2="184.39" stroke="#3c3d52" stroke-width="0.45" />
<line x1="409.98" y1="180.1" x2="409.98" y2="184.65" stroke="#3c3d52" stroke-width="0.45" />
<line x1="409.28" y1="180.1" x2="410.68" y2="180.1" stroke="#3c3d52" stroke-width="0.45" />
<line x1="409.28" y1="184.65" x2="410.68" y2="184.65" stroke="#3c3d52" stroke-width="0.45" />
<line x1="411.27" y1="180.41" x2="411.27" y2="184.9" stroke="#3c3d52" stroke-width="0.45" />
<line x1="410.57" y1="180.41" x2="411.97" y2="180.41" stroke="#3c3d52" stroke-width="0.45" />
<line x1="410.57" y1="184.9" x2="411.97" y2="184.9" stroke="#3c3d52" stroke-width="0.45" />
<line x1="412.56" y1="180.7" x2="412.56" y2="185.14" stroke="#3c3d52" stroke-width="0.45" />
<line x1="411.86" y1="180.7" x2="413.26" y2="180.7" stroke="#3c3d52" stroke-width="0.45" />
<line x1="411.86" y1="185.14" x2="413.26" y2="185.14" stroke="#3c3d52" stroke-width="0.45" />
<line x1="413.85" y1="180.98" x2="413.85" y2="185.37" stroke="#3c3d52" stroke-width="0.45" />
<line x1="413.15" y1="180.98" x2="414.55" y2="180.98" stroke="#3c3d52" stroke-width="0.45" />
<line x1="413.15" y1="185.37" x2="414.55" y2="185.37" stroke="#3c3d52" stroke-width="0.45" />
<line x1="415.14" y1="181.24" x2="415.14" y2="185.59" stroke="#3c3d52" stroke-width="0.45" />
<line x1="414.44" y1="181.24" x2="415.84" y2="181.24" stroke="#3c3d52" stroke-width="0.45" />
<line x1="414.44" y1="185.59" x2="415.84" y2="185.59" stroke="#3c3d52" stroke-width="0.45" />
<line x1="416.44" y1="181.49" x2="416.44" y2="185.79" stroke="#3c3d52" stroke-width="0.45" />
<line x1="415.74" y1="181.49" x2="417.14" y2="181.49" stroke="#3c3d52" stroke-width="0.45" />
<line x1="415.74" y1="185.79" x2="417.14" y2="185.79" stroke="#3c3d52" stroke-width="0.45" />
<line x1="417.73" y1="181.73" x2="417.73" y2="185.98" stroke="#3c3d52" stroke-width="0.45" />
<line x1="417.03" y1="181.73" x2="418.43" y2="181.73" stroke="#3c3d52" stroke-width="0.45" />
<line x1="417.03" y1="185.98" x2="418.43" y2="185.98" stroke="#3c3d52" stroke-width="0.45" />
<line x1="419.02" y1="181.96" x2="419.02" y2="186.16" stroke="#3c3d52" stroke-width="0.45" />
<line x1="418.32" y1="181.96" x2="419.72" y2="181.96" stroke="#3c3d52" stroke-width="0.45" />
<line x1="418.32" y1="186.16" x2="419.72" y2="186.16" stroke="#3c3d52" stroke-width="0.45" />
<line x1="420.31" y1="182.17" x2="420.31" y2="186.34" stroke="#3c3d52" stroke-width="0.45" />
<line x1="419.61" y1="182.17" x2="421.01" y2="182.17" stroke="#3c3d52" stroke-width="0.45" />
<line x1="419.61" y1="186.34" x2="421.01" y2="186.34" stroke="#3c3d52" stroke-width="0.45" />
<line x1="421.6" y1="182.37" x2="421.6" y2="186.5" stroke="#3c3d52" stroke-width="0.45" />
<line x1="420.9" y1="182.37" x2="422.3" y2="182.37" stroke="#3c3d52" stroke-width="0.45" />
<line x1="420.9" y1="186.5" x2="422.3" y2="186.5" stroke="#3c3d52" stroke-width="0.45" />
<line x1="422.9" y1="182.57" x2="422.9" y2="186.66" stroke="#3c3d52" stroke-width="0.45" />
<line x1="422.2" y1="182.57" x2="423.6" y2="182.57" stroke="#3c3d52" stroke-width="0.45" />
<line x1="422.2" y1="186.66" x2="423.6" y2="186.66" stroke="#3c3d52" stroke-width="0.45" />
<line x1="424.19" y1="182.75" x2="424.19" y2="186.8" stroke="#3c3d52" stroke-width="0.45" />
<line x1="423.49" y1="182.75" x2="424.89" y2="182.75" stroke="#3c3d52" stroke-width="0.45" />
<line x1="423.49" y1="186.8" x2="424.89" y2="186.8" stroke="#3c3d52" stroke-width="0.45" />
<line x1="425.48" y1="182.92" x2="425.48" y2="186.94" stroke="#3c3d52" stroke-width="0.45" />
<line x1="424.78" y1="182.92" x2="426.18" y2="182.92" stroke="#3c3d52" stroke-width="0.45" />
<line x1="424.78" y1="186.94" x2="426.18" y2="186.94" stroke="#3c3d52" stroke-width="0.45" />
<line x1="426.77" y1="183.09" x2="426.77" y2="187.08" stroke="#3c3d52" stroke-width="0.45" />
<line x1="426.07" y1="183.09" x2="427.47" y2="183.09" stroke="#3c3d52" stroke-width="0.45" />
<line x1="426.07" y1="187.08" x2="427.47" y2="187.08" stroke="#3c3d52" stroke-width="0.45" />
<line x1="428.06" y1="183.24" x2="428.06" y2="187.2" stroke="#3c3d52" stroke-width="0.45" />
<line x1="427.36" y1="183.24" x2="428.76" y2="183.24" stroke="#3c3d52" stroke-width="0.45" />
<line x1="427.36" y1="187.2" x2="428.76" y2="187.2" stroke="#3c3d52" stroke-width="0.45" />
<line x1="429.36" y1="183.39" x2="429.36" y2="187.32" stroke="#3c3d52" stroke-width="0.45" />
<line x1="428.66" y1="183.39" x2="430.06" y2="183.39" stroke="#3c3d52" stroke-width="0.45" />
<line x1="428.66" y1="187.32" x2="430.06" y2="187.32" stroke="#3c3d52" stroke-width="0.45" />
<line x1="430.65" y1="183.53" x2="430.65" y2="187.43" stroke="#3c3d52" stroke-width="0.45" />
<line x1="429.95" y1="183.53" x2="431.35" y2="183.53" stroke="#3c3d52" stroke-width="0.45" />
<line x1="429.95" y1="187.43" x2="431.35" y2="187.43" stroke="#3c3d52" stroke-width="0.45" />
<line x1="431.94" y1="183.66" x2="431.94" y2="187.54" stroke="#3c3d52" stroke-width="0.45" />
<line x1="431.24" y1="183.66" x2="432.64" y2="183.66" stroke="#3c3d52" stroke-width="0.45" />
<line x1="431.24" y1="187.54" x2="432.64" y2="187.54" stroke="#3c3d52" stroke-width="0.45" />
<line x1="433.23" y1="183.79" x2="433.23" y2="187.64" stroke="#3c3d52" stroke-width="0.45" />
<line x1="432.53" y1="183.79" x2="433.93" y2="183.79" stroke="#3c3d52" stroke-width="0.45" />
<line x1="432.53" y1="187.64" x2="433.93" y2="187.64" stroke="#3c3d52" stroke-width="0.45" />
<line x1="434.52" y1="183.91" x2="434.52" y2="187.73" stroke="#3c3d52" stroke-width="0.45" />
<line x1="433.82" y1="183.91" x2="435.22" y2="183.91" stroke="#3c3d52" stroke-width="0.45" />
<line x1="433.82" y1="187.73" x2="435.22" y2="187.73" stroke="#3c3d52" stroke-width="0.45" />
<line x1="435.82" y1="184.02" x2="435.82" y2="187.82" stroke="#3c3d52" stroke-width="0.45" />
<line x1="435.12" y1="184.02" x2="436.52" y2="184.02" stroke="#3c3d52" stroke-width="0.45" />
<line x1="435.12" y1="187.82" x2="436.52" y2="187.82" stroke="#3c3d52" stroke-width="0.45" />
<line x1="437.11" y1="184.13" x2="437.11" y2="187.91" stroke="#3c3d52" stroke-width="0.45" />
<line x1="436.41" y1="184.13" x2="437.81" y2="184.13" stroke="#3c3d52" stroke-width="0.45" />
<line x1="436.41" y1="187.91" x2="437.81" y2="187.91" stroke="#3c3d52" stroke-width="0.45" />
<line x1="438.4" y1="184.23" x2="438.4" y2="187.99" stroke="#3c3d52" stroke-width="0.45" />
<line x1="437.7" y1="184.23" x2="439.1" y2="184.23" stroke="#3c3d52" stroke-width="0.45" />
<line x1="437.7" y1="187.99" x2="439.1" y2="187.99" stroke="#3c3d52" stroke-width="0.45" />
<polyline points="341.5,202.88 342.15,202.88 342.79,202.88 343.44,202.88 344.08,202.88 344.73,202.88 345.38,202.88 346.02,202.88 346.67,202.88 347.31,202.88 347.96,202.88 348.61,202.88 349.25,202.88 349.9,202.88 350.54,202.88 351.19,202.88 351.84,202.88 352.48,202.88 353.13,202.88 353.77,200.68 354.42,197.28 355.07,194.23 355.71,191.36 356.36,188.62 357,185.96 357.65,183.38 358.3,180.86 358.94,178.39 359.59,175.97 360.23,173.59 360.88,171.25 361.53,168.94 362.17,166.66 362.82,164.41 363.46,162.9 364.11,161.92 364.76,160.77 365.4,159.88 366.05,159.17 366.69,158.63 367.34,158.42 367.99,158.38 368.63,158.49 369.28,158.93 369.92,159.52 370.57,160.27 371.22,160.99 371.86,161.7 372.51,162.38 373.15,163.05 373.8,163.7 374.45,164.34 375.09,164.95 375.74,165.55 376.38,166.14 377.03,166.71 377.68,167.26 378.32,167.8 378.97,168.33 379.61,168.84 380.26,169.34 380.91,169.82 381.55,170.3 382.2,170.76 382.84,171.21 383.49,171.64 384.14,172.07 384.78,172.48 385.43,172.88 386.07,173.27 386.72,173.66 387.37,174.03 388.01,174.39 388.66,174.74 389.3,175.09 389.95,175.42 390.6,175.75 391.24,176.06 391.89,176.37 392.53,176.67 393.18,176.96 393.83,177.25 394.47,177.53 395.12,177.8 395.76,178.06 396.41,178.31 397.06,178.56 397.7,178.81 398.35,179.04 398.99,179.27 399.64,179.5 400.29,179.71 400.93,179.93 401.58,180.13 402.22,180.34 402.87,180.53 403.52,180.72 404.16,180.91 404.81,181.09 405.45,181.27 406.1,181.44 406.75,181.6 407.39,181.77 408.04,181.93 408.68,182.08 409.33,182.23 409.98,182.38 410.62,182.52 411.27,182.66 411.91,182.79 412.56,182.92 413.21,183.05 413.85,183.18 414.5,183.3 415.14,183.41 415.79,183.53 416.44,183.64 417.08,183.75 417.73,183.86 418.37,183.96 419.02,184.06 419.67,184.16 420.31,184.25 420.96,184.35 421.6,184.44 422.25,184.53 422.9,184.61 423.54,184.7 424.19,184.78 424.83,184.86 425.48,184.93 426.13,185.01 426.77,185.08 427.42,185.15 428.06,185.22 428.71,185.29 429.36,185.35 430,185.42 430.65,185.48 431.29,185.54 431.94,185.6 432.59,185.66 433.23,185.71 433.88,185.77 434.52,185.82 435.17,185.87 435.82,185.92 436.46,185.97 437.11,186.02 437.75,186.07 438.4,186.11" fill="none" stroke="#3c3d52" stroke-width="0.8" stroke-linejoin="round" />
<line x1="353.4" y1="145.9" x2="360.8" y2="145.9" stroke="#3c3d52" stroke-width="0.9" />
<rect x="356" y="144.8" width="2.2" height="2.2" fill="#3c3d52" stroke="none" stroke-width="0.6" />
<text x="363.4" y="148.2" font-size="6.3" textLength="21" lengthAdjust="spacingAndGlyphs" stroke="#231f20" stroke-width="0.06">Vehicle</text>
<line x1="405.5" y1="145.9" x2="412.9" y2="145.9" stroke="#29a9e1" stroke-width="0.9" />
<rect x="408.1" y="144.8" width="2.2" height="2.2" fill="#29a9e1" stroke="none" stroke-width="0.6" />
<text x="415.5" y="148.2" font-size="6.3" textLength="22.5" lengthAdjust="spacingAndGlyphs" stroke="#231f20" stroke-width="0.06">SN-89B</text>
<text x="357.6" y="218.4" font-size="6.3" textLength="40" lengthAdjust="spacingAndGlyphs" stroke="#231f20" stroke-width="0.06">0.01U/mL Thr</text>
<line x1="356.5" y1="215.7" x2="346" y2="210.9" stroke="#231f20" stroke-width="0.9" />
<path d="M343.6,209.8 L347.6,209.9 L346.3,212.6 Z" fill="#231f20" stroke="none" stroke-width="0.7" />
<text x="409.5" y="213" font-size="6" text-anchor="middle" stroke="#231f20" stroke-width="0.06">***</text>
<text x="415.5" y="214.3" font-size="6.3" textLength="23" lengthAdjust="spacingAndGlyphs" stroke="#231f20" stroke-width="0.06"><tspan font-style="italic">P</tspan> &lt; .001</text>
<text x="377.7" y="245.3" font-size="7.5" textLength="23.3" lengthAdjust="spacingAndGlyphs" stroke="#231f20" stroke-width="0.06">Time (s)</text>
<text x="320.8" y="180.7" font-size="7.4" text-anchor="middle" textLength="48.7" lengthAdjust="spacingAndGlyphs" transform="rotate(-90 320.8 180.7)" stroke="#231f20" stroke-width="0.06">Ratio (340/380)</text>
<text x="7" y="267.4" font-size="10.6" font-weight="bold" stroke="#231f20" stroke-width="0.06">H</text>
<text x="31.5" y="276.5" font-size="8.8" textLength="36" lengthAdjust="spacingAndGlyphs" stroke="#231f20" stroke-width="0.06">Peak Ca<tspan font-size="5" dy="-3.2">2+</tspan></text>
<text x="49.7" y="286.5" font-size="8.8" text-anchor="middle" textLength="20" lengthAdjust="spacingAndGlyphs" stroke="#231f20" stroke-width="0.06">influx</text>
<line x1="34.5" y1="293.5" x2="34.5" y2="372.5" stroke="#231f20" stroke-width="1" />
<line x1="31.7" y1="372.5" x2="34.5" y2="372.5" stroke="#231f20" stroke-width="0.9" />
<text x="28.7" y="375.44" font-size="6.5" text-anchor="end" fill="#333333" stroke="#333333" stroke-width="0.06">0.0</text>
<line x1="31.7" y1="353.05" x2="34.5" y2="353.05" stroke="#231f20" stroke-width="0.9" />
<text x="28.7" y="355.99" font-size="6.5" text-anchor="end" fill="#333333" stroke="#333333" stroke-width="0.06">0.5</text>
<line x1="31.7" y1="333.6" x2="34.5" y2="333.6" stroke="#231f20" stroke-width="0.9" />
<text x="28.7" y="336.54" font-size="6.5" text-anchor="end" fill="#333333" stroke="#333333" stroke-width="0.06">1.0</text>
<line x1="31.7" y1="314.15" x2="34.5" y2="314.15" stroke="#231f20" stroke-width="0.9" />
<text x="28.7" y="317.09" font-size="6.5" text-anchor="end" fill="#333333" stroke="#333333" stroke-width="0.06">1.5</text>
<line x1="31.7" y1="294.7" x2="34.5" y2="294.7" stroke="#231f20" stroke-width="0.9" />
<text x="28.7" y="297.64" font-size="6.5" text-anchor="end" fill="#333333" stroke="#333333" stroke-width="0.06">2.0</text>
<line x1="34" y1="372.5" x2="65.4" y2="372.5" stroke="#231f20" stroke-width="1" />
<rect x="39" y="317.26" width="8.9" height="55.24" fill="#aeb3bd" stroke="none" stroke-width="0.5" />
<rect x="52.2" y="328.93" width="8.4" height="43.57" fill="#b5def5" stroke="none" stroke-width="0.5" />
<line x1="43.45" y1="372.5" x2="43.45" y2="375" stroke="#231f20" stroke-width="0.7" />
<line x1="43.45" y1="314.15" x2="43.45" y2="320.37" stroke="#5d6270" stroke-width="0.6" />
<line x1="41.95" y1="314.15" x2="44.95" y2="314.15" stroke="#5d6270" stroke-width="0.6" />
<line x1="41.95" y1="320.37" x2="44.95" y2="320.37" stroke="#5d6270" stroke-width="0.6" />
<circle cx="41.16" cy="305.59" r="1.5" fill="none" stroke="#5d6270" stroke-width="0.6" />
<circle cx="43.73" cy="309.48" r="1.5" fill="none" stroke="#5d6270" stroke-width="0.6" />
<circle cx="45.66" cy="316.48" r="1.5" fill="none" stroke="#5d6270" stroke-width="0.6" />
<circle cx="41.25" cy="318.04" r="1.5" fill="none" stroke="#5d6270" stroke-width="0.6" />
<circle cx="43.45" cy="319.6" r="1.5" fill="none" stroke="#5d6270" stroke-width="0.6" />
<circle cx="45.41" cy="321.93" r="1.5" fill="none" stroke="#5d6270" stroke-width="0.6" />
<circle cx="41.57" cy="325.04" r="1.5" fill="none" stroke="#5d6270" stroke-width="0.6" />
<line x1="56.4" y1="372.5" x2="56.4" y2="375" stroke="#231f20" stroke-width="0.7" />
<line x1="56.4" y1="325.82" x2="56.4" y2="332.04" stroke="#29a9e1" stroke-width="0.6" />
<line x1="54.9" y1="325.82" x2="57.9" y2="325.82" stroke="#29a9e1" stroke-width="0.6" />
<line x1="54.9" y1="332.04" x2="57.9" y2="332.04" stroke="#29a9e1" stroke-width="0.6" />
<circle cx="54.76" cy="324.26" r="1.3" fill="#29a9e1" stroke="#29a9e1" stroke-width="0.6" />
<circle cx="56.76" cy="328.93" r="1.3" fill="#29a9e1" stroke="#29a9e1" stroke-width="0.6" />
<circle cx="58.05" cy="330.88" r="1.3" fill="#29a9e1" stroke="#29a9e1" stroke-width="0.6" />
<circle cx="54.07" cy="332.04" r="1.3" fill="#29a9e1" stroke="#29a9e1" stroke-width="0.6" />
<circle cx="56.67" cy="333.6" r="1.3" fill="#29a9e1" stroke="#29a9e1" stroke-width="0.6" />
<circle cx="58.59" cy="341.38" r="1.3" fill="#29a9e1" stroke="#29a9e1" stroke-width="0.6" />
<text x="46.45" y="380.9" font-size="6.5" text-anchor="end" transform="rotate(-45 46.45 380.9)" stroke="#231f20" stroke-width="0.06">Vehicle</text>
<text x="59.4" y="380.9" font-size="6.5" text-anchor="end" transform="rotate(-45 59.4 380.9)" stroke="#231f20" stroke-width="0.06">SN-89B</text>
<path d="M42.9,302 L42.9,299.3 L57.3,299.3 L57.3,302" fill="none" stroke="#231f20" stroke-width="0.8" />
<text x="50" y="299" font-size="6" text-anchor="middle" stroke="#231f20" stroke-width="0.06">**</text>
<text x="14.6" y="332.7" font-size="7.4" text-anchor="middle" textLength="50.7" lengthAdjust="spacingAndGlyphs" transform="rotate(-90 14.6 332.7)" stroke="#231f20" stroke-width="0.06">Ratio (340/380)</text>
<text x="106" y="276.5" font-size="8.8" textLength="43" lengthAdjust="spacingAndGlyphs" stroke="#231f20" stroke-width="0.06">Rate of Ca<tspan font-size="5" dy="-3.2">2+</tspan></text>
<text x="129" y="286.5" font-size="8.8" text-anchor="middle" textLength="20" lengthAdjust="spacingAndGlyphs" stroke="#231f20" stroke-width="0.06">influx</text>
<line x1="113.5" y1="293.5" x2="113.5" y2="372.5" stroke="#231f20" stroke-width="1" />
<line x1="110.7" y1="372.5" x2="113.5" y2="372.5" stroke="#231f20" stroke-width="0.9" />
<text x="107.7" y="375.44" font-size="6.5" text-anchor="end" fill="#333333" stroke="#333333" stroke-width="0.06">0.000</text>
<line x1="110.7" y1="353.05" x2="113.5" y2="353.05" stroke="#231f20" stroke-width="0.9" />
<text x="107.7" y="355.99" font-size="6.5" text-anchor="end" fill="#333333" stroke="#333333" stroke-width="0.06">0.005</text>
<line x1="110.7" y1="333.6" x2="113.5" y2="333.6" stroke="#231f20" stroke-width="0.9" />
<text x="107.7" y="336.54" font-size="6.5" text-anchor="end" fill="#333333" stroke="#333333" stroke-width="0.06">0.010</text>
<line x1="110.7" y1="314.15" x2="113.5" y2="314.15" stroke="#231f20" stroke-width="0.9" />
<text x="107.7" y="317.09" font-size="6.5" text-anchor="end" fill="#333333" stroke="#333333" stroke-width="0.06">0.015</text>
<line x1="110.7" y1="294.7" x2="113.5" y2="294.7" stroke="#231f20" stroke-width="0.9" />
<text x="107.7" y="297.64" font-size="6.5" text-anchor="end" fill="#333333" stroke="#333333" stroke-width="0.06">0.020</text>
<line x1="113" y1="372.5" x2="143.2" y2="372.5" stroke="#231f20" stroke-width="1" />
<rect x="118.2" y="332.04" width="8.1" height="40.46" fill="#aeb3bd" stroke="none" stroke-width="0.5" />
<rect x="131.3" y="355.38" width="8.8" height="17.12" fill="#b5def5" stroke="none" stroke-width="0.5" />
<line x1="122.25" y1="372.5" x2="122.25" y2="375" stroke="#231f20" stroke-width="0.7" />
<line x1="122.25" y1="326.6" x2="122.25" y2="336.71" stroke="#5d6270" stroke-width="0.6" />
<line x1="120.75" y1="326.6" x2="123.75" y2="326.6" stroke="#5d6270" stroke-width="0.6" />
<line x1="120.75" y1="336.71" x2="123.75" y2="336.71" stroke="#5d6270" stroke-width="0.6" />
<circle cx="121.89" cy="308.31" r="1.5" fill="none" stroke="#5d6270" stroke-width="0.6" />
<circle cx="122.29" cy="319.99" r="1.5" fill="none" stroke="#5d6270" stroke-width="0.6" />
<circle cx="122.3" cy="329.71" r="1.5" fill="none" stroke="#5d6270" stroke-width="0.6" />
<circle cx="122.18" cy="333.6" r="1.5" fill="none" stroke="#5d6270" stroke-width="0.6" />
<circle cx="122.35" cy="345.27" r="1.5" fill="none" stroke="#5d6270" stroke-width="0.6" />
<circle cx="122.05" cy="353.83" r="1.5" fill="none" stroke="#5d6270" stroke-width="0.6" />
<line x1="135.7" y1="372.5" x2="135.7" y2="375" stroke="#231f20" stroke-width="0.7" />
<line x1="135.7" y1="352.66" x2="135.7" y2="358.11" stroke="#29a9e1" stroke-width="0.6" />
<line x1="134.2" y1="352.66" x2="137.2" y2="352.66" stroke="#29a9e1" stroke-width="0.6" />
<line x1="134.2" y1="358.11" x2="137.2" y2="358.11" stroke="#29a9e1" stroke-width="0.6" />
<circle cx="133.49" cy="348.38" r="1.3" fill="#29a9e1" stroke="#29a9e1" stroke-width="0.6" />
<circle cx="135.38" cy="355" r="1.3" fill="#29a9e1" stroke="#29a9e1" stroke-width="0.6" />
<circle cx="137.62" cy="356.94" r="1.3" fill="#29a9e1" stroke="#29a9e1" stroke-width="0.6" />
<circle cx="133.42" cy="358.88" r="1.3" fill="#29a9e1" stroke="#29a9e1" stroke-width="0.6" />
<circle cx="135.35" cy="360.83" r="1.3" fill="#29a9e1" stroke="#29a9e1" stroke-width="0.6" />
<circle cx="137.62" cy="356.16" r="1.3" fill="#29a9e1" stroke="#29a9e1" stroke-width="0.6" />
<text x="125.25" y="380.9" font-size="6.5" text-anchor="end" transform="rotate(-45 125.25 380.9)" stroke="#231f20" stroke-width="0.06">Vehicle</text>
<text x="138.7" y="380.9" font-size="6.5" text-anchor="end" transform="rotate(-45 138.7 380.9)" stroke="#231f20" stroke-width="0.06">SN-89B</text>
<path d="M121.4,304.1 L121.4,301.6 L136.2,301.6 L136.2,304.1" fill="none" stroke="#231f20" stroke-width="0.8" />
<text x="128.5" y="301" font-size="6" text-anchor="middle" stroke="#231f20" stroke-width="0.06">**</text>
<text x="88.6" y="333.8" font-size="7.2" text-anchor="middle" transform="rotate(-90 88.6 333.8)" stroke="#231f20" stroke-width="0.06">ΔR s<tspan font-size="4.5" dy="-2.8">−1</tspan></text>
<defs><filter id="bl" x="-30%" y="-100%" width="160%" height="300%"><feGaussianBlur stdDeviation="0.55"/></filter></defs>
<text x="167.4" y="267.4" font-size="10.6" font-weight="bold" stroke="#231f20" stroke-width="0.06">I</text>
<text x="218.5" y="268.8" font-size="6.8" text-anchor="middle" textLength="21.5" lengthAdjust="spacingAndGlyphs" stroke="#231f20" stroke-width="0.06">Vehicle</text>
<text x="267" y="268.8" font-size="6.8" text-anchor="middle" textLength="23" lengthAdjust="spacingAndGlyphs" stroke="#231f20" stroke-width="0.06">SN-89B</text>
<line x1="198.5" y1="271.2" x2="238.5" y2="271.2" stroke="#231f20" stroke-width="0.9" />
<line x1="244.6" y1="271.2" x2="286.2" y2="271.2" stroke="#231f20" stroke-width="0.9" />
<text x="297" y="268.8" font-size="6.8" textLength="12.2" lengthAdjust="spacingAndGlyphs" stroke="#231f20" stroke-width="0.06">kDa</text>
<rect x="194.4" y="273.2" width="98.9" height="12.6" fill="#f8f8f8" stroke="#2a2a2a" stroke-width="1" />
<rect x="197.25" y="278.1" width="12.5" height="3.6" rx="1.8" fill="rgb(22,22,22)" filter="url(#bl)"/>
<rect x="212.25" y="278.1" width="12.5" height="3.6" rx="1.8" fill="rgb(34,34,34)" filter="url(#bl)"/>
<rect x="227.05" y="278.1" width="12.5" height="3.6" rx="1.8" fill="rgb(130,130,130)" filter="url(#bl)"/>
<rect x="242.95" y="278.1" width="12.5" height="3.6" rx="1.8" fill="rgb(235,235,235)" filter="url(#bl)"/>
<rect x="259.15" y="278.1" width="12.5" height="3.6" rx="1.8" fill="rgb(230,230,230)" filter="url(#bl)"/>
<rect x="275.25" y="278.1" width="12.5" height="3.6" rx="1.8" fill="rgb(235,235,235)" filter="url(#bl)"/>
<text x="191.8" y="281.8" font-size="6.6" text-anchor="end" stroke="#231f20" stroke-width="0.06">pAKT1</text>
<text x="298" y="281.8" font-size="6.6" stroke="#231f20" stroke-width="0.06">60</text>
<rect x="194.4" y="288.2" width="98.9" height="12.6" fill="#f8f8f8" stroke="#2a2a2a" stroke-width="1" />
<rect x="197.25" y="292.6" width="12.5" height="4.6" rx="2.3" fill="rgb(10,10,10)" filter="url(#bl)"/>
<rect x="212.25" y="292.6" width="12.5" height="4.6" rx="2.3" fill="rgb(22,22,22)" filter="url(#bl)"/>
<rect x="227.05" y="292.6" width="12.5" height="4.6" rx="2.3" fill="rgb(142,142,142)" filter="url(#bl)"/>
<rect x="242.95" y="292.6" width="12.5" height="4.6" rx="2.3" fill="rgb(221,221,221)" filter="url(#bl)"/>
<rect x="259.15" y="292.6" width="12.5" height="4.6" rx="2.3" fill="rgb(230,230,230)" filter="url(#bl)"/>
<rect x="275.25" y="292.6" width="12.5" height="4.6" rx="2.3" fill="rgb(242,242,242)" filter="url(#bl)"/>
<text x="191.8" y="296.8" font-size="6.6" text-anchor="end" stroke="#231f20" stroke-width="0.06">pGSK3β</text>
<text x="298" y="296.8" font-size="6.6" stroke="#231f20" stroke-width="0.06">46</text>
<rect x="194.4" y="303.4" width="98.9" height="12.6" fill="#f8f8f8" stroke="#2a2a2a" stroke-width="1" />
<rect x="197.25" y="308.6" width="12.5" height="3" rx="1.5" fill="rgb(34,34,34)" filter="url(#bl)"/>
<rect x="212.25" y="308.6" width="12.5" height="3" rx="1.5" fill="rgb(38,38,38)" filter="url(#bl)"/>
<rect x="227.05" y="308.6" width="12.5" height="3" rx="1.5" fill="rgb(58,58,58)" filter="url(#bl)"/>
<rect x="242.95" y="308.6" width="12.5" height="3" rx="1.5" fill="rgb(22,22,22)" filter="url(#bl)"/>
<rect x="259.15" y="308.6" width="12.5" height="3" rx="1.5" fill="rgb(22,22,22)" filter="url(#bl)"/>
<rect x="275.25" y="308.6" width="12.5" height="3" rx="1.5" fill="rgb(29,29,29)" filter="url(#bl)"/>
<text x="191.8" y="312" font-size="6.6" text-anchor="end" stroke="#231f20" stroke-width="0.06">GAPDH</text>
<text x="298" y="312" font-size="6.6" stroke="#231f20" stroke-width="0.06">37</text>
<rect x="194.4" y="318.4" width="98.9" height="12.6" fill="#f8f8f8" stroke="#2a2a2a" stroke-width="1" />
<rect x="197.25" y="323" width="12.5" height="4.2" rx="2.1" fill="rgb(22,22,22)" filter="url(#bl)"/>
<rect x="212.25" y="323" width="12.5" height="4.2" rx="2.1" fill="rgb(77,77,77)" filter="url(#bl)"/>
<rect x="227.05" y="323" width="12.5" height="4.2" rx="2.1" fill="rgb(118,118,118)" filter="url(#bl)"/>
<rect x="242.95" y="323" width="12.5" height="4.2" rx="2.1" fill="rgb(214,214,214)" filter="url(#bl)"/>
<rect x="259.15" y="323" width="12.5" height="4.2" rx="2.1" fill="rgb(214,214,214)" filter="url(#bl)"/>
<rect x="275.25" y="323" width="12.5" height="4.2" rx="2.1" fill="rgb(214,214,214)" filter="url(#bl)"/>
<text x="191.8" y="327" font-size="6.6" text-anchor="end" stroke="#231f20" stroke-width="0.06">pAKT2</text>
<text x="298" y="327" font-size="6.6" stroke="#231f20" stroke-width="0.06">60</text>
<rect x="194.4" y="334" width="98.9" height="12.6" fill="#f8f8f8" stroke="#2a2a2a" stroke-width="1" />
<rect x="197.25" y="339.4" width="12.5" height="2.6" rx="1.3" fill="rgb(34,34,34)" filter="url(#bl)"/>
<rect x="212.25" y="339.4" width="12.5" height="2.6" rx="1.3" fill="rgb(46,46,46)" filter="url(#bl)"/>
<rect x="227.05" y="339.4" width="12.5" height="2.6" rx="1.3" fill="rgb(46,46,46)" filter="url(#bl)"/>
<rect x="242.95" y="339.4" width="12.5" height="2.6" rx="1.3" fill="rgb(34,34,34)" filter="url(#bl)"/>
<rect x="259.15" y="339.4" width="12.5" height="2.6" rx="1.3" fill="rgb(34,34,34)" filter="url(#bl)"/>
<rect x="275.25" y="339.4" width="12.5" height="2.6" rx="1.3" fill="rgb(34,34,34)" filter="url(#bl)"/>
<text x="191.8" y="342.6" font-size="6.6" text-anchor="end" stroke="#231f20" stroke-width="0.06">GAPDH</text>
<text x="298" y="342.6" font-size="6.6" stroke="#231f20" stroke-width="0.06">37</text>
<rect x="194.4" y="349.8" width="98.9" height="12.6" fill="#f8f8f8" stroke="#2a2a2a" stroke-width="1" />
<rect x="197.25" y="354.2" width="12.5" height="4.6" rx="2.3" fill="rgb(77,77,77)" filter="url(#bl)"/>
<rect x="212.25" y="354.2" width="12.5" height="4.6" rx="2.3" fill="rgb(77,77,77)" filter="url(#bl)"/>
<rect x="227.05" y="354.2" width="12.5" height="4.6" rx="2.3" fill="rgb(130,130,130)" filter="url(#bl)"/>
<rect x="242.95" y="354.2" width="12.5" height="4.6" rx="2.3" fill="rgb(17,17,17)" filter="url(#bl)"/>
<rect x="259.15" y="354.2" width="12.5" height="4.6" rx="2.3" fill="rgb(17,17,17)" filter="url(#bl)"/>
<rect x="275.25" y="354.2" width="12.5" height="4.6" rx="2.3" fill="rgb(26,26,26)" filter="url(#bl)"/>
<text x="191.8" y="358.4" font-size="6.6" text-anchor="end" stroke="#231f20" stroke-width="0.06">GSK3β</text>
<text x="298" y="358.4" font-size="6.6" stroke="#231f20" stroke-width="0.06">46</text>
<rect x="194.4" y="365.8" width="98.9" height="12.6" fill="#f8f8f8" stroke="#2a2a2a" stroke-width="1" />
<rect x="197.25" y="370.3" width="12.5" height="4.4" rx="2.2" fill="rgb(70,70,70)" filter="url(#bl)"/>
<rect x="212.25" y="370.3" width="12.5" height="4.4" rx="2.2" fill="rgb(82,82,82)" filter="url(#bl)"/>
<rect x="227.05" y="370.3" width="12.5" height="4.4" rx="2.2" fill="rgb(130,130,130)" filter="url(#bl)"/>
<rect x="242.95" y="370.3" width="12.5" height="4.4" rx="2.2" fill="rgb(19,19,19)" filter="url(#bl)"/>
<rect x="259.15" y="370.3" width="12.5" height="4.4" rx="2.2" fill="rgb(10,10,10)" filter="url(#bl)"/>
<rect x="275.25" y="370.3" width="12.5" height="4.4" rx="2.2" fill="rgb(19,19,19)" filter="url(#bl)"/>
<text x="191.8" y="374.4" font-size="6.6" text-anchor="end" stroke="#231f20" stroke-width="0.06">AKT1</text>
<text x="298" y="374.4" font-size="6.6" stroke="#231f20" stroke-width="0.06">60</text>
<rect x="194.4" y="381.7" width="98.9" height="12.6" fill="#f8f8f8" stroke="#2a2a2a" stroke-width="1" />
<rect x="197.25" y="386.8" width="12.5" height="3.2" rx="1.6" fill="rgb(29,29,29)" filter="url(#bl)"/>
<rect x="212.25" y="386.8" width="12.5" height="3.2" rx="1.6" fill="rgb(34,34,34)" filter="url(#bl)"/>
<rect x="227.05" y="386.8" width="12.5" height="3.2" rx="1.6" fill="rgb(46,46,46)" filter="url(#bl)"/>
<rect x="242.95" y="386.8" width="12.5" height="3.2" rx="1.6" fill="rgb(22,22,22)" filter="url(#bl)"/>
<rect x="259.15" y="386.8" width="12.5" height="3.2" rx="1.6" fill="rgb(29,29,29)" filter="url(#bl)"/>
<rect x="275.25" y="386.8" width="12.5" height="3.2" rx="1.6" fill="rgb(29,29,29)" filter="url(#bl)"/>
<text x="191.8" y="390.3" font-size="6.6" text-anchor="end" stroke="#231f20" stroke-width="0.06">GAPDH</text>
<text x="298" y="390.3" font-size="6.6" stroke="#231f20" stroke-width="0.06">37</text>
<rect x="194.4" y="396.9" width="98.9" height="12.6" fill="#f8f8f8" stroke="#2a2a2a" stroke-width="1" />
<rect x="197.25" y="401.7" width="12.5" height="3.8" rx="1.9" fill="rgb(34,34,34)" filter="url(#bl)"/>
<rect x="212.25" y="401.7" width="12.5" height="3.8" rx="1.9" fill="rgb(70,70,70)" filter="url(#bl)"/>
<rect x="227.05" y="401.7" width="12.5" height="3.8" rx="1.9" fill="rgb(130,130,130)" filter="url(#bl)"/>
<rect x="242.95" y="401.7" width="12.5" height="3.8" rx="1.9" fill="rgb(19,19,19)" filter="url(#bl)"/>
<rect x="259.15" y="401.7" width="12.5" height="3.8" rx="1.9" fill="rgb(19,19,19)" filter="url(#bl)"/>
<rect x="275.25" y="401.7" width="12.5" height="3.8" rx="1.9" fill="rgb(19,19,19)" filter="url(#bl)"/>
<text x="191.8" y="405.5" font-size="6.6" text-anchor="end" stroke="#231f20" stroke-width="0.06">AKT2</text>
<text x="298" y="405.5" font-size="6.6" stroke="#231f20" stroke-width="0.06">60</text>
<rect x="194.4" y="413.1" width="98.9" height="12.6" fill="#f8f8f8" stroke="#2a2a2a" stroke-width="1" />
<rect x="197.25" y="418.4" width="12.5" height="2.8" rx="1.4" fill="rgb(58,58,58)" filter="url(#bl)"/>
<rect x="212.25" y="418.4" width="12.5" height="2.8" rx="1.4" fill="rgb(70,70,70)" filter="url(#bl)"/>
<rect x="227.05" y="418.4" width="12.5" height="2.8" rx="1.4" fill="rgb(82,82,82)" filter="url(#bl)"/>
<rect x="242.95" y="418.4" width="12.5" height="2.8" rx="1.4" fill="rgb(46,46,46)" filter="url(#bl)"/>
<rect x="259.15" y="418.4" width="12.5" height="2.8" rx="1.4" fill="rgb(58,58,58)" filter="url(#bl)"/>
<rect x="275.25" y="418.4" width="12.5" height="2.8" rx="1.4" fill="rgb(29,29,29)" filter="url(#bl)"/>
<text x="191.8" y="421.7" font-size="6.6" text-anchor="end" stroke="#231f20" stroke-width="0.06">GAPDH</text>
<text x="298" y="421.7" font-size="6.6" stroke="#231f20" stroke-width="0.06">37</text>
<text x="324.9" y="267.4" font-size="10.6" font-weight="bold" stroke="#231f20" stroke-width="0.06">J</text>
<line x1="353" y1="270.7" x2="353" y2="321.9" stroke="#231f20" stroke-width="1" />
<line x1="350.2" y1="321.9" x2="353" y2="321.9" stroke="#231f20" stroke-width="0.9" />
<text x="347.2" y="324.84" font-size="6.5" text-anchor="end" fill="#333333" stroke="#333333" stroke-width="0.06">0.0</text>
<line x1="350.2" y1="305.17" x2="353" y2="305.17" stroke="#231f20" stroke-width="0.9" />
<text x="347.2" y="308.11" font-size="6.5" text-anchor="end" fill="#333333" stroke="#333333" stroke-width="0.06">0.5</text>
<line x1="350.2" y1="288.43" x2="353" y2="288.43" stroke="#231f20" stroke-width="0.9" />
<text x="347.2" y="291.37" font-size="6.5" text-anchor="end" fill="#333333" stroke="#333333" stroke-width="0.06">1.0</text>
<line x1="350.2" y1="271.7" x2="353" y2="271.7" stroke="#231f20" stroke-width="0.9" />
<text x="347.2" y="274.64" font-size="6.5" text-anchor="end" fill="#333333" stroke="#333333" stroke-width="0.06">1.5</text>
<line x1="352.5" y1="321.9" x2="381.5" y2="321.9" stroke="#231f20" stroke-width="1" />
<rect x="357.1" y="292.78" width="7.7" height="29.12" fill="#aeb3bd" stroke="none" stroke-width="0.5" />
<rect x="369" y="319.22" width="7.7" height="2.68" fill="#b5def5" stroke="none" stroke-width="0.5" />
<line x1="360.95" y1="321.9" x2="360.95" y2="324.4" stroke="#231f20" stroke-width="0.7" />
<line x1="360.95" y1="285.76" x2="360.95" y2="299.14" stroke="#5d6270" stroke-width="0.6" />
<line x1="359.45" y1="285.76" x2="362.45" y2="285.76" stroke="#5d6270" stroke-width="0.6" />
<line x1="359.45" y1="299.14" x2="362.45" y2="299.14" stroke="#5d6270" stroke-width="0.6" />
<circle cx="359.38" cy="278.39" r="1.4" fill="none" stroke="#5d6270" stroke-width="0.6" />
<circle cx="360.85" cy="288.43" r="1.4" fill="none" stroke="#5d6270" stroke-width="0.6" />
<circle cx="362.38" cy="292.45" r="1.4" fill="none" stroke="#5d6270" stroke-width="0.6" />
<circle cx="359.78" cy="298.47" r="1.4" fill="none" stroke="#5d6270" stroke-width="0.6" />
<circle cx="360.87" cy="303.49" r="1.4" fill="none" stroke="#5d6270" stroke-width="0.6" />
<line x1="372.85" y1="321.9" x2="372.85" y2="324.4" stroke="#231f20" stroke-width="0.7" />
<line x1="372.85" y1="318.69" x2="372.85" y2="319.76" stroke="#29a9e1" stroke-width="0.6" />
<line x1="371.35" y1="318.69" x2="374.35" y2="318.69" stroke="#29a9e1" stroke-width="0.6" />
<line x1="371.35" y1="319.76" x2="374.35" y2="319.76" stroke="#29a9e1" stroke-width="0.6" />
<circle cx="370.67" cy="318.69" r="1.2" fill="#29a9e1" stroke="#29a9e1" stroke-width="0.6" />
<circle cx="372.55" cy="319.22" r="1.2" fill="#29a9e1" stroke="#29a9e1" stroke-width="0.6" />
<circle cx="374.9" cy="319.62" r="1.2" fill="#29a9e1" stroke="#29a9e1" stroke-width="0.6" />
<text x="363.95" y="329.9" font-size="6.2" text-anchor="end" transform="rotate(-45 363.95 329.9)" stroke="#231f20" stroke-width="0.06">Vehicle</text>
<text x="375.85" y="329.9" font-size="6.2" text-anchor="end" transform="rotate(-45 375.85 329.9)" stroke="#231f20" stroke-width="0.06">SN-89B</text>
<path d="M360.4,277 L360.4,274.8 L372.3,274.8 L372.3,277" fill="none" stroke="#231f20" stroke-width="0.8" />
<text x="366.35" y="274" font-size="6" text-anchor="middle" stroke="#231f20" stroke-width="0.06">*</text>
<text x="333.1" y="295.6" font-size="6.6" text-anchor="middle" textLength="35" lengthAdjust="spacingAndGlyphs" transform="rotate(-90 333.1 295.6)" stroke="#231f20" stroke-width="0.06">pAKT1/AKT1</text>
<line x1="418.5" y1="271.1" x2="418.5" y2="322.3" stroke="#231f20" stroke-width="1" />
<line x1="415.7" y1="322.3" x2="418.5" y2="322.3" stroke="#231f20" stroke-width="0.9" />
<text x="412.7" y="325.24" font-size="6.5" text-anchor="end" fill="#333333" stroke="#333333" stroke-width="0.06">0.0</text>
<line x1="415.7" y1="305.57" x2="418.5" y2="305.57" stroke="#231f20" stroke-width="0.9" />
<text x="412.7" y="308.51" font-size="6.5" text-anchor="end" fill="#333333" stroke="#333333" stroke-width="0.06">0.5</text>
<line x1="415.7" y1="288.83" x2="418.5" y2="288.83" stroke="#231f20" stroke-width="0.9" />
<text x="412.7" y="291.77" font-size="6.5" text-anchor="end" fill="#333333" stroke="#333333" stroke-width="0.06">1.0</text>
<line x1="415.7" y1="272.1" x2="418.5" y2="272.1" stroke="#231f20" stroke-width="0.9" />
<text x="412.7" y="275.04" font-size="6.5" text-anchor="end" fill="#333333" stroke="#333333" stroke-width="0.06">1.5</text>
<line x1="418" y1="322.3" x2="447" y2="322.3" stroke="#231f20" stroke-width="1" />
<rect x="422.6" y="288.83" width="7.7" height="33.47" fill="#aeb3bd" stroke="none" stroke-width="0.5" />
<rect x="434.5" y="315.61" width="7.7" height="6.69" fill="#b5def5" stroke="none" stroke-width="0.5" />
<line x1="426.45" y1="322.3" x2="426.45" y2="324.8" stroke="#231f20" stroke-width="0.7" />
<line x1="426.45" y1="287.16" x2="426.45" y2="290.51" stroke="#5d6270" stroke-width="0.6" />
<line x1="424.95" y1="287.16" x2="427.95" y2="287.16" stroke="#5d6270" stroke-width="0.6" />
<line x1="424.95" y1="290.51" x2="427.95" y2="290.51" stroke="#5d6270" stroke-width="0.6" />
<circle cx="425.06" cy="287.16" r="1.4" fill="none" stroke="#5d6270" stroke-width="0.6" />
<circle cx="426.14" cy="288.83" r="1.4" fill="none" stroke="#5d6270" stroke-width="0.6" />
<circle cx="427.41" cy="289.5" r="1.4" fill="none" stroke="#5d6270" stroke-width="0.6" />
<line x1="438.35" y1="322.3" x2="438.35" y2="324.8" stroke="#231f20" stroke-width="0.7" />
<line x1="438.35" y1="314.27" x2="438.35" y2="316.95" stroke="#29a9e1" stroke-width="0.6" />
<line x1="436.85" y1="314.27" x2="439.85" y2="314.27" stroke="#29a9e1" stroke-width="0.6" />
<line x1="436.85" y1="316.95" x2="439.85" y2="316.95" stroke="#29a9e1" stroke-width="0.6" />
<circle cx="436.65" cy="314.27" r="1.2" fill="#29a9e1" stroke="#29a9e1" stroke-width="0.6" />
<circle cx="438.6" cy="315.61" r="1.2" fill="#29a9e1" stroke="#29a9e1" stroke-width="0.6" />
<circle cx="440.29" cy="316.61" r="1.2" fill="#29a9e1" stroke="#29a9e1" stroke-width="0.6" />
<text x="429.45" y="330.3" font-size="6.2" text-anchor="end" transform="rotate(-45 429.45 330.3)" stroke="#231f20" stroke-width="0.06">Vehicle</text>
<text x="441.35" y="330.3" font-size="6.2" text-anchor="end" transform="rotate(-45 441.35 330.3)" stroke="#231f20" stroke-width="0.06">SN-89B</text>
<path d="M425.6,280.7 L425.6,278.5 L437.8,278.5 L437.8,280.7" fill="none" stroke="#231f20" stroke-width="0.8" />
<text x="431.7" y="277.7" font-size="6" text-anchor="middle" stroke="#231f20" stroke-width="0.06">***</text>
<text x="398.8" y="296" font-size="6.6" text-anchor="middle" textLength="37" lengthAdjust="spacingAndGlyphs" transform="rotate(-90 398.8 296)" stroke="#231f20" stroke-width="0.06">pAKT2/AKT2</text>
<line x1="485.2" y1="271.1" x2="485.2" y2="322.3" stroke="#231f20" stroke-width="1" />
<line x1="482.4" y1="322.3" x2="485.2" y2="322.3" stroke="#231f20" stroke-width="0.9" />
<text x="479.4" y="325.24" font-size="6.5" text-anchor="end" fill="#333333" stroke="#333333" stroke-width="0.06">0.0</text>
<line x1="482.4" y1="309.75" x2="485.2" y2="309.75" stroke="#231f20" stroke-width="0.9" />
<text x="479.4" y="312.69" font-size="6.5" text-anchor="end" fill="#333333" stroke="#333333" stroke-width="0.06">0.5</text>
<line x1="482.4" y1="297.2" x2="485.2" y2="297.2" stroke="#231f20" stroke-width="0.9" />
<text x="479.4" y="300.14" font-size="6.5" text-anchor="end" fill="#333333" stroke="#333333" stroke-width="0.06">1.0</text>
<line x1="482.4" y1="284.65" x2="485.2" y2="284.65" stroke="#231f20" stroke-width="0.9" />
<text x="479.4" y="287.59" font-size="6.5" text-anchor="end" fill="#333333" stroke="#333333" stroke-width="0.06">1.5</text>
<line x1="482.4" y1="272.1" x2="485.2" y2="272.1" stroke="#231f20" stroke-width="0.9" />
<text x="479.4" y="275.04" font-size="6.5" text-anchor="end" fill="#333333" stroke="#333333" stroke-width="0.06">2.0</text>
<line x1="484.7" y1="322.3" x2="513.7" y2="322.3" stroke="#231f20" stroke-width="1" />
<rect x="489.3" y="292.93" width="7.7" height="29.37" fill="#aeb3bd" stroke="none" stroke-width="0.5" />
<rect x="501.2" y="321.05" width="7.7" height="1.25" fill="#b5def5" stroke="none" stroke-width="0.5" />
<line x1="493.15" y1="322.3" x2="493.15" y2="324.8" stroke="#231f20" stroke-width="0.7" />
<line x1="493.15" y1="285.91" x2="493.15" y2="299.71" stroke="#5d6270" stroke-width="0.6" />
<line x1="491.65" y1="285.91" x2="494.65" y2="285.91" stroke="#5d6270" stroke-width="0.6" />
<line x1="491.65" y1="299.71" x2="494.65" y2="299.71" stroke="#5d6270" stroke-width="0.6" />
<circle cx="491.61" cy="283.39" r="1.4" fill="none" stroke="#5d6270" stroke-width="0.6" />
<circle cx="493.36" cy="293.44" r="1.4" fill="none" stroke="#5d6270" stroke-width="0.6" />
<circle cx="494.39" cy="298.46" r="1.4" fill="none" stroke="#5d6270" stroke-width="0.6" />
<circle cx="491.77" cy="305.99" r="1.4" fill="none" stroke="#5d6270" stroke-width="0.6" />
<line x1="505.05" y1="322.3" x2="505.05" y2="324.8" stroke="#231f20" stroke-width="0.7" />
<line x1="505.05" y1="320.79" x2="505.05" y2="321.3" stroke="#29a9e1" stroke-width="0.6" />
<line x1="503.55" y1="320.79" x2="506.55" y2="320.79" stroke="#29a9e1" stroke-width="0.6" />
<line x1="503.55" y1="321.3" x2="506.55" y2="321.3" stroke="#29a9e1" stroke-width="0.6" />
<circle cx="503.35" cy="320.79" r="1.2" fill="#29a9e1" stroke="#29a9e1" stroke-width="0.6" />
<circle cx="505.3" cy="321.05" r="1.2" fill="#29a9e1" stroke="#29a9e1" stroke-width="0.6" />
<circle cx="506.99" cy="321.23" r="1.2" fill="#29a9e1" stroke="#29a9e1" stroke-width="0.6" />
<text x="496.15" y="330.3" font-size="6.2" text-anchor="end" transform="rotate(-45 496.15 330.3)" stroke="#231f20" stroke-width="0.06">Vehicle</text>
<text x="508.05" y="330.3" font-size="6.2" text-anchor="end" transform="rotate(-45 508.05 330.3)" stroke="#231f20" stroke-width="0.06">SN-89B</text>
<path d="M493.1,278 L493.1,275.8 L505.7,275.8 L505.7,278" fill="none" stroke="#231f20" stroke-width="0.8" />
<text x="499.4" y="275" font-size="6" text-anchor="middle" stroke="#231f20" stroke-width="0.06">*</text>
<text x="465.5" y="296" font-size="6.6" text-anchor="middle" textLength="48.4" lengthAdjust="spacingAndGlyphs" transform="rotate(-90 465.5 296)" stroke="#231f20" stroke-width="0.06">pGSK3β/GSK3β</text>
<line x1="353" y1="358.5" x2="353" y2="409.7" stroke="#231f20" stroke-width="1" />
<line x1="350.2" y1="409.7" x2="353" y2="409.7" stroke="#231f20" stroke-width="0.9" />
<text x="347.2" y="412.64" font-size="6.5" text-anchor="end" fill="#333333" stroke="#333333" stroke-width="0.06">0.0</text>
<line x1="350.2" y1="392.97" x2="353" y2="392.97" stroke="#231f20" stroke-width="0.9" />
<text x="347.2" y="395.91" font-size="6.5" text-anchor="end" fill="#333333" stroke="#333333" stroke-width="0.06">0.5</text>
<line x1="350.2" y1="376.23" x2="353" y2="376.23" stroke="#231f20" stroke-width="0.9" />
<text x="347.2" y="379.17" font-size="6.5" text-anchor="end" fill="#333333" stroke="#333333" stroke-width="0.06">1.0</text>
<line x1="350.2" y1="359.5" x2="353" y2="359.5" stroke="#231f20" stroke-width="0.9" />
<text x="347.2" y="362.44" font-size="6.5" text-anchor="end" fill="#333333" stroke="#333333" stroke-width="0.06">1.5</text>
<line x1="352.5" y1="409.7" x2="381.5" y2="409.7" stroke="#231f20" stroke-width="1" />
<rect x="357.1" y="381.25" width="7.7" height="28.45" fill="#aeb3bd" stroke="none" stroke-width="0.5" />
<rect x="369" y="405.35" width="7.7" height="4.35" fill="#b5def5" stroke="none" stroke-width="0.5" />
<line x1="360.95" y1="409.7" x2="360.95" y2="412.2" stroke="#231f20" stroke-width="0.7" />
<line x1="360.95" y1="376.23" x2="360.95" y2="386.27" stroke="#5d6270" stroke-width="0.6" />
<line x1="359.45" y1="376.23" x2="362.45" y2="376.23" stroke="#5d6270" stroke-width="0.6" />
<line x1="359.45" y1="386.27" x2="362.45" y2="386.27" stroke="#5d6270" stroke-width="0.6" />
<circle cx="359.38" cy="372.89" r="1.4" fill="none" stroke="#5d6270" stroke-width="0.6" />
<circle cx="360.85" cy="377.91" r="1.4" fill="none" stroke="#5d6270" stroke-width="0.6" />
<circle cx="362.38" cy="387.95" r="1.4" fill="none" stroke="#5d6270" stroke-width="0.6" />
<line x1="372.85" y1="409.7" x2="372.85" y2="412.2" stroke="#231f20" stroke-width="0.7" />
<line x1="372.85" y1="404.48" x2="372.85" y2="406.22" stroke="#29a9e1" stroke-width="0.6" />
<line x1="371.35" y1="404.48" x2="374.35" y2="404.48" stroke="#29a9e1" stroke-width="0.6" />
<line x1="371.35" y1="406.22" x2="374.35" y2="406.22" stroke="#29a9e1" stroke-width="0.6" />
<circle cx="371.11" cy="404.48" r="1.2" fill="#29a9e1" stroke="#29a9e1" stroke-width="0.6" />
<circle cx="372.89" cy="405.35" r="1.2" fill="#29a9e1" stroke="#29a9e1" stroke-width="0.6" />
<circle cx="374.57" cy="406" r="1.2" fill="#29a9e1" stroke="#29a9e1" stroke-width="0.6" />
<text x="363.95" y="417.7" font-size="6.2" text-anchor="end" transform="rotate(-45 363.95 417.7)" stroke="#231f20" stroke-width="0.06">Vehicle</text>
<text x="375.85" y="417.7" font-size="6.2" text-anchor="end" transform="rotate(-45 375.85 417.7)" stroke="#231f20" stroke-width="0.06">SN-89B</text>
<path d="M360.4,369.3 L360.4,367.1 L372.3,367.1 L372.3,369.3" fill="none" stroke="#231f20" stroke-width="0.8" />
<text x="366.35" y="366.3" font-size="6" text-anchor="middle" stroke="#231f20" stroke-width="0.06">**</text>
<text x="333" y="383.4" font-size="6.6" text-anchor="middle" textLength="42.5" lengthAdjust="spacingAndGlyphs" transform="rotate(-90 333 383.4)" stroke="#231f20" stroke-width="0.06">pAKT1/GAPDH</text>
<line x1="418.5" y1="358.5" x2="418.5" y2="409.7" stroke="#231f20" stroke-width="1" />
<line x1="415.7" y1="409.7" x2="418.5" y2="409.7" stroke="#231f20" stroke-width="0.9" />
<text x="412.7" y="412.64" font-size="6.5" text-anchor="end" fill="#333333" stroke="#333333" stroke-width="0.06">0.0</text>
<line x1="415.7" y1="397.15" x2="418.5" y2="397.15" stroke="#231f20" stroke-width="0.9" />
<text x="412.7" y="400.09" font-size="6.5" text-anchor="end" fill="#333333" stroke="#333333" stroke-width="0.06">0.5</text>
<line x1="415.7" y1="384.6" x2="418.5" y2="384.6" stroke="#231f20" stroke-width="0.9" />
<text x="412.7" y="387.54" font-size="6.5" text-anchor="end" fill="#333333" stroke="#333333" stroke-width="0.06">1.0</text>
<line x1="415.7" y1="372.05" x2="418.5" y2="372.05" stroke="#231f20" stroke-width="0.9" />
<text x="412.7" y="374.99" font-size="6.5" text-anchor="end" fill="#333333" stroke="#333333" stroke-width="0.06">1.5</text>
<line x1="415.7" y1="359.5" x2="418.5" y2="359.5" stroke="#231f20" stroke-width="0.9" />
<text x="412.7" y="362.44" font-size="6.5" text-anchor="end" fill="#333333" stroke="#333333" stroke-width="0.06">2.0</text>
<line x1="418" y1="409.7" x2="447" y2="409.7" stroke="#231f20" stroke-width="1" />
<rect x="422.6" y="377.07" width="7.7" height="32.63" fill="#aeb3bd" stroke="none" stroke-width="0.5" />
<rect x="434.5" y="400.91" width="7.7" height="8.79" fill="#b5def5" stroke="none" stroke-width="0.5" />
<line x1="426.45" y1="409.7" x2="426.45" y2="412.2" stroke="#231f20" stroke-width="0.7" />
<line x1="426.45" y1="373.31" x2="426.45" y2="380.83" stroke="#5d6270" stroke-width="0.6" />
<line x1="424.95" y1="373.31" x2="427.95" y2="373.31" stroke="#5d6270" stroke-width="0.6" />
<line x1="424.95" y1="380.83" x2="427.95" y2="380.83" stroke="#5d6270" stroke-width="0.6" />
<circle cx="425.06" cy="369.54" r="1.4" fill="none" stroke="#5d6270" stroke-width="0.6" />
<circle cx="426.14" cy="377.07" r="1.4" fill="none" stroke="#5d6270" stroke-width="0.6" />
<circle cx="427.41" cy="380.83" r="1.4" fill="none" stroke="#5d6270" stroke-width="0.6" />
<line x1="438.35" y1="409.7" x2="438.35" y2="412.2" stroke="#231f20" stroke-width="0.7" />
<line x1="438.35" y1="399.16" x2="438.35" y2="402.67" stroke="#29a9e1" stroke-width="0.6" />
<line x1="436.85" y1="399.16" x2="439.85" y2="399.16" stroke="#29a9e1" stroke-width="0.6" />
<line x1="436.85" y1="402.67" x2="439.85" y2="402.67" stroke="#29a9e1" stroke-width="0.6" />
<circle cx="436.61" cy="399.16" r="1.2" fill="#29a9e1" stroke="#29a9e1" stroke-width="0.6" />
<circle cx="438.39" cy="400.91" r="1.2" fill="#29a9e1" stroke="#29a9e1" stroke-width="0.6" />
<circle cx="440.07" cy="402.23" r="1.2" fill="#29a9e1" stroke="#29a9e1" stroke-width="0.6" />
<text x="429.45" y="417.7" font-size="6.2" text-anchor="end" transform="rotate(-45 429.45 417.7)" stroke="#231f20" stroke-width="0.06">Vehicle</text>
<text x="441.35" y="417.7" font-size="6.2" text-anchor="end" transform="rotate(-45 441.35 417.7)" stroke="#231f20" stroke-width="0.06">SN-89B</text>
<path d="M425.6,366.7 L425.6,364.5 L437.8,364.5 L437.8,366.7" fill="none" stroke="#231f20" stroke-width="0.8" />
<text x="431.7" y="363.7" font-size="6" text-anchor="middle" stroke="#231f20" stroke-width="0.06">**</text>
<text x="398.8" y="383.4" font-size="6.6" text-anchor="middle" textLength="46" lengthAdjust="spacingAndGlyphs" transform="rotate(-90 398.8 383.4)" stroke="#231f20" stroke-width="0.06">pAKT2/GAPDH</text>
<line x1="485.2" y1="358.5" x2="485.2" y2="409.7" stroke="#231f20" stroke-width="1" />
<line x1="482.4" y1="409.7" x2="485.2" y2="409.7" stroke="#231f20" stroke-width="0.9" />
<text x="479.4" y="412.64" font-size="6.5" text-anchor="end" fill="#333333" stroke="#333333" stroke-width="0.06">0.0</text>
<line x1="482.4" y1="397.15" x2="485.2" y2="397.15" stroke="#231f20" stroke-width="0.9" />
<text x="479.4" y="400.09" font-size="6.5" text-anchor="end" fill="#333333" stroke="#333333" stroke-width="0.06">0.5</text>
<line x1="482.4" y1="384.6" x2="485.2" y2="384.6" stroke="#231f20" stroke-width="0.9" />
<text x="479.4" y="387.54" font-size="6.5" text-anchor="end" fill="#333333" stroke="#333333" stroke-width="0.06">1.0</text>
<line x1="482.4" y1="372.05" x2="485.2" y2="372.05" stroke="#231f20" stroke-width="0.9" />
<text x="479.4" y="374.99" font-size="6.5" text-anchor="end" fill="#333333" stroke="#333333" stroke-width="0.06">1.5</text>
<line x1="482.4" y1="359.5" x2="485.2" y2="359.5" stroke="#231f20" stroke-width="0.9" />
<text x="479.4" y="362.44" font-size="6.5" text-anchor="end" fill="#333333" stroke="#333333" stroke-width="0.06">2.0</text>
<line x1="484.7" y1="409.7" x2="513.7" y2="409.7" stroke="#231f20" stroke-width="1" />
<rect x="489.3" y="377.07" width="7.7" height="32.63" fill="#aeb3bd" stroke="none" stroke-width="0.5" />
<rect x="501.2" y="407.69" width="7.7" height="2.01" fill="#b5def5" stroke="none" stroke-width="0.5" />
<line x1="493.15" y1="409.7" x2="493.15" y2="412.2" stroke="#231f20" stroke-width="0.7" />
<line x1="493.15" y1="370.79" x2="493.15" y2="383.34" stroke="#5d6270" stroke-width="0.6" />
<line x1="491.65" y1="370.79" x2="494.65" y2="370.79" stroke="#5d6270" stroke-width="0.6" />
<line x1="491.65" y1="383.34" x2="494.65" y2="383.34" stroke="#5d6270" stroke-width="0.6" />
<circle cx="491.61" cy="369.54" r="1.4" fill="none" stroke="#5d6270" stroke-width="0.6" />
<circle cx="493.36" cy="379.58" r="1.4" fill="none" stroke="#5d6270" stroke-width="0.6" />
<circle cx="494.39" cy="385.86" r="1.4" fill="none" stroke="#5d6270" stroke-width="0.6" />
<line x1="505.05" y1="409.7" x2="505.05" y2="412.2" stroke="#231f20" stroke-width="0.7" />
<line x1="505.05" y1="407.29" x2="505.05" y2="408.09" stroke="#29a9e1" stroke-width="0.6" />
<line x1="503.55" y1="407.29" x2="506.55" y2="407.29" stroke="#29a9e1" stroke-width="0.6" />
<line x1="503.55" y1="408.09" x2="506.55" y2="408.09" stroke="#29a9e1" stroke-width="0.6" />
<circle cx="503.31" cy="407.29" r="1.2" fill="#29a9e1" stroke="#29a9e1" stroke-width="0.6" />
<circle cx="505.09" cy="407.69" r="1.2" fill="#29a9e1" stroke="#29a9e1" stroke-width="0.6" />
<circle cx="506.77" cy="407.99" r="1.2" fill="#29a9e1" stroke="#29a9e1" stroke-width="0.6" />
<text x="496.15" y="417.7" font-size="6.2" text-anchor="end" transform="rotate(-45 496.15 417.7)" stroke="#231f20" stroke-width="0.06">Vehicle</text>
<text x="508.05" y="417.7" font-size="6.2" text-anchor="end" transform="rotate(-45 508.05 417.7)" stroke="#231f20" stroke-width="0.06">SN-89B</text>
<path d="M493.1,365.7 L493.1,363.5 L505.7,363.5 L505.7,365.7" fill="none" stroke="#231f20" stroke-width="0.8" />
<text x="499.4" y="362.7" font-size="6" text-anchor="middle" stroke="#231f20" stroke-width="0.06">*</text>
<text x="465.5" y="383.4" font-size="6.6" text-anchor="middle" textLength="50" lengthAdjust="spacingAndGlyphs" transform="rotate(-90 465.5 383.4)" stroke="#231f20" stroke-width="0.06">pGSK3β/GAPDH</text>
<defs><filter id="tv0" x="0" y="0" width="100%" height="100%"><feTurbulence type="fractalNoise" baseFrequency="0.3 1.2" numOctaves="2" seed="3"/><feColorMatrix type="matrix" values="1.7 0 0 0 -0.46  1.7 0 0 0 -0.46  1.7 0 0 0 -0.46  0 0 0 0 1"/></filter><filter id="ts0" x="0" y="0" width="100%" height="100%"><feTurbulence type="fractalNoise" baseFrequency="0.3 1.1" numOctaves="2" seed="11"/><feColorMatrix type="matrix" values="1.6 0 0 0 -0.33  1.6 0 0 0 -0.33  1.6 0 0 0 -0.33  0 0 0 0 1"/></filter><filter id="tv1" x="0" y="0" width="100%" height="100%"><feTurbulence type="fractalNoise" baseFrequency="0.3 1.2" numOctaves="2" seed="4"/><feColorMatrix type="matrix" values="1.7 0 0 0 -0.46  1.7 0 0 0 -0.46  1.7 0 0 0 -0.46  0 0 0 0 1"/></filter><filter id="ts1" x="0" y="0" width="100%" height="100%"><feTurbulence type="fractalNoise" baseFrequency="0.3 1.1" numOctaves="2" seed="12"/><feColorMatrix type="matrix" values="1.6 0 0 0 -0.33  1.6 0 0 0 -0.33  1.6 0 0 0 -0.33  0 0 0 0 1"/></filter><filter id="tv2" x="0" y="0" width="100%" height="100%"><feTurbulence type="fractalNoise" baseFrequency="0.3 1.2" numOctaves="2" seed="5"/><feColorMatrix type="matrix" values="1.7 0 0 0 -0.46  1.7 0 0 0 -0.46  1.7 0 0 0 -0.46  0 0 0 0 1"/></filter><filter id="ts2" x="0" y="0" width="100%" height="100%"><feTurbulence type="fractalNoise" baseFrequency="0.3 1.1" numOctaves="2" seed="13"/><feColorMatrix type="matrix" values="1.6 0 0 0 -0.33  1.6 0 0 0 -0.33  1.6 0 0 0 -0.33  0 0 0 0 1"/></filter><filter id="bl2" x="-20%" y="-50%" width="140%" height="200%"><feGaussianBlur stdDeviation="2"/></filter><filter id="bl3" x="-20%" y="-50%" width="140%" height="200%"><feGaussianBlur stdDeviation="0.35"/></filter></defs>
<text x="6.6" y="453.3" font-size="10.6" font-weight="bold" stroke="#231f20" stroke-width="0.06">K</text>
<text x="47.12" y="469.8" font-size="6.6" text-anchor="middle" stroke="#231f20" stroke-width="0.06">0s</text>
<text x="78.38" y="469.8" font-size="6.6" text-anchor="middle" stroke="#231f20" stroke-width="0.06">30s</text>
<text x="109.62" y="469.8" font-size="6.6" text-anchor="middle" stroke="#231f20" stroke-width="0.06">60s</text>
<text x="140.88" y="469.8" font-size="6.6" text-anchor="middle" stroke="#231f20" stroke-width="0.06">120s</text>
<text x="172.12" y="469.8" font-size="6.6" text-anchor="middle" stroke="#231f20" stroke-width="0.06">180s</text>
<text x="203.38" y="469.8" font-size="6.6" text-anchor="middle" stroke="#231f20" stroke-width="0.06">240s</text>
<text x="8.2" y="490" font-size="6.6" textLength="21" lengthAdjust="spacingAndGlyphs" stroke="#231f20" stroke-width="0.06">Vehicle</text>
<text x="5.8" y="521.2" font-size="6.6" textLength="22.5" lengthAdjust="spacingAndGlyphs" stroke="#231f20" stroke-width="0.06">SN-89B</text>
<clipPath id="k100"><rect x="32" y="472.2" width="30.25" height="30.3"/></clipPath>
<g clip-path="url(#k100)">
<rect x="32" y="472.2" width="30.25" height="30.3" fill="#6e6e6e" stroke="none" stroke-width="0.6" />
<g transform="rotate(-14 47.12 487.35)"><rect x="17.12" y="457.35" width="60" height="60" filter="url(#tv1)"/></g>
<rect x="27" y="481.29" width="40.25" height="15.15" fill="#101010" opacity="0.8" filter="url(#bl2)" transform="rotate(-6 47.12 487.35)"/>
<line x1="52.51" y1="478.95" x2="74.49" y2="472.14" stroke="rgb(30,30,30)" stroke-width="0.68" opacity="0.5"/>
<line x1="36.65" y1="476.27" x2="59.98" y2="467.95" stroke="rgb(235,235,235)" stroke-width="0.88" opacity="0.5"/>
<line x1="25.26" y1="485.71" x2="57.06" y2="475.15" stroke="rgb(245,245,245)" stroke-width="0.97" opacity="0.5"/>
<line x1="49.95" y1="485.34" x2="72.79" y2="479.93" stroke="rgb(30,30,30)" stroke-width="0.48" opacity="0.5"/>
<line x1="32.6" y1="507.51" x2="65.66" y2="496.31" stroke="rgb(225,225,225)" stroke-width="0.97" opacity="0.5"/>
<line x1="27.69" y1="492.92" x2="43.4" y2="489.24" stroke="rgb(245,245,245)" stroke-width="0.78" opacity="0.5"/>
<line x1="50.55" y1="505" x2="68.43" y2="499.74" stroke="rgb(30,30,30)" stroke-width="0.52" opacity="0.5"/>
</g>
<clipPath id="k200"><rect x="32" y="503.5" width="30.25" height="31"/></clipPath>
<g clip-path="url(#k200)">
<rect x="32" y="503.5" width="30.25" height="31" fill="#7a7a7a" stroke="none" stroke-width="0.6" />
<g transform="rotate(58 47.12 519)"><rect x="17.12" y="489" width="60" height="60" filter="url(#ts2)"/></g>
<rect x="27" y="509.7" width="40.25" height="11.16" fill="#2a2a2a" opacity="0.6" filter="url(#bl2)"/>
<line x1="48.84" y1="488.64" x2="62.41" y2="514.6" stroke="rgb(15,15,15)" stroke-width="0.94" opacity="0.5"/>
<line x1="48.57" y1="516.63" x2="60.89" y2="537.55" stroke="rgb(15,15,15)" stroke-width="0.82" opacity="0.5"/>
<line x1="51.73" y1="498.08" x2="68.1" y2="525.13" stroke="rgb(25,25,25)" stroke-width="0.52" opacity="0.5"/>
<line x1="32.54" y1="526.59" x2="42.13" y2="544.42" stroke="rgb(15,15,15)" stroke-width="0.68" opacity="0.5"/>
<line x1="42.13" y1="498.95" x2="50.82" y2="513.93" stroke="rgb(25,25,25)" stroke-width="0.92" opacity="0.5"/>
<line x1="43.08" y1="515.68" x2="54.59" y2="533.39" stroke="rgb(15,15,15)" stroke-width="0.74" opacity="0.5"/>
<line x1="41.56" y1="485.35" x2="61.92" y2="519.04" stroke="rgb(230,230,230)" stroke-width="0.79" opacity="0.5"/>
</g>
<clipPath id="k101"><rect x="63.25" y="472.2" width="30.25" height="30.3"/></clipPath>
<g clip-path="url(#k101)">
<rect x="63.25" y="472.2" width="30.25" height="30.3" fill="#6e6e6e" stroke="none" stroke-width="0.6" />
<g transform="rotate(-14 78.38 487.35)"><rect x="48.38" y="457.35" width="60" height="60" filter="url(#tv2)"/></g>
<rect x="58.25" y="481.29" width="40.25" height="15.15" fill="#101010" opacity="0.8" filter="url(#bl2)" transform="rotate(-6 78.38 487.35)"/>
<line x1="82.8" y1="492.47" x2="103.56" y2="485.07" stroke="rgb(235,235,235)" stroke-width="0.91" opacity="0.5"/>
<line x1="53.39" y1="484.6" x2="83.19" y2="474.75" stroke="rgb(235,235,235)" stroke-width="0.53" opacity="0.5"/>
<line x1="51.22" y1="477.35" x2="83.3" y2="467.5" stroke="rgb(225,225,225)" stroke-width="0.44" opacity="0.5"/>
<line x1="57.68" y1="501.9" x2="80.14" y2="493.94" stroke="rgb(225,225,225)" stroke-width="0.87" opacity="0.5"/>
<line x1="49.25" y1="503.02" x2="79.28" y2="495.16" stroke="rgb(225,225,225)" stroke-width="0.58" opacity="0.5"/>
<line x1="62.71" y1="487.5" x2="85.28" y2="481.6" stroke="rgb(40,40,40)" stroke-width="0.64" opacity="0.5"/>
<line x1="51.72" y1="477.66" x2="84.49" y2="467.62" stroke="rgb(20,20,20)" stroke-width="0.92" opacity="0.5"/>
<ellipse cx="77.2" cy="485.3" rx="11.75" ry="5" fill="#1f4a3e" opacity="0.35" filter="url(#bl)"/>
<path d="M86.55,485.3 C86.37,485.57 85.92,486.35 85.44,486.89 C84.95,487.43 84.62,488.11 83.65,488.54 C82.67,488.97 80.97,489.64 79.58,489.48 C78.19,489.32 76.55,487.97 75.3,487.56 C74.04,487.16 73.11,487.25 72.05,487.05 C70.99,486.85 69.47,486.67 68.91,486.38 C68.36,486.09 68.76,485.67 68.7,485.3 C68.63,484.93 68.07,484.5 68.52,484.17 C68.97,483.84 70.29,483.55 71.39,483.32 C72.48,483.1 73.76,483.11 75.1,482.8 C76.43,482.49 78.1,481.52 79.38,481.47 C80.66,481.42 81.58,482.16 82.77,482.5 C83.97,482.84 85.93,483.03 86.56,483.49 C87.19,483.96 86.55,485 86.55,485.3" fill="#ff1010" filter="url(#bl3)"/>
</g>
<clipPath id="k201"><rect x="63.25" y="503.5" width="30.25" height="31"/></clipPath>
<g clip-path="url(#k201)">
<rect x="63.25" y="503.5" width="30.25" height="31" fill="#7a7a7a" stroke="none" stroke-width="0.6" />
<g transform="rotate(58 78.38 519)"><rect x="48.38" y="489" width="60" height="60" filter="url(#ts0)"/></g>
<rect x="58.25" y="509.7" width="40.25" height="11.16" fill="#2a2a2a" opacity="0.6" filter="url(#bl2)"/>
<line x1="70.46" y1="520.06" x2="80.51" y2="538.65" stroke="rgb(15,15,15)" stroke-width="0.83" opacity="0.5"/>
<line x1="63.11" y1="506.39" x2="77.02" y2="530.29" stroke="rgb(40,40,40)" stroke-width="0.77" opacity="0.5"/>
<line x1="54.14" y1="492.3" x2="70.87" y2="525.69" stroke="rgb(230,230,230)" stroke-width="0.99" opacity="0.5"/>
<line x1="64.93" y1="502.84" x2="72.94" y2="517.91" stroke="rgb(15,15,15)" stroke-width="0.58" opacity="0.5"/>
<line x1="84.54" y1="514.72" x2="100.61" y2="542.56" stroke="rgb(15,15,15)" stroke-width="0.94" opacity="0.5"/>
<line x1="63.86" y1="491.69" x2="77.91" y2="516.3" stroke="rgb(230,230,230)" stroke-width="0.81" opacity="0.5"/>
<line x1="58.92" y1="501.99" x2="75.18" y2="529.43" stroke="rgb(230,230,230)" stroke-width="0.93" opacity="0.5"/>
<ellipse cx="81.5" cy="513.8" rx="8.75" ry="3.95" fill="#1f4a3e" opacity="0.35" filter="url(#bl)"/>
<path d="M88.87,513.8 C88.54,513.97 87.42,514.49 86.87,514.84 C86.32,515.18 86.21,515.56 85.59,515.85 C84.96,516.15 84.03,516.66 83.1,516.61 C82.17,516.56 80.92,515.8 80.03,515.55 C79.14,515.29 78.35,515.25 77.75,515.07 C77.14,514.9 76.78,514.68 76.38,514.47 C75.98,514.26 75.38,514.02 75.36,513.8 C75.35,513.58 75.93,513.34 76.3,513.12 C76.67,512.9 76.93,512.61 77.59,512.47 C78.24,512.33 79.33,512.45 80.21,512.27 C81.09,512.08 81.96,511.47 82.89,511.37 C83.81,511.27 84.91,511.47 85.75,511.67 C86.58,511.87 87.36,512.21 87.88,512.57 C88.4,512.92 88.71,513.59 88.87,513.8" fill="#ff1010" filter="url(#bl3)"/>
</g>
<clipPath id="k102"><rect x="94.5" y="472.2" width="30.25" height="30.3"/></clipPath>
<g clip-path="url(#k102)">
<rect x="94.5" y="472.2" width="30.25" height="30.3" fill="#6e6e6e" stroke="none" stroke-width="0.6" />
<g transform="rotate(-14 109.62 487.35)"><rect x="79.62" y="457.35" width="60" height="60" filter="url(#tv0)"/></g>
<rect x="89.5" y="481.29" width="40.25" height="15.15" fill="#101010" opacity="0.8" filter="url(#bl2)" transform="rotate(-6 109.62 487.35)"/>
<line x1="90.02" y1="494.18" x2="118.95" y2="484.48" stroke="rgb(30,30,30)" stroke-width="0.81" opacity="0.5"/>
<line x1="99.06" y1="474.25" x2="124.99" y2="467.29" stroke="rgb(40,40,40)" stroke-width="0.77" opacity="0.5"/>
<line x1="86.5" y1="501.25" x2="109.93" y2="494.57" stroke="rgb(235,235,235)" stroke-width="0.93" opacity="0.5"/>
<line x1="104.79" y1="494.67" x2="128.22" y2="487.96" stroke="rgb(20,20,20)" stroke-width="0.89" opacity="0.5"/>
<line x1="99.25" y1="490.29" x2="121.86" y2="483.74" stroke="rgb(30,30,30)" stroke-width="0.83" opacity="0.5"/>
<line x1="79.81" y1="485.57" x2="109.86" y2="477" stroke="rgb(20,20,20)" stroke-width="0.55" opacity="0.5"/>
<line x1="105.45" y1="479.12" x2="138.46" y2="468.97" stroke="rgb(245,245,245)" stroke-width="0.76" opacity="0.5"/>
<ellipse cx="109.2" cy="486" rx="13" ry="5.2" fill="#1f4a3e" opacity="0.35" filter="url(#bl)"/>
<path d="M119.05,486 C118.95,486.28 119,487.16 118.44,487.67 C117.88,488.18 116.85,488.73 115.68,489.06 C114.51,489.39 112.88,489.76 111.42,489.67 C109.97,489.57 108.46,488.75 106.96,488.49 C105.47,488.24 103.64,488.38 102.46,488.15 C101.27,487.93 100.27,487.51 99.85,487.15 C99.42,486.79 99.76,486.36 99.91,486 C100.05,485.64 100.25,485.3 100.73,484.96 C101.21,484.62 101.72,484.19 102.76,483.94 C103.8,483.7 105.47,483.82 106.95,483.49 C108.43,483.16 110.04,482.13 111.64,481.97 C113.24,481.81 115.15,482.19 116.55,482.53 C117.96,482.87 119.66,483.45 120.08,484.03 C120.5,484.61 119.22,485.67 119.05,486" fill="#ff1010" filter="url(#bl3)"/>
</g>
<clipPath id="k202"><rect x="94.5" y="503.5" width="30.25" height="31"/></clipPath>
<g clip-path="url(#k202)">
<rect x="94.5" y="503.5" width="30.25" height="31" fill="#7a7a7a" stroke="none" stroke-width="0.6" />
<g transform="rotate(58 109.62 519)"><rect x="79.62" y="489" width="60" height="60" filter="url(#ts1)"/></g>
<rect x="89.5" y="509.7" width="40.25" height="11.16" fill="#2a2a2a" opacity="0.6" filter="url(#bl2)"/>
<line x1="99.5" y1="493.95" x2="113.18" y2="521.71" stroke="rgb(40,40,40)" stroke-width="0.79" opacity="0.5"/>
<line x1="102.25" y1="524.82" x2="113.47" y2="542.72" stroke="rgb(40,40,40)" stroke-width="0.67" opacity="0.5"/>
<line x1="108.95" y1="497.56" x2="120.65" y2="517.67" stroke="rgb(230,230,230)" stroke-width="0.85" opacity="0.5"/>
<line x1="113.97" y1="521.17" x2="120.88" y2="532.22" stroke="rgb(40,40,40)" stroke-width="0.68" opacity="0.5"/>
<line x1="114.44" y1="501.23" x2="131.92" y2="536.2" stroke="rgb(35,35,35)" stroke-width="0.67" opacity="0.5"/>
<line x1="114.24" y1="493.8" x2="124.63" y2="510.06" stroke="rgb(25,25,25)" stroke-width="0.92" opacity="0.5"/>
<line x1="86.97" y1="494.25" x2="105.27" y2="523.08" stroke="rgb(25,25,25)" stroke-width="0.47" opacity="0.5"/>
<ellipse cx="110.7" cy="514.4" rx="8.5" ry="4.2" fill="#1f4a3e" opacity="0.35" filter="url(#bl)"/>
<path d="M117.83,514.4 C117.56,514.6 116.75,515.23 116.25,515.63 C115.75,516.03 115.55,516.55 114.85,516.79 C114.14,517.03 112.93,517.21 112.03,517.09 C111.14,516.97 110.34,516.27 109.47,516.08 C108.6,515.88 107.56,516.06 106.8,515.92 C106.03,515.79 105.16,515.52 104.91,515.27 C104.65,515.01 105.11,514.67 105.24,514.4 C105.37,514.13 105.29,513.86 105.66,513.64 C106.02,513.43 106.8,513.28 107.44,513.13 C108.08,512.98 108.72,513.02 109.5,512.76 C110.27,512.51 111.22,511.7 112.09,511.59 C112.97,511.47 113.98,511.82 114.73,512.07 C115.48,512.33 116.08,512.71 116.59,513.09 C117.11,513.48 117.62,514.18 117.83,514.4" fill="#ff1010" filter="url(#bl3)"/>
</g>
<clipPath id="k103"><rect x="125.75" y="472.2" width="30.25" height="30.3"/></clipPath>
<g clip-path="url(#k103)">
<rect x="125.75" y="472.2" width="30.25" height="30.3" fill="#6e6e6e" stroke="none" stroke-width="0.6" />
<g transform="rotate(-14 140.88 487.35)"><rect x="110.88" y="457.35" width="60" height="60" filter="url(#tv1)"/></g>
<rect x="120.75" y="481.29" width="40.25" height="15.15" fill="#101010" opacity="0.8" filter="url(#bl2)" transform="rotate(-6 140.88 487.35)"/>
<line x1="140.31" y1="498.87" x2="157.31" y2="492.89" stroke="rgb(245,245,245)" stroke-width="0.67" opacity="0.5"/>
<line x1="136.08" y1="488.65" x2="156.86" y2="483.24" stroke="rgb(235,235,235)" stroke-width="0.84" opacity="0.5"/>
<line x1="124.79" y1="501.24" x2="136.84" y2="497.28" stroke="rgb(225,225,225)" stroke-width="0.45" opacity="0.5"/>
<line x1="128.75" y1="483.59" x2="160.77" y2="476.13" stroke="rgb(20,20,20)" stroke-width="0.81" opacity="0.5"/>
<line x1="124.16" y1="500.98" x2="151.43" y2="494.49" stroke="rgb(235,235,235)" stroke-width="0.83" opacity="0.5"/>
<line x1="114.99" y1="481.44" x2="145.2" y2="472.82" stroke="rgb(30,30,30)" stroke-width="0.45" opacity="0.5"/>
<line x1="142.6" y1="499.85" x2="168.64" y2="493.56" stroke="rgb(40,40,40)" stroke-width="0.83" opacity="0.5"/>
<ellipse cx="141.2" cy="486.4" rx="11.25" ry="5.35" fill="#1f4a3e" opacity="0.35" filter="url(#bl)"/>
<path d="M150.28,486.4 C150.04,486.69 149.44,487.57 148.89,488.13 C148.33,488.69 147.92,489.42 146.94,489.76 C145.96,490.09 144.31,490.24 143.03,490.14 C141.75,490.03 140.32,489.43 139.23,489.12 C138.14,488.81 137.4,488.53 136.48,488.27 C135.57,488 134.47,487.84 133.75,487.53 C133.04,487.22 132.18,486.78 132.19,486.4 C132.2,486.02 133.13,485.6 133.81,485.28 C134.48,484.95 135.33,484.7 136.23,484.44 C137.14,484.17 138.05,484.07 139.23,483.67 C140.41,483.28 141.96,482.23 143.31,482.09 C144.66,481.95 146.35,482.4 147.32,482.82 C148.28,483.25 148.6,484.03 149.09,484.63 C149.59,485.22 150.08,486.1 150.28,486.4" fill="#ff1010" filter="url(#bl3)"/>
</g>
<clipPath id="k203"><rect x="125.75" y="503.5" width="30.25" height="31"/></clipPath>
<g clip-path="url(#k203)">
<rect x="125.75" y="503.5" width="30.25" height="31" fill="#7a7a7a" stroke="none" stroke-width="0.6" />
<g transform="rotate(58 140.88 519)"><rect x="110.88" y="489" width="60" height="60" filter="url(#ts2)"/></g>
<rect x="120.75" y="509.7" width="40.25" height="11.16" fill="#2a2a2a" opacity="0.6" filter="url(#bl2)"/>
<line x1="137.78" y1="528.91" x2="143.4" y2="540.41" stroke="rgb(15,15,15)" stroke-width="0.43" opacity="0.5"/>
<line x1="143.04" y1="520.13" x2="154.9" y2="538.23" stroke="rgb(35,35,35)" stroke-width="0.77" opacity="0.5"/>
<line x1="137.17" y1="527.92" x2="148.7" y2="546.44" stroke="rgb(25,25,25)" stroke-width="0.47" opacity="0.5"/>
<line x1="130.92" y1="487.85" x2="150.31" y2="520.94" stroke="rgb(40,40,40)" stroke-width="0.67" opacity="0.5"/>
<line x1="120.11" y1="485.91" x2="138.37" y2="516.33" stroke="rgb(40,40,40)" stroke-width="0.56" opacity="0.5"/>
<line x1="134.85" y1="500.97" x2="147.85" y2="527.5" stroke="rgb(230,230,230)" stroke-width="0.48" opacity="0.5"/>
<line x1="133.78" y1="503.52" x2="143.16" y2="522.39" stroke="rgb(40,40,40)" stroke-width="0.57" opacity="0.5"/>
<ellipse cx="139.7" cy="515.5" rx="6.5" ry="3.6" fill="#1f4a3e" opacity="0.35" filter="url(#bl)"/>
<path d="M143.89,515.5 C143.89,515.67 144.21,516.27 143.93,516.54 C143.64,516.81 142.73,516.88 142.2,517.1 C141.67,517.32 141.3,517.92 140.75,517.86 C140.2,517.8 139.51,516.93 138.89,516.73 C138.27,516.52 137.45,516.77 137.04,516.65 C136.63,516.54 136.62,516.24 136.44,516.04 C136.25,515.85 135.97,515.69 135.94,515.5 C135.92,515.31 136.05,515.1 136.28,514.93 C136.51,514.76 136.91,514.61 137.32,514.47 C137.73,514.32 138.19,514.26 138.75,514.07 C139.31,513.87 140.12,513.31 140.69,513.28 C141.27,513.25 141.74,513.68 142.2,513.9 C142.65,514.12 143.15,514.31 143.43,514.58 C143.71,514.85 143.81,515.35 143.89,515.5" fill="#ff1010" filter="url(#bl3)"/>
</g>
<clipPath id="k104"><rect x="157" y="472.2" width="30.25" height="30.3"/></clipPath>
<g clip-path="url(#k104)">
<rect x="157" y="472.2" width="30.25" height="30.3" fill="#6e6e6e" stroke="none" stroke-width="0.6" />
<g transform="rotate(-14 172.12 487.35)"><rect x="142.12" y="457.35" width="60" height="60" filter="url(#tv2)"/></g>
<rect x="152" y="481.29" width="40.25" height="15.15" fill="#101010" opacity="0.8" filter="url(#bl2)" transform="rotate(-6 172.12 487.35)"/>
<line x1="170.23" y1="480.09" x2="190.83" y2="474.84" stroke="rgb(20,20,20)" stroke-width="0.92" opacity="0.5"/>
<line x1="150.94" y1="476.25" x2="164.66" y2="472.83" stroke="rgb(20,20,20)" stroke-width="0.95" opacity="0.5"/>
<line x1="174.31" y1="493.75" x2="196.21" y2="486.87" stroke="rgb(40,40,40)" stroke-width="0.79" opacity="0.5"/>
<line x1="153.21" y1="474.47" x2="176.48" y2="466.89" stroke="rgb(235,235,235)" stroke-width="0.5" opacity="0.5"/>
<line x1="139.34" y1="476.13" x2="171.49" y2="465.05" stroke="rgb(30,30,30)" stroke-width="0.92" opacity="0.5"/>
<line x1="158.38" y1="505" x2="179.69" y2="500.44" stroke="rgb(30,30,30)" stroke-width="0.55" opacity="0.5"/>
<line x1="145.33" y1="498.36" x2="169.53" y2="492.47" stroke="rgb(30,30,30)" stroke-width="0.89" opacity="0.5"/>
<ellipse cx="172" cy="487.2" rx="10.75" ry="5.6" fill="#1f4a3e" opacity="0.35" filter="url(#bl)"/>
<path d="M180.62,487.2 C180.38,487.5 179.76,488.46 179.17,489.01 C178.57,489.57 177.96,490.16 177.06,490.54 C176.17,490.92 174.93,491.36 173.78,491.29 C172.62,491.22 171.18,490.47 170.13,490.12 C169.08,489.77 168.35,489.5 167.48,489.21 C166.61,488.93 165.33,488.75 164.92,488.41 C164.51,488.08 165,487.6 165.02,487.2 C165.04,486.8 164.63,486.35 165.03,486.01 C165.44,485.67 166.57,485.42 167.45,485.17 C168.33,484.93 169.24,484.86 170.29,484.53 C171.34,484.2 172.64,483.28 173.74,483.19 C174.84,483.1 175.98,483.61 176.89,483.98 C177.79,484.34 178.54,484.85 179.16,485.39 C179.78,485.92 180.38,486.9 180.62,487.2" fill="#ff1010" filter="url(#bl3)"/>
</g>
<clipPath id="k204"><rect x="157" y="503.5" width="30.25" height="31"/></clipPath>
<g clip-path="url(#k204)">
<rect x="157" y="503.5" width="30.25" height="31" fill="#7a7a7a" stroke="none" stroke-width="0.6" />
<g transform="rotate(58 172.12 519)"><rect x="142.12" y="489" width="60" height="60" filter="url(#ts0)"/></g>
<rect x="152" y="509.7" width="40.25" height="11.16" fill="#2a2a2a" opacity="0.6" filter="url(#bl2)"/>
<line x1="182.18" y1="497.78" x2="192.89" y2="518.72" stroke="rgb(40,40,40)" stroke-width="0.92" opacity="0.5"/>
<line x1="155.86" y1="530.44" x2="163.59" y2="542.14" stroke="rgb(15,15,15)" stroke-width="0.82" opacity="0.5"/>
<line x1="179.28" y1="498.63" x2="188.49" y2="513.57" stroke="rgb(230,230,230)" stroke-width="0.92" opacity="0.5"/>
<line x1="183.98" y1="509.18" x2="191.86" y2="525.1" stroke="rgb(25,25,25)" stroke-width="0.52" opacity="0.5"/>
<line x1="170.02" y1="521.69" x2="175.8" y2="533.32" stroke="rgb(35,35,35)" stroke-width="0.48" opacity="0.5"/>
<line x1="159.43" y1="497.92" x2="181.03" y2="530.58" stroke="rgb(230,230,230)" stroke-width="0.73" opacity="0.5"/>
<line x1="151.94" y1="500.83" x2="169.34" y2="534.55" stroke="rgb(40,40,40)" stroke-width="0.97" opacity="0.5"/>
<ellipse cx="170" cy="516.3" rx="6" ry="3.85" fill="#1f4a3e" opacity="0.35" filter="url(#bl)"/>
<path d="M174.21,516.3 C174.15,516.5 174.17,517.19 173.85,517.5 C173.53,517.81 172.76,517.91 172.28,518.15 C171.79,518.38 171.43,518.95 170.92,518.89 C170.4,518.84 169.77,518.03 169.21,517.82 C168.64,517.62 167.99,517.78 167.53,517.65 C167.07,517.53 166.62,517.27 166.45,517.05 C166.28,516.82 166.5,516.55 166.52,516.3 C166.54,516.05 166.35,515.77 166.57,515.58 C166.79,515.38 167.4,515.25 167.85,515.12 C168.29,514.99 168.71,515.05 169.22,514.81 C169.74,514.57 170.35,513.8 170.92,513.68 C171.5,513.57 172.2,513.89 172.68,514.13 C173.16,514.37 173.54,514.76 173.79,515.12 C174.05,515.48 174.14,516.1 174.21,516.3" fill="#ff1010" filter="url(#bl3)"/>
</g>
<clipPath id="k105"><rect x="188.25" y="472.2" width="30.25" height="30.3"/></clipPath>
<g clip-path="url(#k105)">
<rect x="188.25" y="472.2" width="30.25" height="30.3" fill="#6e6e6e" stroke="none" stroke-width="0.6" />
<g transform="rotate(-14 203.38 487.35)"><rect x="173.38" y="457.35" width="60" height="60" filter="url(#tv0)"/></g>
<rect x="183.25" y="481.29" width="40.25" height="15.15" fill="#101010" opacity="0.8" filter="url(#bl2)" transform="rotate(-6 203.38 487.35)"/>
<line x1="203.84" y1="506.23" x2="223.98" y2="501.26" stroke="rgb(235,235,235)" stroke-width="0.61" opacity="0.5"/>
<line x1="198.63" y1="481.28" x2="233.48" y2="469.15" stroke="rgb(40,40,40)" stroke-width="0.58" opacity="0.5"/>
<line x1="180.43" y1="488.02" x2="202.33" y2="481.61" stroke="rgb(225,225,225)" stroke-width="0.61" opacity="0.5"/>
<line x1="202.16" y1="495.94" x2="239.96" y2="486.89" stroke="rgb(245,245,245)" stroke-width="0.54" opacity="0.5"/>
<line x1="170.34" y1="484.87" x2="204.59" y2="477.3" stroke="rgb(235,235,235)" stroke-width="0.95" opacity="0.5"/>
<line x1="193.77" y1="505.29" x2="232.22" y2="496.98" stroke="rgb(40,40,40)" stroke-width="0.89" opacity="0.5"/>
<line x1="206.44" y1="504.71" x2="233.4" y2="497.51" stroke="rgb(245,245,245)" stroke-width="0.96" opacity="0.5"/>
</g>
<clipPath id="k205"><rect x="188.25" y="503.5" width="30.25" height="31"/></clipPath>
<g clip-path="url(#k205)">
<rect x="188.25" y="503.5" width="30.25" height="31" fill="#7a7a7a" stroke="none" stroke-width="0.6" />
<g transform="rotate(58 203.38 519)"><rect x="173.38" y="489" width="60" height="60" filter="url(#ts1)"/></g>
<rect x="183.25" y="509.7" width="40.25" height="11.16" fill="#2a2a2a" opacity="0.6" filter="url(#bl2)"/>
<line x1="182.86" y1="520.74" x2="194.79" y2="542.85" stroke="rgb(40,40,40)" stroke-width="0.69" opacity="0.5"/>
<line x1="188.62" y1="524.51" x2="196.15" y2="538.11" stroke="rgb(230,230,230)" stroke-width="0.51" opacity="0.5"/>
<line x1="202.44" y1="511.4" x2="220.92" y2="543.49" stroke="rgb(25,25,25)" stroke-width="0.75" opacity="0.5"/>
<line x1="191.66" y1="506.38" x2="198.93" y2="519.41" stroke="rgb(35,35,35)" stroke-width="0.78" opacity="0.5"/>
<line x1="202.69" y1="506.02" x2="216.55" y2="534.39" stroke="rgb(25,25,25)" stroke-width="0.58" opacity="0.5"/>
<line x1="184.89" y1="526.59" x2="193.97" y2="545.02" stroke="rgb(230,230,230)" stroke-width="0.76" opacity="0.5"/>
<line x1="212.8" y1="496.69" x2="220.05" y2="509.67" stroke="rgb(35,35,35)" stroke-width="0.89" opacity="0.5"/>
</g>
<text x="237.3" y="453.3" font-size="10.6" font-weight="bold" stroke="#231f20" stroke-width="0.06">L</text>
<line x1="260.4" y1="461.6" x2="260.4" y2="532.9" stroke="#231f20" stroke-width="1" />
<line x1="257.6" y1="532.9" x2="260.4" y2="532.9" stroke="#231f20" stroke-width="0.9" />
<text x="254.6" y="535.84" font-size="6.5" text-anchor="end" fill="#333333" stroke="#333333" stroke-width="0.06">0</text>
<line x1="257.6" y1="509.8" x2="260.4" y2="509.8" stroke="#231f20" stroke-width="0.9" />
<text x="254.6" y="512.74" font-size="6.5" text-anchor="end" fill="#333333" stroke="#333333" stroke-width="0.06">1</text>
<line x1="257.6" y1="486.7" x2="260.4" y2="486.7" stroke="#231f20" stroke-width="0.9" />
<text x="254.6" y="489.64" font-size="6.5" text-anchor="end" fill="#333333" stroke="#333333" stroke-width="0.06">2</text>
<line x1="257.6" y1="463.6" x2="260.4" y2="463.6" stroke="#231f20" stroke-width="0.9" />
<text x="254.6" y="466.54" font-size="6.5" text-anchor="end" fill="#333333" stroke="#333333" stroke-width="0.06">3</text>
<line x1="260.4" y1="532.9" x2="367.3" y2="532.9" stroke="#231f20" stroke-width="1" />
<line x1="260.4" y1="532.9" x2="260.4" y2="535.3" stroke="#231f20" stroke-width="0.9" />
<text x="260.4" y="544.98" font-size="6.5" text-anchor="middle" fill="#333333" stroke="#333333" stroke-width="0.06">0</text>
<line x1="286.5" y1="532.9" x2="286.5" y2="535.3" stroke="#231f20" stroke-width="0.9" />
<text x="286.5" y="544.98" font-size="6.5" text-anchor="middle" fill="#333333" stroke="#333333" stroke-width="0.06">60</text>
<line x1="312.6" y1="532.9" x2="312.6" y2="535.3" stroke="#231f20" stroke-width="0.9" />
<text x="312.6" y="544.98" font-size="6.5" text-anchor="middle" fill="#333333" stroke="#333333" stroke-width="0.06">120</text>
<line x1="338.7" y1="532.9" x2="338.7" y2="535.3" stroke="#231f20" stroke-width="0.9" />
<text x="338.7" y="544.98" font-size="6.5" text-anchor="middle" fill="#333333" stroke="#333333" stroke-width="0.06">180</text>
<line x1="364.8" y1="532.9" x2="364.8" y2="535.3" stroke="#231f20" stroke-width="0.9" />
<text x="364.8" y="544.98" font-size="6.5" text-anchor="middle" fill="#333333" stroke="#333333" stroke-width="0.06">240</text>
<polyline points="260.4,532.9 261.1,527.36 261.79,522.34 262.49,514.3 263.18,505.66 263.88,495.48 264.58,488.92 265.27,484.91 265.97,478.67 266.66,473.58 267.36,476.15 268.06,478.25 268.75,475.05 269.45,477.07 270.14,475.17 270.84,476.73 271.54,476.16 272.23,478.45 272.93,476.18 273.62,474.65 274.32,475.66 275.02,474.01 275.71,473.09 276.41,474.52 277.1,470.56 277.8,475.14 278.5,479.36 279.19,482.6 279.89,480.53 280.58,482.48 281.28,481.62 281.98,481.13 282.67,482.22 283.37,483.77 284.06,488.55 284.76,489.23 285.46,493.19 286.15,493.43 286.85,496.07 287.54,500.88 288.24,501.65 288.94,502.26 289.63,500.2 290.33,503.29 291.02,503.47 291.72,505.61 292.42,505.75 293.11,507.1 293.81,508.08 294.5,507.85 295.2,508.43 295.9,507.96 296.59,509.28 297.29,508.08 297.98,505.71 298.68,498.65 299.38,492.92 300.07,491.82 300.77,485.43 301.46,481.64 302.16,486.12 302.86,491.07 303.55,491.81 304.25,495.4 304.94,493.47 305.64,492.86 306.34,492.39 307.03,491.62 307.73,487.38 308.42,486.01 309.12,489.19 309.82,485.29 310.51,487.16 311.21,488.66 311.9,488.39 312.6,487.08 313.3,487.64 313.99,492.29 314.69,490.22 315.38,492.42 316.08,489.16 316.78,490.56 317.47,488.75 318.17,489.47 318.86,492.7 319.56,491.69 320.26,495.87 320.95,497.66 321.65,496.04 322.34,499.22 323.04,499.17 323.74,498.96 324.43,499.3 325.13,502.4 325.82,504.02 326.52,501.45 327.22,502.81 327.91,499.36 328.61,498.76 329.3,500.2 330,500.57 330.7,501.05 331.39,501.28 332.09,503.17 332.78,505.15 333.48,506.77 334.18,507.55 334.87,510.81 335.57,512.68 336.26,513.52 336.96,516.48 337.66,517.93 338.35,517.67 339.05,519.39 339.74,519.98 340.44,521.79 341.14,521.65 341.83,522.04 342.53,523.84 343.22,522.97 343.92,523.18 344.62,524.48 345.31,523.68 346.01,524.21 346.7,524.02 347.4,524.79 348.1,524.37 348.79,524.51 349.49,526.03 350.18,526.43 350.88,525.91 351.58,525.95 352.27,527.52 352.97,527.58 353.66,527.68 354.36,528.35 355.06,528.58 355.75,528.93 356.45,529.14 357.14,529.12 357.84,529.72 358.54,529.83 359.23,529.56 359.93,530.68 360.62,530.25 361.32,530.28 362.02,531 362.71,531.33 363.41,530.93 364.1,531.78 364.8,532.07 364.8,531.75" fill="none" stroke="#383a52" stroke-width="0.75" stroke-linejoin="round" />
<polyline points="260.4,532.9 261.1,530.8 261.79,528.58 262.49,526.33 263.18,523.83 263.88,521.1 264.58,520.55 265.27,520.75 265.97,522.48 266.66,520.96 267.36,519.32 268.06,517.74 268.75,513.76 269.45,511.92 270.14,507.7 270.84,505.12 271.54,501.31 272.23,498.19 272.93,496.9 273.62,493.26 274.32,492.69 275.02,490.73 275.71,491.2 276.41,494.01 277.1,493.42 277.8,496.82 278.5,495.86 279.19,497.02 279.89,497.04 280.58,494.2 281.28,496.59 281.98,496.94 282.67,494.9 283.37,494.87 284.06,496.3 284.76,493.87 285.46,496.01 286.15,496.6 286.85,499.07 287.54,497.65 288.24,499.15 288.94,499.08 289.63,500.04 290.33,502.47 291.02,502.96 291.72,504.16 292.42,504.87 293.11,505.73 293.81,505.78 294.5,505.73 295.2,507.94 295.9,507 296.59,508.54 297.29,509.15 297.98,508.16 298.68,509.13 299.38,509.7 300.07,509.52 300.77,509.74 301.46,512.41 302.16,511.73 302.86,514.71 303.55,514 304.25,514.56 304.94,516.81 305.64,516.13 306.34,517.39 307.03,517.36 307.73,518.67 308.42,518.93 309.12,519.04 309.82,517.22 310.51,517.79 311.21,516.08 311.9,515.8 312.6,516.27 313.3,517.8 313.99,518.25 314.69,518.45 315.38,518.54 316.08,520.12 316.78,519.62 317.47,520.06 318.17,520.49 318.86,522.2 319.56,521.41 320.26,523.1 320.95,523.26 321.65,523.41 322.34,523.53 323.04,524.77 323.74,524.56 324.43,525.38 325.13,526.01 325.82,526.36 326.52,526.87 327.22,527.33 327.91,527.61 328.61,527.36 329.3,527.34 330,528.46 330.7,528.85 331.39,528.24 332.09,528.96 332.78,529.34 333.48,529.71 334.18,529.61 334.87,529.63 335.57,530.17 336.26,530.41 336.96,530.92 337.66,530.42 338.35,531.3 339.05,531.12 339.74,531.04 340.44,531.75 341.14,531.48 341.83,531.47 342.53,531.81 343.22,531.81 343.92,532.4 344.62,532.28 345.31,532.58 346.01,532.22 346.7,532.67 347.4,532.66 348.1,532.38 348.79,532.57 349.49,532.58 349.57,532.9" fill="none" stroke="#3aa6dc" stroke-width="0.8" stroke-linejoin="round" />
<text x="312.5" y="557.3" font-size="7.5" text-anchor="middle" textLength="24.5" lengthAdjust="spacingAndGlyphs" stroke="#231f20" stroke-width="0.06">Time (s)</text>
<text x="245.6" y="501.8" font-size="7.2" text-anchor="middle" transform="rotate(-90 245.6 501.8)" stroke="#231f20" stroke-width="0.06">F Platelets (1 × 10<tspan font-size="4.4" dy="-2.8">3</tspan><tspan dy="2.8">)</tspan></text>
<text x="387.4" y="453.3" font-size="10.6" font-weight="bold" stroke="#231f20" stroke-width="0.06">M</text>
<line x1="414.5" y1="459.5" x2="414.5" y2="532.8" stroke="#231f20" stroke-width="1" />
<line x1="411.7" y1="532.8" x2="414.5" y2="532.8" stroke="#231f20" stroke-width="0.9" />
<text x="408.7" y="535.74" font-size="6.5" text-anchor="end" fill="#333333" stroke="#333333" stroke-width="0.06">0</text>
<line x1="411.7" y1="514.9" x2="414.5" y2="514.9" stroke="#231f20" stroke-width="0.9" />
<text x="408.7" y="517.84" font-size="6.5" text-anchor="end" fill="#333333" stroke="#333333" stroke-width="0.06">10</text>
<line x1="411.7" y1="497" x2="414.5" y2="497" stroke="#231f20" stroke-width="0.9" />
<text x="408.7" y="499.94" font-size="6.5" text-anchor="end" fill="#333333" stroke="#333333" stroke-width="0.06">20</text>
<line x1="411.7" y1="479.1" x2="414.5" y2="479.1" stroke="#231f20" stroke-width="0.9" />
<text x="408.7" y="482.04" font-size="6.5" text-anchor="end" fill="#333333" stroke="#333333" stroke-width="0.06">30</text>
<line x1="411.7" y1="461.2" x2="414.5" y2="461.2" stroke="#231f20" stroke-width="0.9" />
<text x="408.7" y="464.14" font-size="6.5" text-anchor="end" fill="#333333" stroke="#333333" stroke-width="0.06">40</text>
<circle cx="419.06" cy="510.42" r="1.25" fill="none" stroke="#55566a" stroke-width="0.55" />
<circle cx="420.22" cy="514.54" r="1.25" fill="none" stroke="#55566a" stroke-width="0.55" />
<circle cx="421.92" cy="521.52" r="1.25" fill="none" stroke="#55566a" stroke-width="0.55" />
<circle cx="418.86" cy="523.85" r="1.25" fill="none" stroke="#55566a" stroke-width="0.55" />
<circle cx="420.53" cy="525.64" r="1.25" fill="none" stroke="#55566a" stroke-width="0.55" />
<circle cx="421.69" cy="526.53" r="1.25" fill="none" stroke="#55566a" stroke-width="0.55" />
<circle cx="418.85" cy="527.43" r="1.25" fill="none" stroke="#55566a" stroke-width="0.55" />
<circle cx="420.51" cy="528.32" r="1.25" fill="none" stroke="#55566a" stroke-width="0.55" />
<circle cx="421.43" cy="529.22" r="1.25" fill="none" stroke="#55566a" stroke-width="0.55" />
<circle cx="419.15" cy="529.94" r="1.25" fill="none" stroke="#55566a" stroke-width="0.55" />
<circle cx="420.16" cy="530.65" r="1.25" fill="none" stroke="#55566a" stroke-width="0.55" />
<circle cx="421.47" cy="531.37" r="1.25" fill="none" stroke="#55566a" stroke-width="0.55" />
<circle cx="419.14" cy="531.9" r="1.25" fill="none" stroke="#55566a" stroke-width="0.55" />
<circle cx="420.76" cy="532.26" r="1.25" fill="none" stroke="#55566a" stroke-width="0.55" />
<circle cx="427" cy="508.1" r="1.25" fill="none" stroke="#4fb0e6" stroke-width="0.55" />
<circle cx="428.38" cy="524.57" r="1.25" fill="none" stroke="#4fb0e6" stroke-width="0.55" />
<circle cx="430" cy="525.64" r="1.25" fill="none" stroke="#4fb0e6" stroke-width="0.55" />
<circle cx="427.66" cy="526.89" r="1.25" fill="none" stroke="#4fb0e6" stroke-width="0.55" />
<circle cx="428.66" cy="528.15" r="1.25" fill="none" stroke="#4fb0e6" stroke-width="0.55" />
<circle cx="429.82" cy="529.04" r="1.25" fill="none" stroke="#4fb0e6" stroke-width="0.55" />
<circle cx="427.68" cy="529.94" r="1.25" fill="none" stroke="#4fb0e6" stroke-width="0.55" />
<circle cx="428.24" cy="530.65" r="1.25" fill="none" stroke="#4fb0e6" stroke-width="0.55" />
<circle cx="430.19" cy="531.19" r="1.25" fill="none" stroke="#4fb0e6" stroke-width="0.55" />
<circle cx="427.13" cy="531.73" r="1.25" fill="none" stroke="#4fb0e6" stroke-width="0.55" />
<circle cx="428.32" cy="532.26" r="1.25" fill="none" stroke="#4fb0e6" stroke-width="0.55" />
<line x1="417" y1="526.36" x2="424" y2="526.36" stroke="#3c3d52" stroke-width="0.9" />
<line x1="425.1" y1="529.22" x2="432.1" y2="529.22" stroke="#29a9e1" stroke-width="0.9" />
<line x1="420.5" y1="526.36" x2="420.5" y2="522.42" stroke="#3c3d52" stroke-width="0.6" />
<line x1="428.6" y1="529.22" x2="428.6" y2="526.36" stroke="#29a9e1" stroke-width="0.6" />
<line x1="416.2" y1="536.2" x2="432.3" y2="536.2" stroke="#231f20" stroke-width="0.9" />
<text x="424.55" y="542.7" font-size="6.6" text-anchor="middle" stroke="#231f20" stroke-width="0.06">30s</text>
<circle cx="436.09" cy="508.63" r="1.25" fill="none" stroke="#55566a" stroke-width="0.55" />
<circle cx="437.55" cy="509.53" r="1.25" fill="none" stroke="#55566a" stroke-width="0.55" />
<circle cx="439.25" cy="510.78" r="1.25" fill="none" stroke="#55566a" stroke-width="0.55" />
<circle cx="436.14" cy="512.04" r="1.25" fill="none" stroke="#55566a" stroke-width="0.55" />
<circle cx="437.77" cy="513.29" r="1.25" fill="none" stroke="#55566a" stroke-width="0.55" />
<circle cx="439.11" cy="514.54" r="1.25" fill="none" stroke="#55566a" stroke-width="0.55" />
<circle cx="436.3" cy="515.97" r="1.25" fill="none" stroke="#55566a" stroke-width="0.55" />
<circle cx="437.74" cy="517.94" r="1.25" fill="none" stroke="#55566a" stroke-width="0.55" />
<circle cx="438.65" cy="520.27" r="1.25" fill="none" stroke="#55566a" stroke-width="0.55" />
<circle cx="436.05" cy="522.95" r="1.25" fill="none" stroke="#55566a" stroke-width="0.55" />
<circle cx="437.46" cy="525.28" r="1.25" fill="none" stroke="#55566a" stroke-width="0.55" />
<circle cx="439.14" cy="527.43" r="1.25" fill="none" stroke="#55566a" stroke-width="0.55" />
<circle cx="436.34" cy="529.22" r="1.25" fill="none" stroke="#55566a" stroke-width="0.55" />
<circle cx="437.55" cy="530.65" r="1.25" fill="none" stroke="#55566a" stroke-width="0.55" />
<circle cx="439.07" cy="531.73" r="1.25" fill="none" stroke="#55566a" stroke-width="0.55" />
<circle cx="444.76" cy="504.16" r="1.25" fill="none" stroke="#4fb0e6" stroke-width="0.55" />
<circle cx="445.94" cy="505.95" r="1.25" fill="none" stroke="#4fb0e6" stroke-width="0.55" />
<circle cx="447.64" cy="507.74" r="1.25" fill="none" stroke="#4fb0e6" stroke-width="0.55" />
<circle cx="444.96" cy="510.25" r="1.25" fill="none" stroke="#4fb0e6" stroke-width="0.55" />
<circle cx="445.9" cy="513.11" r="1.25" fill="none" stroke="#4fb0e6" stroke-width="0.55" />
<circle cx="447.46" cy="515.79" r="1.25" fill="none" stroke="#4fb0e6" stroke-width="0.55" />
<circle cx="444.82" cy="518.48" r="1.25" fill="none" stroke="#4fb0e6" stroke-width="0.55" />
<circle cx="446.4" cy="521.16" r="1.25" fill="none" stroke="#4fb0e6" stroke-width="0.55" />
<circle cx="447.58" cy="522.95" r="1.25" fill="none" stroke="#4fb0e6" stroke-width="0.55" />
<circle cx="444.63" cy="524.75" r="1.25" fill="none" stroke="#4fb0e6" stroke-width="0.55" />
<circle cx="446.48" cy="526.53" r="1.25" fill="none" stroke="#4fb0e6" stroke-width="0.55" />
<circle cx="447.09" cy="528.32" r="1.25" fill="none" stroke="#4fb0e6" stroke-width="0.55" />
<circle cx="444.73" cy="530.12" r="1.25" fill="none" stroke="#4fb0e6" stroke-width="0.55" />
<circle cx="446.31" cy="531.37" r="1.25" fill="none" stroke="#4fb0e6" stroke-width="0.55" />
<line x1="434.2" y1="525.64" x2="441.2" y2="525.64" stroke="#3c3d52" stroke-width="0.9" />
<line x1="442.6" y1="525.64" x2="449.6" y2="525.64" stroke="#29a9e1" stroke-width="0.9" />
<line x1="437.7" y1="525.64" x2="437.7" y2="521.7" stroke="#3c3d52" stroke-width="0.6" />
<line x1="446.1" y1="525.64" x2="446.1" y2="522.78" stroke="#29a9e1" stroke-width="0.6" />
<line x1="433.4" y1="536.2" x2="449.8" y2="536.2" stroke="#231f20" stroke-width="0.9" />
<text x="441.9" y="542.7" font-size="6.6" text-anchor="middle" stroke="#231f20" stroke-width="0.06">60s</text>
<circle cx="453.82" cy="477.31" r="1.25" fill="none" stroke="#55566a" stroke-width="0.55" />
<circle cx="455.39" cy="486.26" r="1.25" fill="none" stroke="#55566a" stroke-width="0.55" />
<circle cx="456.33" cy="498.79" r="1.25" fill="none" stroke="#55566a" stroke-width="0.55" />
<circle cx="454.23" cy="507.74" r="1.25" fill="none" stroke="#55566a" stroke-width="0.55" />
<circle cx="455.61" cy="513.11" r="1.25" fill="none" stroke="#55566a" stroke-width="0.55" />
<circle cx="456.76" cy="518.48" r="1.25" fill="none" stroke="#55566a" stroke-width="0.55" />
<circle cx="454.4" cy="522.06" r="1.25" fill="none" stroke="#55566a" stroke-width="0.55" />
<circle cx="455.25" cy="524.75" r="1.25" fill="none" stroke="#55566a" stroke-width="0.55" />
<circle cx="456.86" cy="527.43" r="1.25" fill="none" stroke="#55566a" stroke-width="0.55" />
<circle cx="454.18" cy="529.22" r="1.25" fill="none" stroke="#55566a" stroke-width="0.55" />
<circle cx="455.46" cy="530.65" r="1.25" fill="none" stroke="#55566a" stroke-width="0.55" />
<circle cx="456.66" cy="531.9" r="1.25" fill="none" stroke="#55566a" stroke-width="0.55" />
<circle cx="462.47" cy="501.47" r="1.25" fill="none" stroke="#4fb0e6" stroke-width="0.55" />
<circle cx="463.86" cy="507.74" r="1.25" fill="none" stroke="#4fb0e6" stroke-width="0.55" />
<circle cx="464.78" cy="514.9" r="1.25" fill="none" stroke="#4fb0e6" stroke-width="0.55" />
<circle cx="462.33" cy="517.58" r="1.25" fill="none" stroke="#4fb0e6" stroke-width="0.55" />
<circle cx="463.15" cy="521.16" r="1.25" fill="none" stroke="#4fb0e6" stroke-width="0.55" />
<circle cx="464.96" cy="523.85" r="1.25" fill="none" stroke="#4fb0e6" stroke-width="0.55" />
<circle cx="462.32" cy="525.64" r="1.25" fill="none" stroke="#4fb0e6" stroke-width="0.55" />
<circle cx="463.89" cy="527.43" r="1.25" fill="none" stroke="#4fb0e6" stroke-width="0.55" />
<circle cx="465.06" cy="529.22" r="1.25" fill="none" stroke="#4fb0e6" stroke-width="0.55" />
<circle cx="462.03" cy="530.47" r="1.25" fill="none" stroke="#4fb0e6" stroke-width="0.55" />
<circle cx="463.41" cy="531.73" r="1.25" fill="none" stroke="#4fb0e6" stroke-width="0.55" />
<line x1="451.9" y1="524.57" x2="458.9" y2="524.57" stroke="#3c3d52" stroke-width="0.9" />
<line x1="460" y1="527.43" x2="467" y2="527.43" stroke="#29a9e1" stroke-width="0.9" />
<line x1="455.4" y1="524.57" x2="455.4" y2="520.63" stroke="#3c3d52" stroke-width="0.6" />
<line x1="463.5" y1="527.43" x2="463.5" y2="524.57" stroke="#29a9e1" stroke-width="0.6" />
<line x1="451.1" y1="536.2" x2="467.2" y2="536.2" stroke="#231f20" stroke-width="0.9" />
<text x="459.45" y="542.7" font-size="6.6" text-anchor="middle" stroke="#231f20" stroke-width="0.06">120s</text>
<circle cx="471.13" cy="499.68" r="1.25" fill="none" stroke="#55566a" stroke-width="0.55" />
<circle cx="471.92" cy="520.27" r="1.25" fill="none" stroke="#55566a" stroke-width="0.55" />
<circle cx="473.57" cy="525.64" r="1.25" fill="none" stroke="#55566a" stroke-width="0.55" />
<circle cx="470.73" cy="527.43" r="1.25" fill="none" stroke="#55566a" stroke-width="0.55" />
<circle cx="471.99" cy="528.86" r="1.25" fill="none" stroke="#55566a" stroke-width="0.55" />
<circle cx="473.25" cy="530.12" r="1.25" fill="none" stroke="#55566a" stroke-width="0.55" />
<circle cx="471.21" cy="531.01" r="1.25" fill="none" stroke="#55566a" stroke-width="0.55" />
<circle cx="472" cy="531.9" r="1.25" fill="none" stroke="#55566a" stroke-width="0.55" />
<circle cx="473.4" cy="532.44" r="1.25" fill="none" stroke="#55566a" stroke-width="0.55" />
<circle cx="479.41" cy="525.28" r="1.25" fill="none" stroke="#4fb0e6" stroke-width="0.55" />
<circle cx="481.1" cy="527.43" r="1.25" fill="none" stroke="#4fb0e6" stroke-width="0.55" />
<circle cx="481.76" cy="529.22" r="1.25" fill="none" stroke="#4fb0e6" stroke-width="0.55" />
<circle cx="479.46" cy="530.47" r="1.25" fill="none" stroke="#4fb0e6" stroke-width="0.55" />
<circle cx="480.84" cy="531.37" r="1.25" fill="none" stroke="#4fb0e6" stroke-width="0.55" />
<circle cx="482.41" cy="532.08" r="1.25" fill="none" stroke="#4fb0e6" stroke-width="0.55" />
<line x1="468.8" y1="529.22" x2="475.8" y2="529.22" stroke="#3c3d52" stroke-width="0.9" />
<line x1="477.3" y1="531.01" x2="484.3" y2="531.01" stroke="#29a9e1" stroke-width="0.9" />
<line x1="472.3" y1="529.22" x2="472.3" y2="525.28" stroke="#3c3d52" stroke-width="0.6" />
<line x1="480.8" y1="531.01" x2="480.8" y2="528.15" stroke="#29a9e1" stroke-width="0.6" />
<line x1="468" y1="536.2" x2="484.5" y2="536.2" stroke="#231f20" stroke-width="0.9" />
<text x="476.55" y="542.7" font-size="6.6" text-anchor="middle" stroke="#231f20" stroke-width="0.06">180s</text>
<circle cx="487.86" cy="512.57" r="1.25" fill="none" stroke="#55566a" stroke-width="0.55" />
<circle cx="489.19" cy="522.78" r="1.25" fill="none" stroke="#55566a" stroke-width="0.55" />
<circle cx="490.02" cy="527.43" r="1.25" fill="none" stroke="#55566a" stroke-width="0.55" />
<circle cx="487.53" cy="529.22" r="1.25" fill="none" stroke="#55566a" stroke-width="0.55" />
<circle cx="488.79" cy="530.47" r="1.25" fill="none" stroke="#55566a" stroke-width="0.55" />
<circle cx="490.51" cy="531.55" r="1.25" fill="none" stroke="#55566a" stroke-width="0.55" />
<circle cx="487.97" cy="532.26" r="1.25" fill="none" stroke="#55566a" stroke-width="0.55" />
<circle cx="496.12" cy="521.16" r="1.25" fill="none" stroke="#4fb0e6" stroke-width="0.55" />
<circle cx="497.44" cy="527.43" r="1.25" fill="none" stroke="#4fb0e6" stroke-width="0.55" />
<circle cx="498.79" cy="529.22" r="1.25" fill="none" stroke="#4fb0e6" stroke-width="0.55" />
<circle cx="496.19" cy="530.65" r="1.25" fill="none" stroke="#4fb0e6" stroke-width="0.55" />
<circle cx="497.69" cy="531.73" r="1.25" fill="none" stroke="#4fb0e6" stroke-width="0.55" />
<circle cx="499.07" cy="532.44" r="1.25" fill="none" stroke="#4fb0e6" stroke-width="0.55" />
<line x1="485.4" y1="531.01" x2="492.4" y2="531.01" stroke="#3c3d52" stroke-width="0.9" />
<line x1="494.2" y1="531.9" x2="501.2" y2="531.9" stroke="#29a9e1" stroke-width="0.9" />
<line x1="488.9" y1="531.01" x2="488.9" y2="527.07" stroke="#3c3d52" stroke-width="0.6" />
<line x1="497.7" y1="531.9" x2="497.7" y2="529.04" stroke="#29a9e1" stroke-width="0.6" />
<line x1="484.6" y1="536.2" x2="501.4" y2="536.2" stroke="#231f20" stroke-width="0.9" />
<text x="493.3" y="542.7" font-size="6.6" text-anchor="middle" stroke="#231f20" stroke-width="0.06">240s</text>
<line x1="414.5" y1="532.8" x2="505.8" y2="532.8" stroke="#24364a" stroke-width="1.2" />
<path d="M419.5,497.2 L419.5,494.8 L429.6,494.8 L429.6,497.2" fill="none" stroke="#231f20" stroke-width="0.8" />
<text x="424.55" y="493.8" font-size="6" text-anchor="middle" stroke="#231f20" stroke-width="0.06">*</text>
<path d="M472,496.8 L472,494.4 L481.4,494.4 L481.4,496.8" fill="none" stroke="#231f20" stroke-width="0.8" />
<text x="476.7" y="493.4" font-size="6" text-anchor="middle" stroke="#231f20" stroke-width="0.06">*</text>
<path d="M488.4,507 L488.4,504.6 L498.4,504.6 L498.4,507" fill="none" stroke="#231f20" stroke-width="0.8" />
<text x="493.4" y="503.6" font-size="6" text-anchor="middle" stroke="#231f20" stroke-width="0.06">*</text>
<circle cx="428.1" cy="463.8" r="1.2" fill="none" stroke="#55566a" stroke-width="0.55" />
<text x="432.2" y="466.2" font-size="6.6" textLength="20.3" lengthAdjust="spacingAndGlyphs" stroke="#231f20" stroke-width="0.06">Vehicle</text>
<circle cx="463.9" cy="463.8" r="1.2" fill="none" stroke="#4fb0e6" stroke-width="0.55" />
<text x="468.1" y="466.2" font-size="6.6" textLength="21.8" lengthAdjust="spacingAndGlyphs" stroke="#231f20" stroke-width="0.06">SN-89B</text>
<text x="395.5" y="497.5" font-size="7.2" text-anchor="middle" transform="rotate(-90 395.5 497.5)" stroke="#231f20" stroke-width="0.06">F Platelets (1 × 10<tspan font-size="4.4" dy="-2.8">3</tspan><tspan dy="2.8">)</tspan></text>
<text x="57" y="580.1" font-size="10.6" font-weight="bold" stroke="#231f20" stroke-width="0.06">N</text>
<line x1="86.5" y1="594.6" x2="86.5" y2="675.5" stroke="#231f20" stroke-width="1" />
<line x1="83.7" y1="675.5" x2="86.5" y2="675.5" stroke="#231f20" stroke-width="0.9" />
<text x="80.7" y="678.44" font-size="6.5" text-anchor="end" fill="#333333" stroke="#333333" stroke-width="0.06">0</text>
<line x1="83.7" y1="649" x2="86.5" y2="649" stroke="#231f20" stroke-width="0.9" />
<text x="80.7" y="651.94" font-size="6.5" text-anchor="end" fill="#333333" stroke="#333333" stroke-width="0.06">200</text>
<line x1="83.7" y1="622.5" x2="86.5" y2="622.5" stroke="#231f20" stroke-width="0.9" />
<text x="80.7" y="625.44" font-size="6.5" text-anchor="end" fill="#333333" stroke="#333333" stroke-width="0.06">400</text>
<line x1="83.7" y1="596" x2="86.5" y2="596" stroke="#231f20" stroke-width="0.9" />
<text x="80.7" y="598.94" font-size="6.5" text-anchor="end" fill="#333333" stroke="#333333" stroke-width="0.06">600</text>
<line x1="86" y1="675.5" x2="138.5" y2="675.5" stroke="#231f20" stroke-width="1" />
<rect x="94.8" y="650.86" width="13.8" height="24.64" fill="#aeb3bd" stroke="none" stroke-width="0.5" />
<rect x="117.2" y="634.82" width="13.8" height="40.68" fill="#b5def5" stroke="none" stroke-width="0.5" />
<line x1="101.7" y1="675.5" x2="101.7" y2="678" stroke="#231f20" stroke-width="0.7" />
<line x1="101.7" y1="648.34" x2="101.7" y2="653.64" stroke="#5d6270" stroke-width="0.6" />
<line x1="100.2" y1="648.34" x2="103.2" y2="648.34" stroke="#5d6270" stroke-width="0.6" />
<line x1="100.2" y1="653.64" x2="103.2" y2="653.64" stroke="#5d6270" stroke-width="0.6" />
<circle cx="98.66" cy="643.7" r="1.4" fill="none" stroke="#5d6270" stroke-width="0.6" />
<circle cx="101.75" cy="648.34" r="1.4" fill="none" stroke="#5d6270" stroke-width="0.6" />
<circle cx="105.04" cy="649" r="1.4" fill="none" stroke="#5d6270" stroke-width="0.6" />
<circle cx="98.67" cy="649" r="1.4" fill="none" stroke="#5d6270" stroke-width="0.6" />
<circle cx="101.71" cy="649.26" r="1.4" fill="none" stroke="#5d6270" stroke-width="0.6" />
<circle cx="104.77" cy="651.65" r="1.4" fill="none" stroke="#5d6270" stroke-width="0.6" />
<circle cx="98.45" cy="657.61" r="1.4" fill="none" stroke="#5d6270" stroke-width="0.6" />
<line x1="124.1" y1="675.5" x2="124.1" y2="678" stroke="#231f20" stroke-width="0.7" />
<line x1="124.1" y1="628.2" x2="124.1" y2="641.45" stroke="#29a9e1" stroke-width="0.6" />
<line x1="122.6" y1="628.2" x2="125.6" y2="628.2" stroke="#29a9e1" stroke-width="0.6" />
<line x1="122.6" y1="641.45" x2="125.6" y2="641.45" stroke="#29a9e1" stroke-width="0.6" />
<circle cx="121.08" cy="605.27" r="1.3" fill="#29a9e1" stroke="#29a9e1" stroke-width="0.6" />
<circle cx="124.23" cy="620.51" r="1.3" fill="#29a9e1" stroke="#29a9e1" stroke-width="0.6" />
<circle cx="127.23" cy="627.8" r="1.3" fill="#29a9e1" stroke="#29a9e1" stroke-width="0.6" />
<circle cx="120.81" cy="637.08" r="1.3" fill="#29a9e1" stroke="#29a9e1" stroke-width="0.6" />
<circle cx="123.71" cy="639.73" r="1.3" fill="#29a9e1" stroke="#29a9e1" stroke-width="0.6" />
<circle cx="127" cy="643.04" r="1.3" fill="#29a9e1" stroke="#29a9e1" stroke-width="0.6" />
<circle cx="120.92" cy="649" r="1.3" fill="#29a9e1" stroke="#29a9e1" stroke-width="0.6" />
<circle cx="124.35" cy="649" r="1.3" fill="#29a9e1" stroke="#29a9e1" stroke-width="0.6" />
<text x="104.7" y="684" font-size="6.5" text-anchor="end" transform="rotate(-45 104.7 684)" stroke="#231f20" stroke-width="0.06">Vehicle</text>
<text x="127.1" y="684" font-size="6.5" text-anchor="end" transform="rotate(-45 127.1 684)" stroke="#231f20" stroke-width="0.06">SN-89B</text>
<path d="M100.7,601.9 L100.7,599.1 L124.7,599.1 L124.7,601.9" fill="none" stroke="#231f20" stroke-width="0.8" />
<text x="112.9" y="598.2" font-size="6" text-anchor="middle" stroke="#231f20" stroke-width="0.06">*</text>
<text x="63.5" y="631.5" font-size="7.4" text-anchor="middle" textLength="62" lengthAdjust="spacingAndGlyphs" transform="rotate(-90 63.5 631.5)" stroke="#231f20" stroke-width="0.06">Time to occlusion (s)</text>
<text x="157.3" y="580.1" font-size="10.6" font-weight="bold" stroke="#231f20" stroke-width="0.06">O</text>
<line x1="201.5" y1="593.7" x2="201.5" y2="675.5" stroke="#231f20" stroke-width="1" />
<line x1="198.7" y1="675.5" x2="201.5" y2="675.5" stroke="#231f20" stroke-width="0.9" />
<text x="195.7" y="678.44" font-size="6.5" text-anchor="end" fill="#333333" stroke="#333333" stroke-width="0.06">0</text>
<line x1="198.7" y1="659.56" x2="201.5" y2="659.56" stroke="#231f20" stroke-width="0.9" />
<text x="195.7" y="662.5" font-size="6.5" text-anchor="end" fill="#333333" stroke="#333333" stroke-width="0.06">200</text>
<line x1="198.7" y1="643.62" x2="201.5" y2="643.62" stroke="#231f20" stroke-width="0.9" />
<text x="195.7" y="646.56" font-size="6.5" text-anchor="end" fill="#333333" stroke="#333333" stroke-width="0.06">400</text>
<line x1="198.7" y1="627.68" x2="201.5" y2="627.68" stroke="#231f20" stroke-width="0.9" />
<text x="195.7" y="630.62" font-size="6.5" text-anchor="end" fill="#333333" stroke="#333333" stroke-width="0.06">600</text>
<line x1="198.7" y1="611.74" x2="201.5" y2="611.74" stroke="#231f20" stroke-width="0.9" />
<text x="195.7" y="614.68" font-size="6.5" text-anchor="end" fill="#333333" stroke="#333333" stroke-width="0.06">800</text>
<line x1="198.7" y1="595.8" x2="201.5" y2="595.8" stroke="#231f20" stroke-width="0.9" />
<text x="195.7" y="598.74" font-size="6.5" text-anchor="end" fill="#333333" stroke="#333333" stroke-width="0.06">1000</text>
<line x1="201" y1="675.5" x2="253.7" y2="675.5" stroke="#231f20" stroke-width="1" />
<rect x="207.1" y="645.21" width="9.5" height="30.29" fill="#aeb3bd" stroke="none" stroke-width="0.5" />
<rect x="223" y="644.02" width="9.5" height="31.48" fill="#b5def5" stroke="none" stroke-width="0.5" />
<rect x="238.9" y="607.99" width="10.1" height="67.51" fill="#fbd680" stroke="none" stroke-width="0.5" />
<line x1="211.85" y1="675.5" x2="211.85" y2="678" stroke="#231f20" stroke-width="0.7" />
<line x1="211.85" y1="638.04" x2="211.85" y2="651.59" stroke="#5d6270" stroke-width="0.6" />
<line x1="210.35" y1="638.04" x2="213.35" y2="638.04" stroke="#5d6270" stroke-width="0.6" />
<line x1="210.35" y1="651.59" x2="213.35" y2="651.59" stroke="#5d6270" stroke-width="0.6" />
<circle cx="208.66" cy="606.96" r="1.4" fill="none" stroke="#5d6270" stroke-width="0.6" />
<circle cx="212" cy="608.55" r="1.4" fill="none" stroke="#5d6270" stroke-width="0.6" />
<circle cx="215" cy="612.54" r="1.4" fill="none" stroke="#5d6270" stroke-width="0.6" />
<circle cx="209.13" cy="617.32" r="1.4" fill="none" stroke="#5d6270" stroke-width="0.6" />
<circle cx="211.6" cy="619.71" r="1.4" fill="none" stroke="#5d6270" stroke-width="0.6" />
<circle cx="214.63" cy="638.84" r="1.4" fill="none" stroke="#5d6270" stroke-width="0.6" />
<circle cx="208.57" cy="639.63" r="1.4" fill="none" stroke="#5d6270" stroke-width="0.6" />
<circle cx="211.63" cy="649.2" r="1.4" fill="none" stroke="#5d6270" stroke-width="0.6" />
<circle cx="215.04" cy="658.76" r="1.4" fill="none" stroke="#5d6270" stroke-width="0.6" />
<circle cx="208.55" cy="669.12" r="1.4" fill="none" stroke="#5d6270" stroke-width="0.6" />
<circle cx="211.88" cy="670.72" r="1.4" fill="none" stroke="#5d6270" stroke-width="0.6" />
<circle cx="214.62" cy="672.31" r="1.4" fill="none" stroke="#5d6270" stroke-width="0.6" />
<line x1="227.75" y1="675.5" x2="227.75" y2="678" stroke="#231f20" stroke-width="0.7" />
<line x1="227.75" y1="636.45" x2="227.75" y2="651.59" stroke="#29a9e1" stroke-width="0.6" />
<line x1="226.25" y1="636.45" x2="229.25" y2="636.45" stroke="#29a9e1" stroke-width="0.6" />
<line x1="226.25" y1="651.59" x2="229.25" y2="651.59" stroke="#29a9e1" stroke-width="0.6" />
<circle cx="224.44" cy="603.77" r="1.3" fill="#29a9e1" stroke="#29a9e1" stroke-width="0.6" />
<circle cx="227.91" cy="613.33" r="1.3" fill="#29a9e1" stroke="#29a9e1" stroke-width="0.6" />
<circle cx="230.87" cy="614.93" r="1.3" fill="#29a9e1" stroke="#29a9e1" stroke-width="0.6" />
<circle cx="225.1" cy="626.88" r="1.3" fill="#29a9e1" stroke="#29a9e1" stroke-width="0.6" />
<circle cx="227.57" cy="627.68" r="1.3" fill="#29a9e1" stroke="#29a9e1" stroke-width="0.6" />
<circle cx="230.55" cy="637.24" r="1.3" fill="#29a9e1" stroke="#29a9e1" stroke-width="0.6" />
<circle cx="224.94" cy="645.21" r="1.3" fill="#29a9e1" stroke="#29a9e1" stroke-width="0.6" />
<circle cx="227.88" cy="651.59" r="1.3" fill="#29a9e1" stroke="#29a9e1" stroke-width="0.6" />
<circle cx="230.59" cy="661.15" r="1.3" fill="#29a9e1" stroke="#29a9e1" stroke-width="0.6" />
<circle cx="224.9" cy="667.53" r="1.3" fill="#29a9e1" stroke="#29a9e1" stroke-width="0.6" />
<circle cx="227.67" cy="671.51" r="1.3" fill="#29a9e1" stroke="#29a9e1" stroke-width="0.6" />
<circle cx="230.97" cy="673.11" r="1.3" fill="#29a9e1" stroke="#29a9e1" stroke-width="0.6" />
<line x1="243.95" y1="675.5" x2="243.95" y2="678" stroke="#231f20" stroke-width="0.7" />
<line x1="243.95" y1="603.77" x2="243.95" y2="611.74" stroke="#f7b52c" stroke-width="0.6" />
<line x1="242.45" y1="603.77" x2="245.45" y2="603.77" stroke="#f7b52c" stroke-width="0.6" />
<line x1="242.45" y1="611.74" x2="245.45" y2="611.74" stroke="#f7b52c" stroke-width="0.6" />
<circle cx="241.32" cy="603.77" r="1.4" fill="none" stroke="#f7b52c" stroke-width="0.6" />
<circle cx="243.56" cy="603.77" r="1.4" fill="none" stroke="#f7b52c" stroke-width="0.6" />
<circle cx="247.14" cy="603.77" r="1.4" fill="none" stroke="#f7b52c" stroke-width="0.6" />
<circle cx="240.68" cy="603.77" r="1.4" fill="none" stroke="#f7b52c" stroke-width="0.6" />
<circle cx="244.34" cy="603.77" r="1.4" fill="none" stroke="#f7b52c" stroke-width="0.6" />
<circle cx="246.56" cy="603.77" r="1.4" fill="none" stroke="#f7b52c" stroke-width="0.6" />
<circle cx="241.25" cy="611.74" r="1.4" fill="none" stroke="#f7b52c" stroke-width="0.6" />
<circle cx="244.1" cy="619.71" r="1.4" fill="none" stroke="#f7b52c" stroke-width="0.6" />
<circle cx="247.24" cy="623.7" r="1.4" fill="none" stroke="#f7b52c" stroke-width="0.6" />
<text x="214.85" y="684" font-size="6.5" text-anchor="end" transform="rotate(-45 214.85 684)" stroke="#231f20" stroke-width="0.06">Vehicle</text>
<text x="230.75" y="684" font-size="6.5" text-anchor="end" transform="rotate(-45 230.75 684)" stroke="#231f20" stroke-width="0.06">SN-89B</text>
<text x="246.95" y="684" font-size="6.5" text-anchor="end" transform="rotate(-45 246.95 684)" stroke="#231f20" stroke-width="0.06">Ticagrelor</text>
<rect x="238.9" y="602.3" width="10.1" height="3" fill="#f7b52c" stroke="none" stroke-width="0.6" />
<path d="M211.3,599.9 L211.3,597.1 L227.9,597.1 L227.9,599.9" fill="none" stroke="#231f20" stroke-width="0.8" />
<text x="218.1" y="595.6" font-size="6.2" text-anchor="middle" stroke="#231f20" stroke-width="0.06">ns</text>
<path d="M211.3,593.3 L211.3,590.5 L244.1,590.5 L244.1,593.3" fill="none" stroke="#231f20" stroke-width="0.8" />
<text x="228.3" y="590" font-size="6" text-anchor="middle" stroke="#231f20" stroke-width="0.06">***</text>
<path d="M227.9,584.9 L227.9,582.1 L244.1,582.1 L244.1,584.9" fill="none" stroke="#231f20" stroke-width="0.8" />
<text x="235.7" y="581.6" font-size="6" text-anchor="middle" stroke="#231f20" stroke-width="0.06">***</text>
<text x="165.4" y="633" font-size="7.4" text-anchor="middle" textLength="35" lengthAdjust="spacingAndGlyphs" transform="rotate(-90 165.4 633)" stroke="#231f20" stroke-width="0.06">Cumulative</text>
<text x="174.6" y="633" font-size="7.4" text-anchor="middle" textLength="52" lengthAdjust="spacingAndGlyphs" transform="rotate(-90 174.6 633)" stroke="#231f20" stroke-width="0.06">bleeding time (s)</text>
<text x="272" y="580.1" font-size="10.6" font-weight="bold" stroke="#231f20" stroke-width="0.06">P</text>
<line x1="316.5" y1="593.7" x2="316.5" y2="675.5" stroke="#231f20" stroke-width="1" />
<line x1="313.7" y1="675.5" x2="316.5" y2="675.5" stroke="#231f20" stroke-width="0.9" />
<text x="310.7" y="678.44" font-size="6.5" text-anchor="end" fill="#333333" stroke="#333333" stroke-width="0.06">0</text>
<line x1="313.7" y1="659.56" x2="316.5" y2="659.56" stroke="#231f20" stroke-width="0.9" />
<text x="310.7" y="662.5" font-size="6.5" text-anchor="end" fill="#333333" stroke="#333333" stroke-width="0.06">200</text>
<line x1="313.7" y1="643.62" x2="316.5" y2="643.62" stroke="#231f20" stroke-width="0.9" />
<text x="310.7" y="646.56" font-size="6.5" text-anchor="end" fill="#333333" stroke="#333333" stroke-width="0.06">400</text>
<line x1="313.7" y1="627.68" x2="316.5" y2="627.68" stroke="#231f20" stroke-width="0.9" />
<text x="310.7" y="630.62" font-size="6.5" text-anchor="end" fill="#333333" stroke="#333333" stroke-width="0.06">600</text>
<line x1="313.7" y1="611.74" x2="316.5" y2="611.74" stroke="#231f20" stroke-width="0.9" />
<text x="310.7" y="614.68" font-size="6.5" text-anchor="end" fill="#333333" stroke="#333333" stroke-width="0.06">800</text>
<line x1="313.7" y1="595.8" x2="316.5" y2="595.8" stroke="#231f20" stroke-width="0.9" />
<text x="310.7" y="598.74" font-size="6.5" text-anchor="end" fill="#333333" stroke="#333333" stroke-width="0.06">1000</text>
<line x1="316" y1="675.5" x2="368.4" y2="675.5" stroke="#231f20" stroke-width="1" />
<rect x="321.8" y="671.12" width="9.6" height="4.38" fill="#aeb3bd" stroke="none" stroke-width="0.5" />
<rect x="337.3" y="661.55" width="9.3" height="13.95" fill="#b5def5" stroke="none" stroke-width="0.5" />
<rect x="353.6" y="624.65" width="9.9" height="50.85" fill="#fbd680" stroke="none" stroke-width="0.5" />
<line x1="326.6" y1="675.5" x2="326.6" y2="678" stroke="#231f20" stroke-width="0.7" />
<line x1="326.6" y1="669.92" x2="326.6" y2="672.31" stroke="#5d6270" stroke-width="0.6" />
<line x1="325.1" y1="669.92" x2="328.1" y2="669.92" stroke="#5d6270" stroke-width="0.6" />
<line x1="325.1" y1="672.31" x2="328.1" y2="672.31" stroke="#5d6270" stroke-width="0.6" />
<circle cx="322.99" cy="661.95" r="1.4" fill="none" stroke="#3c4060" stroke-width="0.6" />
<circle cx="326.58" cy="665.14" r="1.4" fill="none" stroke="#3c4060" stroke-width="0.6" />
<circle cx="330.03" cy="667.53" r="1.4" fill="none" stroke="#3c4060" stroke-width="0.6" />
<circle cx="323.06" cy="669.12" r="1.4" fill="none" stroke="#3c4060" stroke-width="0.6" />
<circle cx="326.53" cy="669.92" r="1.4" fill="none" stroke="#3c4060" stroke-width="0.6" />
<circle cx="330.23" cy="670.72" r="1.4" fill="none" stroke="#3c4060" stroke-width="0.6" />
<circle cx="322.91" cy="671.51" r="1.4" fill="none" stroke="#3c4060" stroke-width="0.6" />
<circle cx="326.71" cy="672.31" r="1.4" fill="none" stroke="#3c4060" stroke-width="0.6" />
<circle cx="329.71" cy="673.11" r="1.4" fill="none" stroke="#3c4060" stroke-width="0.6" />
<circle cx="322.94" cy="673.91" r="1.4" fill="none" stroke="#3c4060" stroke-width="0.6" />
<circle cx="326.47" cy="674.7" r="1.4" fill="none" stroke="#3c4060" stroke-width="0.6" />
<line x1="341.95" y1="675.5" x2="341.95" y2="678" stroke="#231f20" stroke-width="0.7" />
<line x1="341.95" y1="654.78" x2="341.95" y2="667.53" stroke="#29a9e1" stroke-width="0.6" />
<line x1="340.45" y1="654.78" x2="343.45" y2="654.78" stroke="#29a9e1" stroke-width="0.6" />
<line x1="340.45" y1="667.53" x2="343.45" y2="667.53" stroke="#29a9e1" stroke-width="0.6" />
<circle cx="338.97" cy="603.77" r="1.3" fill="#29a9e1" stroke="#29a9e1" stroke-width="0.6" />
<circle cx="342.2" cy="641.23" r="1.3" fill="#29a9e1" stroke="#29a9e1" stroke-width="0.6" />
<circle cx="345.32" cy="651.59" r="1.3" fill="#29a9e1" stroke="#29a9e1" stroke-width="0.6" />
<circle cx="338.78" cy="655.58" r="1.3" fill="#29a9e1" stroke="#29a9e1" stroke-width="0.6" />
<circle cx="342.16" cy="659.56" r="1.3" fill="#29a9e1" stroke="#29a9e1" stroke-width="0.6" />
<circle cx="345.11" cy="663.54" r="1.3" fill="#29a9e1" stroke="#29a9e1" stroke-width="0.6" />
<circle cx="339.08" cy="667.53" r="1.3" fill="#29a9e1" stroke="#29a9e1" stroke-width="0.6" />
<circle cx="341.64" cy="670.72" r="1.3" fill="#29a9e1" stroke="#29a9e1" stroke-width="0.6" />
<circle cx="344.57" cy="672.31" r="1.3" fill="#29a9e1" stroke="#29a9e1" stroke-width="0.6" />
<circle cx="338.86" cy="673.91" r="1.3" fill="#29a9e1" stroke="#29a9e1" stroke-width="0.6" />
<line x1="358.55" y1="675.5" x2="358.55" y2="678" stroke="#231f20" stroke-width="0.7" />
<line x1="358.55" y1="614.13" x2="358.55" y2="635.25" stroke="#f7b52c" stroke-width="0.6" />
<line x1="357.05" y1="614.13" x2="360.05" y2="614.13" stroke="#f7b52c" stroke-width="0.6" />
<line x1="357.05" y1="635.25" x2="360.05" y2="635.25" stroke="#f7b52c" stroke-width="0.6" />
<circle cx="355.3" cy="603.77" r="1.4" fill="none" stroke="#f7b52c" stroke-width="0.6" />
<circle cx="358.68" cy="603.77" r="1.4" fill="none" stroke="#f7b52c" stroke-width="0.6" />
<circle cx="361.42" cy="603.77" r="1.4" fill="none" stroke="#f7b52c" stroke-width="0.6" />
<circle cx="355.31" cy="603.77" r="1.4" fill="none" stroke="#f7b52c" stroke-width="0.6" />
<circle cx="358.54" cy="603.77" r="1.4" fill="none" stroke="#f7b52c" stroke-width="0.6" />
<circle cx="361.55" cy="603.77" r="1.4" fill="none" stroke="#f7b52c" stroke-width="0.6" />
<circle cx="355.53" cy="630.87" r="1.4" fill="none" stroke="#f7b52c" stroke-width="0.6" />
<circle cx="358.52" cy="670.72" r="1.4" fill="none" stroke="#f7b52c" stroke-width="0.6" />
<circle cx="361.36" cy="670.72" r="1.4" fill="none" stroke="#f7b52c" stroke-width="0.6" />
<text x="329.6" y="684" font-size="6.5" text-anchor="end" transform="rotate(-45 329.6 684)" stroke="#231f20" stroke-width="0.06">Vehicle</text>
<text x="344.95" y="684" font-size="6.5" text-anchor="end" transform="rotate(-45 344.95 684)" stroke="#231f20" stroke-width="0.06">SN-89B</text>
<text x="361.55" y="684" font-size="6.5" text-anchor="end" transform="rotate(-45 361.55 684)" stroke="#231f20" stroke-width="0.06">Ticagrelor</text>
<rect x="353.6" y="602.3" width="9.9" height="3" fill="#f7b52c" stroke="none" stroke-width="0.6" />
<path d="M326.1,601.4 L326.1,598.6 L342.4,598.6 L342.4,601.4" fill="none" stroke="#231f20" stroke-width="0.8" />
<text x="333.5" y="597.2" font-size="6.2" text-anchor="middle" stroke="#231f20" stroke-width="0.06">ns</text>
<path d="M326.1,594.4 L326.1,591.6 L358.9,591.6 L358.9,594.4" fill="none" stroke="#231f20" stroke-width="0.8" />
<text x="343" y="590.8" font-size="6" text-anchor="middle" stroke="#231f20" stroke-width="0.06">*</text>
<path d="M342.4,586.6 L342.4,583.8 L358.9,583.8 L358.9,586.6" fill="none" stroke="#231f20" stroke-width="0.8" />
<text x="350.4" y="582.8" font-size="6" text-anchor="middle" stroke="#231f20" stroke-width="0.06">*</text>
<text x="279.3" y="631.9" font-size="7.4" text-anchor="middle" textLength="35" lengthAdjust="spacingAndGlyphs" transform="rotate(-90 279.3 631.9)" stroke="#231f20" stroke-width="0.06">Time to first</text>
<text x="288" y="631.9" font-size="7.4" text-anchor="middle" textLength="43.4" lengthAdjust="spacingAndGlyphs" transform="rotate(-90 288 631.9)" stroke="#231f20" stroke-width="0.06">hemostasis (s)</text>
<text x="387.3" y="580.1" font-size="10.6" font-weight="bold" stroke="#231f20" stroke-width="0.06">Q</text>
<line x1="410.5" y1="593.3" x2="410.5" y2="675.5" stroke="#231f20" stroke-width="1" />
<line x1="407.7" y1="675.5" x2="410.5" y2="675.5" stroke="#231f20" stroke-width="0.9" />
<text x="404.7" y="678.44" font-size="6.5" text-anchor="end" fill="#333333" stroke="#333333" stroke-width="0.06">0</text>
<line x1="407.7" y1="648.94" x2="410.5" y2="648.94" stroke="#231f20" stroke-width="0.9" />
<text x="404.7" y="651.88" font-size="6.5" text-anchor="end" fill="#333333" stroke="#333333" stroke-width="0.06">2</text>
<line x1="407.7" y1="622.38" x2="410.5" y2="622.38" stroke="#231f20" stroke-width="0.9" />
<text x="404.7" y="625.32" font-size="6.5" text-anchor="end" fill="#333333" stroke="#333333" stroke-width="0.06">4</text>
<line x1="407.7" y1="595.82" x2="410.5" y2="595.82" stroke="#231f20" stroke-width="0.9" />
<text x="404.7" y="598.76" font-size="6.5" text-anchor="end" fill="#333333" stroke="#333333" stroke-width="0.06">6</text>
<line x1="410" y1="675.5" x2="463.3" y2="675.5" stroke="#231f20" stroke-width="1" />
<rect x="415" y="669.13" width="10.2" height="6.37" fill="#aeb3bd" stroke="none" stroke-width="0.5" />
<rect x="430.5" y="669.13" width="9.9" height="6.37" fill="#b5def5" stroke="none" stroke-width="0.5" />
<rect x="447" y="643.63" width="10.6" height="31.87" fill="#fbd680" stroke="none" stroke-width="0.5" />
<line x1="420.1" y1="675.5" x2="420.1" y2="678" stroke="#231f20" stroke-width="0.7" />
<line x1="420.1" y1="666.2" x2="420.1" y2="671.52" stroke="#5d6270" stroke-width="0.6" />
<line x1="418.6" y1="666.2" x2="421.6" y2="666.2" stroke="#5d6270" stroke-width="0.6" />
<line x1="418.6" y1="671.52" x2="421.6" y2="671.52" stroke="#5d6270" stroke-width="0.6" />
<circle cx="416.74" cy="636.06" r="1.4" fill="none" stroke="#3c4060" stroke-width="0.6" />
<circle cx="420.33" cy="657.57" r="1.4" fill="none" stroke="#3c4060" stroke-width="0.6" />
<circle cx="423.62" cy="665.54" r="1.4" fill="none" stroke="#3c4060" stroke-width="0.6" />
<circle cx="416.61" cy="668.86" r="1.4" fill="none" stroke="#3c4060" stroke-width="0.6" />
<circle cx="420.01" cy="670.19" r="1.4" fill="none" stroke="#3c4060" stroke-width="0.6" />
<circle cx="424" cy="671.52" r="1.4" fill="none" stroke="#3c4060" stroke-width="0.6" />
<circle cx="416.43" cy="672.84" r="1.4" fill="none" stroke="#3c4060" stroke-width="0.6" />
<circle cx="419.82" cy="673.51" r="1.4" fill="none" stroke="#3c4060" stroke-width="0.6" />
<circle cx="423.41" cy="674.17" r="1.4" fill="none" stroke="#3c4060" stroke-width="0.6" />
<line x1="435.45" y1="675.5" x2="435.45" y2="678" stroke="#231f20" stroke-width="0.7" />
<line x1="435.45" y1="665.54" x2="435.45" y2="671.52" stroke="#29a9e1" stroke-width="0.6" />
<line x1="433.95" y1="665.54" x2="436.95" y2="665.54" stroke="#29a9e1" stroke-width="0.6" />
<line x1="433.95" y1="671.52" x2="436.95" y2="671.52" stroke="#29a9e1" stroke-width="0.6" />
<circle cx="432.27" cy="619.06" r="1.3" fill="#29a9e1" stroke="#29a9e1" stroke-width="0.6" />
<circle cx="435.6" cy="660.89" r="1.3" fill="#29a9e1" stroke="#29a9e1" stroke-width="0.6" />
<circle cx="439.16" cy="663.55" r="1.3" fill="#29a9e1" stroke="#29a9e1" stroke-width="0.6" />
<circle cx="432.27" cy="667.53" r="1.3" fill="#29a9e1" stroke="#29a9e1" stroke-width="0.6" />
<circle cx="435.26" cy="668.86" r="1.3" fill="#29a9e1" stroke="#29a9e1" stroke-width="0.6" />
<circle cx="439.06" cy="670.19" r="1.3" fill="#29a9e1" stroke="#29a9e1" stroke-width="0.6" />
<circle cx="432.27" cy="671.52" r="1.3" fill="#29a9e1" stroke="#29a9e1" stroke-width="0.6" />
<circle cx="435.75" cy="672.84" r="1.3" fill="#29a9e1" stroke="#29a9e1" stroke-width="0.6" />
<circle cx="439.01" cy="674.17" r="1.3" fill="#29a9e1" stroke="#29a9e1" stroke-width="0.6" />
<line x1="452.3" y1="675.5" x2="452.3" y2="678" stroke="#231f20" stroke-width="0.7" />
<line x1="452.3" y1="636.59" x2="452.3" y2="650.27" stroke="#f7b52c" stroke-width="0.6" />
<line x1="450.8" y1="636.59" x2="453.8" y2="636.59" stroke="#f7b52c" stroke-width="0.6" />
<line x1="450.8" y1="650.27" x2="453.8" y2="650.27" stroke="#f7b52c" stroke-width="0.6" />
<circle cx="448.53" cy="612.42" r="1.4" fill="none" stroke="#f7b52c" stroke-width="0.6" />
<circle cx="452.45" cy="624.37" r="1.4" fill="none" stroke="#f7b52c" stroke-width="0.6" />
<circle cx="455.91" cy="631.01" r="1.4" fill="none" stroke="#f7b52c" stroke-width="0.6" />
<circle cx="448.78" cy="633.67" r="1.4" fill="none" stroke="#f7b52c" stroke-width="0.6" />
<circle cx="452.07" cy="636.32" r="1.4" fill="none" stroke="#f7b52c" stroke-width="0.6" />
<circle cx="456.03" cy="639.64" r="1.4" fill="none" stroke="#f7b52c" stroke-width="0.6" />
<circle cx="449.05" cy="648.94" r="1.4" fill="none" stroke="#f7b52c" stroke-width="0.6" />
<circle cx="452.31" cy="654.25" r="1.4" fill="none" stroke="#f7b52c" stroke-width="0.6" />
<circle cx="455.8" cy="662.22" r="1.4" fill="none" stroke="#f7b52c" stroke-width="0.6" />
<circle cx="448.59" cy="668.86" r="1.4" fill="none" stroke="#f7b52c" stroke-width="0.6" />
<text x="423.1" y="684" font-size="6.5" text-anchor="end" transform="rotate(-45 423.1 684)" stroke="#231f20" stroke-width="0.06">Vehicle</text>
<text x="438.45" y="684" font-size="6.5" text-anchor="end" transform="rotate(-45 438.45 684)" stroke="#231f20" stroke-width="0.06">SN-89B</text>
<text x="455.3" y="684" font-size="6.5" text-anchor="end" transform="rotate(-45 455.3 684)" stroke="#231f20" stroke-width="0.06">Ticagrelor</text>
<path d="M419.5,609.2 L419.5,606.5 L435.3,606.5 L435.3,609.2" fill="none" stroke="#231f20" stroke-width="0.8" />
<text x="427.3" y="605.2" font-size="6.2" text-anchor="middle" stroke="#231f20" stroke-width="0.06">ns</text>
<path d="M419.5,602.3 L419.5,599.8 L452.3,599.8 L452.3,602.3" fill="none" stroke="#231f20" stroke-width="0.8" />
<text x="435.8" y="599" font-size="6" text-anchor="middle" stroke="#231f20" stroke-width="0.06">***</text>
<path d="M435.3,593.7 L435.3,591.2 L452.3,591.2 L452.3,593.7" fill="none" stroke="#231f20" stroke-width="0.8" />
<text x="443.8" y="590.6" font-size="6" text-anchor="middle" stroke="#231f20" stroke-width="0.06">**</text>
<text x="395.6" y="632.4" font-size="7.4" text-anchor="middle" textLength="57" lengthAdjust="spacingAndGlyphs" transform="rotate(-90 395.6 632.4)" stroke="#231f20" stroke-width="0.06">Hemoglobin (A<tspan font-size="4.8" dy="1.6">550</tspan><tspan dy="-1.6">)</tspan></text>
</g>
<rect x="0.5" y="0.5" width="519" height="711" fill="none" stroke="#4a4a4a" stroke-width="1"/>
</svg></body></html>
